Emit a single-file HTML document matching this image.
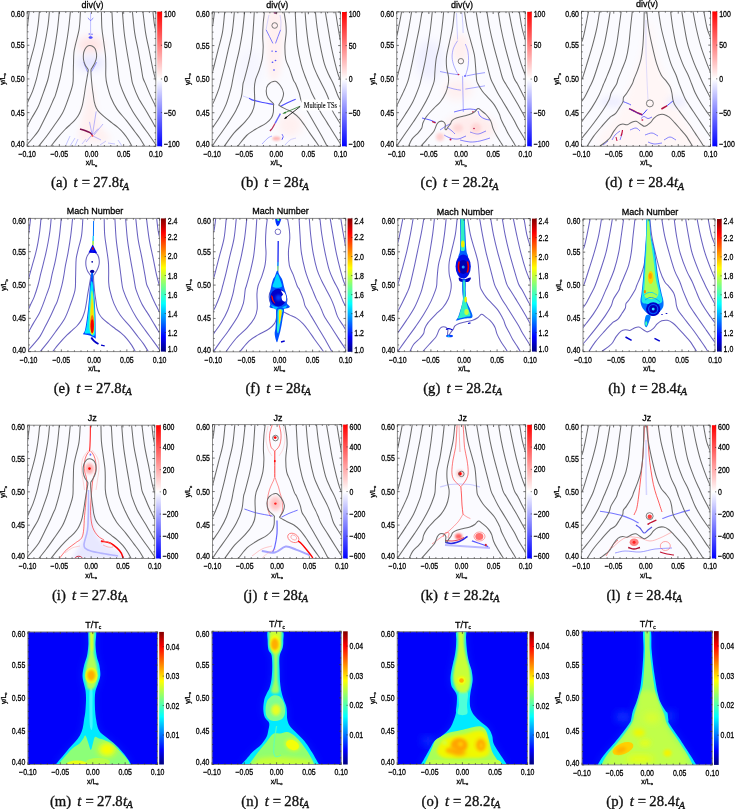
<!DOCTYPE html>
<html><head><meta charset="utf-8"><style>
html,body{margin:0;padding:0;background:#fff;}
svg.main{display:block;font-family:'Liberation Sans', sans-serif;will-change:transform;}
text{stroke:#000;stroke-width:0.28px;paint-order:stroke;}
text.cap{stroke-width:0.32px;}
</style></head><body>
<svg class="main" width="735" height="809" viewBox="0 0 735 809">
<rect width="735" height="809" fill="#fff"/>
<defs>
<linearGradient id="rwb" x1="0" y1="0" x2="0" y2="1">
<stop offset="0" stop-color="#ff0000"/><stop offset="0.5" stop-color="#ffffff"/><stop offset="1" stop-color="#0000ff"/>
</linearGradient>
<linearGradient id="jet" x1="0" y1="1" x2="0" y2="0">
<stop offset="0" stop-color="#000080"/><stop offset="0.11" stop-color="#0000ff"/><stop offset="0.36" stop-color="#00ffff"/>
<stop offset="0.5" stop-color="#7fff7f"/><stop offset="0.63" stop-color="#ffff00"/><stop offset="0.89" stop-color="#ff0000"/><stop offset="1" stop-color="#800000"/>
</linearGradient>
<filter id="b0_5" x="-50%" y="-50%" width="200%" height="200%"><feGaussianBlur stdDeviation="0.5"/></filter><filter id="b0_7" x="-50%" y="-50%" width="200%" height="200%"><feGaussianBlur stdDeviation="0.7"/></filter><filter id="b1" x="-50%" y="-50%" width="200%" height="200%"><feGaussianBlur stdDeviation="1"/></filter><filter id="b1_5" x="-50%" y="-50%" width="200%" height="200%"><feGaussianBlur stdDeviation="1.5"/></filter><filter id="b2" x="-50%" y="-50%" width="200%" height="200%"><feGaussianBlur stdDeviation="2"/></filter><filter id="b3" x="-50%" y="-50%" width="200%" height="200%"><feGaussianBlur stdDeviation="3"/></filter><filter id="b4" x="-50%" y="-50%" width="200%" height="200%"><feGaussianBlur stdDeviation="4"/></filter><filter id="b5" x="-50%" y="-50%" width="200%" height="200%"><feGaussianBlur stdDeviation="5"/></filter><filter id="b6" x="-50%" y="-50%" width="200%" height="200%"><feGaussianBlur stdDeviation="6"/></filter><clipPath id="cm"><path d="M88.9 630C87.65 632.5 88.72 640.67 88.4 645C88.08 649.33 87.7 652.67 87 656C86.3 659.33 84.95 661.75 84.2 665C83.45 668.25 82.53 672.33 82.5 675.5C82.47 678.67 83.48 681.42 84 684C84.52 686.58 85.27 688.33 85.6 691C85.93 693.67 86.05 696.5 86 700C85.95 703.5 85.63 708.67 85.3 712C84.97 715.33 84.43 717.3 84 720C83.57 722.7 83.38 725.6 82.7 728.2C82.02 730.8 81.15 733.33 79.9 735.6C78.65 737.87 77.02 739.63 75.2 741.8C73.38 743.97 71.05 746.22 69 748.6C66.95 750.98 65.05 753.5 62.9 756.1C60.75 758.7 57.5 762.38 56.1 764.2C54.7 766.02 55.03 766.07 54.5 767L132 767C131.6 765.97 131.45 765.15 130.8 763.9C130.15 762.65 129.12 761.03 128.1 759.5C127.08 757.97 125.95 756.3 124.7 754.7C123.45 753.1 122.07 751.48 120.6 749.9C119.13 748.32 117.6 746.78 115.9 745.2C114.2 743.62 112.22 741.88 110.4 740.4C108.58 738.92 106.7 737.67 105 736.3C103.3 734.93 101.43 733.75 100.2 732.2C98.97 730.65 98.27 729.03 97.6 727C96.93 724.97 96.6 722.5 96.2 720C95.8 717.5 95.43 715.33 95.2 712C94.97 708.67 94.75 703.5 94.8 700C94.85 696.5 94.98 693.67 95.5 691C96.02 688.33 97.1 686.58 97.9 684C98.7 681.42 100.07 678.67 100.3 675.5C100.53 672.33 99.87 668.08 99.3 665C98.73 661.92 97.53 660.33 96.9 657C96.27 653.67 95.67 649.5 95.5 645C95.33 640.5 97 632.5 95.9 630C94.8 627.5 90.15 627.5 88.9 630Z"/></clipPath><clipPath id="cn"><path d="M268.6 630C266.18 631.83 267.72 637.67 267.7 641C267.68 644.33 267.92 647.83 268.5 650C269.08 652.17 270.6 652.33 271.2 654C271.8 655.67 271.93 657.33 272.1 660C272.27 662.67 272.32 666.67 272.2 670C272.08 673.33 271.85 677 271.4 680C270.95 683 270.32 685.67 269.5 688C268.68 690.33 267.38 692 266.5 694C265.62 696 264.73 697.4 264.2 700C263.67 702.6 263.2 706.73 263.3 709.6C263.4 712.47 263.95 715.2 264.8 717.2C265.65 719.2 267.65 720.33 268.4 721.6C269.15 722.87 269.33 723.23 269.3 724.8C269.27 726.37 268.67 728.97 268.2 731C267.73 733.03 267.65 734.77 266.5 737C265.35 739.23 263.63 741.9 261.3 744.4C258.97 746.9 254.97 749.57 252.5 752C250.03 754.43 248.33 756.92 246.5 759C244.67 761.08 242.58 763.17 241.5 764.5C240.42 765.83 240.5 766.17 240 767L320 766C319.13 764.6 318.65 763.95 317.4 761.8C316.15 759.65 314.23 756 312.5 753.1C310.77 750.2 308.82 746.93 307 744.4C305.18 741.87 303.6 740.07 301.6 737.9C299.6 735.73 297.02 733.47 295 731.4C292.98 729.33 290.8 727.57 289.5 725.5C288.2 723.43 287.63 721.25 287.2 719C286.77 716.75 287.07 714.12 286.9 712C286.73 709.88 286.77 708.47 286.2 706.3C285.63 704.13 284.37 701.72 283.5 699C282.63 696.28 281.6 693.17 281 690C280.4 686.83 280.13 683.33 279.9 680C279.67 676.67 279.7 673.33 279.6 670C279.5 666.67 279.22 662.67 279.3 660C279.38 657.33 279.55 656 280.1 654C280.65 652 282.07 650.17 282.6 648C283.13 645.83 283.37 644 283.3 641C283.23 638 284.65 631.83 282.2 630C279.75 628.17 271.02 628.17 268.6 630Z"/></clipPath><clipPath id="co"><path d="M456.7 630C455.15 631.67 456.45 636.83 456.3 640C456.15 643.17 456.1 646.17 455.8 649C455.5 651.83 454.95 654.67 454.5 657C454.05 659.33 453.65 660.5 453.1 663C452.55 665.5 451.63 669.33 451.2 672C450.77 674.67 450.45 676.67 450.5 679C450.55 681.33 450.92 684.17 451.5 686C452.08 687.83 453.13 688.5 454 690C454.87 691.5 456.23 692.83 456.7 695C457.17 697.17 456.92 700.5 456.8 703C456.68 705.5 456.22 708 456 710C455.78 712 456.4 712.13 455.5 715C454.6 717.87 452.85 723.73 450.6 727.2C448.35 730.67 444.65 733.55 442 735.8C439.35 738.05 436.53 738.87 434.7 740.7C432.87 742.53 432.43 744.35 431 746.8C429.57 749.25 427.73 752.53 426.1 755.4C424.47 758.27 422.22 762.07 421.2 764C420.18 765.93 420.4 766 420 767L506.5 767C506.23 765.6 507.05 765.35 505.7 762.8C504.35 760.25 500.43 754.97 498.4 751.7C496.37 748.43 494.53 745.85 493.5 743.2C492.47 740.55 493.02 738.25 492.2 735.8C491.38 733.35 490.43 730.75 488.6 728.5C486.77 726.25 483.65 724.55 481.2 722.3C478.75 720.05 475.68 717.38 473.9 715C472.12 712.62 471.18 710.5 470.5 708C469.82 705.5 469.78 702.67 469.8 700C469.82 697.33 470.27 694.33 470.6 692C470.93 689.67 471.45 688.17 471.8 686C472.15 683.83 472.75 681.67 472.7 679C472.65 676.33 472.08 672.67 471.5 670C470.92 667.33 469.87 665.5 469.2 663C468.53 660.5 467.95 657.83 467.5 655C467.05 652.17 466.75 648.83 466.5 646C466.25 643.17 466.15 640.67 466 638C465.85 635.33 467.15 631.33 465.6 630C464.05 628.67 458.25 628.33 456.7 630Z"/></clipPath><clipPath id="cp"><path d="M643.5 630C642.32 633.17 643.65 642.9 643.5 649C643.35 655.1 643.05 660.68 642.6 666.6C642.15 672.52 641.4 680.03 640.8 684.5C640.2 688.97 639.73 690.43 639 693.4C638.27 696.37 637.43 699.33 636.4 702.3C635.37 705.27 633.7 708.25 632.8 711.2C631.9 714.15 631.6 717.92 631 720C630.4 722.08 631.28 720.7 629.2 723.7C627.12 726.7 622.8 732.65 618.5 738C614.2 743.35 606.98 751.13 603.4 755.8C599.82 760.47 598.23 764.13 597 766C595.77 767.87 596.33 766.67 596 767L698 767C697.67 766.67 698.22 767.87 697 766C695.78 764.13 693.68 760.47 690.7 755.8C687.72 751.13 682.67 743.35 679.1 738C675.53 732.65 671.08 726.7 669.3 723.7C667.52 720.7 668.7 721.78 668.4 720C668.1 718.22 667.93 714.47 667.5 713C667.07 711.53 666.98 712.98 665.8 711.2C664.62 709.42 661.75 705.27 660.4 702.3C659.05 699.33 658.43 696.37 657.7 693.4C656.97 690.43 656.73 688.97 656 684.5C655.27 680.03 654.05 672.52 653.3 666.6C652.55 660.68 651.95 655.1 651.5 649C651.05 642.9 651.93 633.17 650.6 630C649.27 626.83 644.68 626.83 643.5 630Z"/></clipPath>
</defs>
<g id="pa"><svg x="27.2" y="11.6" width="128.6" height="134.7" viewBox="27.2 11.6 128.6 134.7" preserveAspectRatio="none" overflow="hidden"><rect x="26.2" y="10.6" width="130.6" height="136.7" fill="#fbfbff"/><ellipse cx="90.5" cy="45" rx="13" ry="9" fill="#ffe4e4" filter="url(#b4)"/><ellipse cx="90.5" cy="63" rx="14" ry="7" fill="#e6e6ff" filter="url(#b4)"/><path d="M86 100C87 94.17 87 87.5 88 85C89 82.5 90.83 82.5 92 85C93.17 87.5 93.67 93.33 95 100C96.33 106.67 97.5 118.33 100 125C102.5 131.67 113.33 137.5 110 140C106.67 142.5 84.67 143.33 80 140C75.33 136.67 81 126.67 82 120C83 113.33 85 105.83 86 100Z" fill="#fff0f0" filter="url(#b3)"/><path d="M90.6 12.5C90.6 16.67 90.6 20.58 90.6 25C90.6 29.42 90.6 34.33 90.6 39" stroke="#9090ff" stroke-width="0.8" fill="none" opacity="0.7"/><path d="M88 17.8C88.87 18.7 89.73 20.5 90.6 20.5C91.47 20.5 92.33 18.7 93.2 17.8" stroke="#6060ff" stroke-width="0.9" fill="none" opacity="0.8"/><ellipse cx="90.6" cy="37.5" rx="2" ry="1.2" fill="#5050ff" filter="url(#b0_5)"/><ellipse cx="89.3" cy="34" rx="0.8" ry="0.8" fill="#7070ff" filter="url(#b0_3)"/><ellipse cx="92" cy="34.2" rx="0.8" ry="0.8" fill="#7070ff" filter="url(#b0_3)"/><path d="M83.8 62.2C84.47 63.97 85.17 65.87 85.8 67.5C86.43 69.13 87 70.5 87.6 72" stroke="#6060ff" stroke-width="0.8" fill="none" opacity="0.8"/><path d="M96.6 62.2C95.67 63.97 94.65 65.93 93.8 67.5C92.95 69.07 92.27 70.23 91.5 71.6" stroke="#6060ff" stroke-width="0.8" fill="none" opacity="0.8"/><path d="M80 129C81.6 129.5 83.22 129.93 84.8 130.5C86.38 131.07 88.23 131.68 89.5 132.4C90.77 133.12 91.43 134 92.4 134.8" stroke="#801050" stroke-width="1.5" fill="none"/><ellipse cx="92.4" cy="135.7" rx="1" ry="1" fill="#ff4040" filter="url(#b0_4)"/><path d="M92.4 135L96.2 111.4" stroke="#7070ff" stroke-width="0.7" fill="none" opacity="0.7"/><path d="M92 134L89.5 121.9" stroke="#7070ff" stroke-width="0.7" fill="none" opacity="0.7"/><path d="M93.5 134L98 128.6" stroke="#7070ff" stroke-width="0.7" fill="none" opacity="0.7"/><path d="M93 136L101 140" stroke="#7070ff" stroke-width="0.7" fill="none" opacity="0.7"/><path d="M91 136L86 142" stroke="#7070ff" stroke-width="0.7" fill="none" opacity="0.7"/><path d="M94 135L103 124" stroke="#7070ff" stroke-width="0.7" fill="none" opacity="0.7"/><path d="M66 145L70 136" stroke="#8080ff" stroke-width="0.7" fill="none" opacity="0.6"/><path d="M70 146L75 138" stroke="#8080ff" stroke-width="0.7" fill="none" opacity="0.6"/><path d="M75 146L78 139" stroke="#8080ff" stroke-width="0.7" fill="none" opacity="0.6"/><path d="M82 144L86 139" stroke="#8080ff" stroke-width="0.7" fill="none" opacity="0.6"/><path d="M100 145L106 141" stroke="#8080ff" stroke-width="0.7" fill="none" opacity="0.6"/><path d="M108 143L115 144" stroke="#8080ff" stroke-width="0.7" fill="none" opacity="0.6"/><path d="M118 140L122 146" stroke="#8080ff" stroke-width="0.7" fill="none" opacity="0.6"/><path d="M29.2 11.6C28.9 14.07 28.63 16.35 28.3 19C27.97 21.65 27.58 25.17 27.2 27.5C26.82 29.83 26.4 31.17 26 33M39.4 11.6C39 15.73 38.7 19.93 38.2 24C37.7 28.07 37.08 32.17 36.4 36C35.72 39.83 34.97 43.4 34.1 47C33.23 50.6 32.02 54.6 31.2 57.6C30.38 60.6 29.87 62.52 29.2 65C28.53 67.48 27.73 70.67 27.2 72.5C26.67 74.33 26.4 74.83 26 76M49.4 11.6C49 15.73 48.72 19.93 48.2 24C47.68 28.07 46.98 32.17 46.3 36C45.62 39.83 44.88 43.4 44.1 47C43.32 50.6 42.45 54.1 41.6 57.6C40.75 61.1 39.87 64.4 39 68C38.13 71.6 37.45 75.38 36.4 79.2C35.35 83.02 33.85 87.77 32.7 90.9C31.55 94.03 30.42 95.93 29.5 98C28.58 100.07 27.78 101.97 27.2 103.3C26.62 104.63 26.4 105.1 26 106M59.3 11.6C58.6 18.27 58.13 24.65 57.2 31.6C56.27 38.55 54.85 47.23 53.7 53.3C52.55 59.37 51.27 63.63 50.3 68C49.33 72.37 49 75.52 47.9 79.5C46.8 83.48 44.88 88.48 43.7 91.9C42.52 95.32 41.83 97.3 40.8 100C39.77 102.7 38.97 105.18 37.5 108.1C36.03 111.02 33.72 114.48 32 117.5C30.28 120.52 28.2 124.45 27.2 126.2C26.2 127.95 26.4 127.4 26 128M70.4 11.6C69.8 17.3 69.35 22.9 68.6 28.7C67.85 34.5 66.78 41.23 65.9 46.4C65.02 51.57 64 55.77 63.3 59.7C62.6 63.63 62.28 66.7 61.7 70C61.12 73.3 60.82 75.38 59.8 79.5C58.78 83.62 56.68 91.28 55.6 94.7C54.52 98.12 54.42 97.45 53.3 100C52.18 102.55 50.53 106.5 48.9 110C47.27 113.5 45.25 117.52 43.5 121C41.75 124.48 40.32 127.9 38.4 130.9C36.48 133.9 33.87 136.73 32 139C30.13 141.27 28.2 143.33 27.2 144.5C26.2 145.67 26.4 145.5 26 146M80.5 11.6C80.07 17.3 80 23.35 79.2 28.7C78.4 34.05 76.58 39.72 75.7 43.7C74.82 47.68 74.27 49.2 73.9 52.6C73.53 56 73.6 60.87 73.5 64.1C73.4 67.33 73.43 68.63 73.3 72C73.17 75.37 73.62 79.63 72.7 84.3C71.78 88.97 69.52 95.17 67.8 100C66.08 104.83 64.78 108.88 62.4 113.3C60.02 117.72 56.23 122.55 53.5 126.5C50.77 130.45 48.5 133.7 46 137C43.5 140.3 39.92 144.47 38.5 146.3C37.08 148.13 37.83 147.43 37.5 148M50.8 146.3C52.9 143.63 54.73 141.1 57.1 138.3C59.47 135.5 62.85 131.75 65 129.5C67.15 127.25 68.4 126.32 70 124.8C71.6 123.28 73.27 121.87 74.6 120.4C75.93 118.93 77.05 117.48 78 116C78.95 114.52 79.57 113.3 80.3 111.5C81.03 109.7 81.77 107.78 82.4 105.2C83.03 102.62 83.62 98.87 84.1 96C84.58 93.13 84.82 91 85.3 88C85.78 85 86.52 80.92 87 78C87.48 75.08 88.12 72.08 88.2 70.5C88.28 68.92 88 69.42 87.5 68.5C87 67.58 85.85 66.42 85.2 65C84.55 63.58 83.88 61.83 83.6 60C83.32 58.17 83.3 55.75 83.5 54C83.7 52.25 84.18 50.78 84.8 49.5C85.42 48.22 86.37 46.97 87.2 46.3C88.03 45.63 88.92 45.52 89.8 45.5C90.68 45.48 91.63 45.7 92.5 46.2C93.37 46.7 94.35 47.37 95 48.5C95.65 49.63 96.17 51.42 96.4 53C96.63 54.58 96.67 56.33 96.4 58C96.13 59.67 95.48 61.42 94.8 63C94.12 64.58 92.93 66.33 92.3 67.5C91.67 68.67 91.17 68.25 91 70C90.83 71.75 91.08 75 91.3 78C91.52 81 91.97 85.17 92.3 88C92.63 90.83 92.97 92.7 93.3 95C93.63 97.3 93.8 99.65 94.3 101.8C94.8 103.95 95.4 106.08 96.3 107.9C97.2 109.72 98.1 111 99.7 112.7C101.3 114.4 103.85 116.4 105.9 118.1C107.95 119.8 109.97 121.3 112 122.9C114.03 124.5 116.18 126 118.1 127.7C120.02 129.4 121.77 131.05 123.5 133.1C125.23 135.15 127.08 137.8 128.5 140C129.92 142.2 131.25 144.97 132 146.3C132.75 147.63 132.67 147.43 133 148M101.4 11.6C101.57 17.13 101.52 23.15 101.9 28.2C102.28 33.25 103.1 37.33 103.7 41.9C104.3 46.47 105.15 51.58 105.5 55.6C105.85 59.62 105.75 62.6 105.8 66C105.85 69.4 105.62 72.98 105.8 76C105.98 79.02 106.03 80.47 106.9 84.1C107.77 87.73 109.27 93.55 111 97.8C112.73 102.05 114.72 105.8 117.3 109.6C119.88 113.4 123.6 116.95 126.5 120.6C129.4 124.25 132.45 128.52 134.7 131.5C136.95 134.48 138.33 136.03 140 138.5C141.67 140.97 143.7 144.72 144.7 146.3C145.7 147.88 145.57 147.43 146 148M111.9 11.6C112.33 18.67 112.6 26.23 113.2 32.8C113.8 39.37 114.73 44.92 115.5 51C116.27 57.08 117.28 65.13 117.8 69.3C118.32 73.47 118.22 73.53 118.6 76C118.98 78.47 118.93 80.47 120.1 84.1C121.27 87.73 123.48 93.23 125.6 97.8C127.72 102.37 130.07 106.95 132.8 111.5C135.53 116.05 139.25 121.15 142 125.1C144.75 129.05 147 131.97 149.3 135.2C151.6 138.43 154.52 142.7 155.8 144.5C157.08 146.3 156.6 145.5 157 146M122.4 11.6C123 18.67 123.45 26.23 124.2 32.8C124.95 39.37 125.92 44.92 126.9 51C127.88 57.08 129.33 64.8 130.1 69.3C130.87 73.8 131.05 75.53 131.5 78C131.95 80.47 131.67 80.8 132.8 84.1C133.93 87.4 136.02 93.23 138.3 97.8C140.58 102.37 143.92 107.1 146.5 111.5C149.08 115.9 152.25 121.53 153.8 124.2C155.35 126.87 155.27 126.7 155.8 127.5C156.33 128.3 156.6 128.5 157 129M132.4 11.6C133.17 18.67 133.72 26.23 134.7 32.8C135.68 39.37 137.17 44.92 138.3 51C139.43 57.08 140.72 64.8 141.5 69.3C142.28 73.8 142.32 75.53 143 78C143.68 80.47 144.4 81.25 145.6 84.1C146.8 86.95 148.5 91.37 150.2 95.1C151.9 98.83 154.67 104.18 155.8 106.5C156.93 108.82 156.6 108.17 157 109M142.9 11.6C143.8 18.67 144.53 26.23 145.6 32.8C146.67 39.37 148.08 44.92 149.3 51C150.52 57.08 151.92 64.8 152.9 69.3C153.88 73.8 154.72 76.22 155.2 78C155.68 79.78 155.5 79.33 155.8 80C156.1 80.67 156.6 81.33 157 82M152.9 11.6C153.37 15.63 153.82 20.47 154.3 23.7C154.78 26.93 155.35 29.28 155.8 31C156.25 32.72 156.6 33 157 34" fill="none" stroke="#6c6c6c" stroke-width="1.05"/></svg>
<rect x="27.2" y="11.6" width="128.6" height="134.7" fill="none" stroke="#8a8a8a" stroke-width="1"/>
<path d="M27.2 146.3v-2.2M27.2 11.6v2.2M27.2 11.6h2.2M155.8 11.6h-2.2M33.63 146.3v-1.3M33.63 11.6v1.3M27.2 18.34h1.3M155.8 18.34h-1.3M40.06 146.3v-1.3M40.06 11.6v1.3M27.2 25.07h1.3M155.8 25.07h-1.3M46.49 146.3v-1.3M46.49 11.6v1.3M27.2 31.8h1.3M155.8 31.8h-1.3M52.92 146.3v-1.3M52.92 11.6v1.3M27.2 38.54h1.3M155.8 38.54h-1.3M59.35 146.3v-2.2M59.35 11.6v2.2M27.2 45.28h2.2M155.8 45.28h-2.2M65.78 146.3v-1.3M65.78 11.6v1.3M27.2 52.01h1.3M155.8 52.01h-1.3M72.21 146.3v-1.3M72.21 11.6v1.3M27.2 58.75h1.3M155.8 58.75h-1.3M78.64 146.3v-1.3M78.64 11.6v1.3M27.2 65.48h1.3M155.8 65.48h-1.3M85.07 146.3v-1.3M85.07 11.6v1.3M27.2 72.22h1.3M155.8 72.22h-1.3M91.5 146.3v-2.2M91.5 11.6v2.2M27.2 78.95h2.2M155.8 78.95h-2.2M97.93 146.3v-1.3M97.93 11.6v1.3M27.2 85.69h1.3M155.8 85.69h-1.3M104.36 146.3v-1.3M104.36 11.6v1.3M27.2 92.42h1.3M155.8 92.42h-1.3M110.79 146.3v-1.3M110.79 11.6v1.3M27.2 99.16h1.3M155.8 99.16h-1.3M117.22 146.3v-1.3M117.22 11.6v1.3M27.2 105.89h1.3M155.8 105.89h-1.3M123.65 146.3v-2.2M123.65 11.6v2.2M27.2 112.62h2.2M155.8 112.62h-2.2M130.08 146.3v-1.3M130.08 11.6v1.3M27.2 119.36h1.3M155.8 119.36h-1.3M136.51 146.3v-1.3M136.51 11.6v1.3M27.2 126.09h1.3M155.8 126.09h-1.3M142.94 146.3v-1.3M142.94 11.6v1.3M27.2 132.83h1.3M155.8 132.83h-1.3M149.37 146.3v-1.3M149.37 11.6v1.3M27.2 139.56h1.3M155.8 139.56h-1.3M155.8 146.3v-2.2M155.8 11.6v2.2M27.2 146.3h2.2M155.8 146.3h-2.2" stroke="#333" stroke-width="0.7" fill="none"/>
<g fill="#000"><text x="11.06" y="16.82" font-size="8.4" textLength="13.54" lengthAdjust="spacingAndGlyphs">0.60</text><text x="11.06" y="48.3" font-size="8.4" textLength="13.54" lengthAdjust="spacingAndGlyphs">0.55</text><text x="11.06" y="81.97" font-size="8.4" textLength="13.54" lengthAdjust="spacingAndGlyphs">0.50</text><text x="11.06" y="115.65" font-size="8.4" textLength="13.54" lengthAdjust="spacingAndGlyphs">0.45</text><text x="11.06" y="147.22" font-size="8.4" textLength="13.54" lengthAdjust="spacingAndGlyphs">0.40</text><text x="18.4" y="157.22" font-size="8.4" textLength="17.61" lengthAdjust="spacingAndGlyphs">−0.10</text><text x="50.55" y="157.22" font-size="8.4" textLength="17.61" lengthAdjust="spacingAndGlyphs">−0.05</text><text x="84.73" y="157.22" font-size="8.4" textLength="13.54" lengthAdjust="spacingAndGlyphs">0.00</text><text x="116.88" y="157.22" font-size="8.4" textLength="13.54" lengthAdjust="spacingAndGlyphs">0.05</text><text x="149.03" y="157.22" font-size="8.4" textLength="13.54" lengthAdjust="spacingAndGlyphs">0.10</text><text x="164" y="16.82" font-size="8.4" textLength="11.61" lengthAdjust="spacingAndGlyphs">100</text><text x="164" y="48.3" font-size="8.4" textLength="7.74" lengthAdjust="spacingAndGlyphs">50</text><text x="164" y="81.97" font-size="8.4" textLength="3.87" lengthAdjust="spacingAndGlyphs">0</text><text x="164" y="115.65" font-size="8.4" textLength="11.8" lengthAdjust="spacingAndGlyphs">−50</text><text x="164" y="147.02" font-size="8.4" textLength="15.67" lengthAdjust="spacingAndGlyphs">−100</text></g>
<text x="91.5" y="165.3" font-size="7" text-anchor="middle" fill="#000">x/L<tspan font-size="4" dy="1.2">o</tspan></text>
<text transform="translate(5,78.95) rotate(-90)" font-size="7" text-anchor="middle" fill="#000">y/L<tspan font-size="4" dy="1.2">o</tspan></text>
<text x="92.5" y="7.6" font-size="9" text-anchor="middle" fill="#000">div(v)</text>
<rect x="157.2" y="11.6" width="4.9" height="134.7" fill="url(#rwb)"/>
<path d="M162.1 11.6h-1.2M162.1 45.28h-1.2M162.1 78.95h-1.2M162.1 112.62h-1.2M162.1 146.3h-1.2" stroke="#222" stroke-width="0.6"/>
<g class="cap" font-family="'Liberation Serif', serif" font-size="14.7" fill="#111"><text class="cap" x="51.09" y="187.3">(a)</text><text class="cap" x="73.61" y="187.3" font-style="italic">t</text><text class="cap" x="81.69" y="187.3">=</text><text class="cap" x="93.28" y="187.3">27.8</text><text class="cap" x="119.21" y="187.3" font-style="italic">t</text><text class="cap" x="122.81" y="189.9" font-style="italic" font-size="10.3">A</text></g>
</g>
<g id="pb"><svg x="212.2" y="12" width="128.2" height="134.3" viewBox="212.2 12 128.2 134.3" preserveAspectRatio="none" overflow="hidden"><rect x="211.2" y="11" width="130.2" height="136.3" fill="#fbfbff"/><path d="M268 13C270.5 8.5 278.5 8.5 281 13C283.5 17.5 283.17 30.5 283 40C282.83 49.5 281.17 63.33 280 70C278.83 76.67 277.33 78.33 276 80C274.67 81.67 273.33 81.67 272 80C270.67 78.33 269 76.67 268 70C267 63.33 266 49.5 266 40C266 30.5 265.5 17.5 268 13Z" fill="#fff0f0" filter="url(#b3)"/><ellipse cx="250" cy="70" rx="12" ry="20" fill="#f6f6ff" filter="url(#b5)"/><path d="M266.1 29.8C267.23 32.07 268.37 34.33 269.5 36.6C270.63 38.87 271.77 41.13 272.9 43.4" stroke="#6060ff" stroke-width="0.9" fill="none" opacity="0.9"/><path d="M280.6 29.8C279.73 32.07 278.85 34.33 278 36.6C277.15 38.87 276.33 41.13 275.5 43.4" stroke="#6060ff" stroke-width="0.9" fill="none" opacity="0.9"/><path d="M269 15C268.5 17.33 267.98 19.53 267.5 22C267.02 24.47 266.57 27.2 266.1 29.8" stroke="#a0a0ff" stroke-width="0.7" fill="none" opacity="0.6"/><path d="M280 15C280.33 17.33 280.9 19.53 281 22C281.1 24.47 280.73 27.2 280.6 29.8" stroke="#a0a0ff" stroke-width="0.7" fill="none" opacity="0.6"/><ellipse cx="272.1" cy="51.1" rx="0.9" ry="0.7" fill="#5050ff" filter="url(#b0_3)"/><ellipse cx="275.9" cy="51.5" rx="0.9" ry="0.7" fill="#5050ff" filter="url(#b0_3)"/><ellipse cx="272.5" cy="62.2" rx="0.9" ry="0.7" fill="#5050ff" filter="url(#b0_3)"/><ellipse cx="275.5" cy="60.5" rx="0.9" ry="0.7" fill="#5050ff" filter="url(#b0_3)"/><ellipse cx="274" cy="70" rx="0.9" ry="0.7" fill="#5050ff" filter="url(#b0_3)"/><ellipse cx="275.5" cy="12.8" rx="2" ry="1" fill="#802060" filter="url(#b0_3)"/><path d="M249 98.2C250.57 98.93 251.37 99.68 253.7 100.4C256.03 101.12 259.73 101.83 263 102.5C266.27 103.17 269.87 103.77 273.3 104.4" stroke="#3030ff" stroke-width="1.2" fill="none" opacity="0.85"/><path d="M243 96C245 96.73 247 97.47 249 98.2" stroke="#b0b0ff" stroke-width="0.9" fill="none" opacity="0.6"/><path d="M280.4 106.4C282.6 105.27 284.45 104.2 287 103C289.55 101.8 292.8 100.47 295.7 99.2" stroke="#3030ff" stroke-width="1.2" fill="none" opacity="0.85"/><path d="M280.4 113.6C279.6 115.07 278.9 116.35 278 118C277.1 119.65 276 121.67 275 123.5" stroke="#2020ff" stroke-width="1.4" fill="none" opacity="0.9"/><path d="M275 123.5C274.17 125 273.33 126.75 272.5 128C271.67 129.25 270.83 130 270 131" stroke="#b02050" stroke-width="1.3" fill="none"/><ellipse cx="276.5" cy="138.4" rx="4" ry="2" fill="#ffb0b0" filter="url(#b1)"/><path d="M282 134 Q284.5 136.5 282 139.7" stroke="#3030ff" stroke-width="1" fill="none"/><path d="M262 144C264 142 266.33 139.33 268 138C269.67 136.67 270.67 136.67 272 136" stroke="#7070ff" stroke-width="0.8" fill="none" opacity="0.7"/><path d="M285 145C286.67 143.33 288.17 141.17 290 140C291.83 138.83 294 138.67 296 138" stroke="#9090ff" stroke-width="0.8" fill="none" opacity="0.6"/><ellipse cx="290" cy="125" rx="12" ry="12" fill="#fff0f0" filter="url(#b4)"/><path d="M214.5 12C214 15.77 213.43 20.88 213 23.3C212.57 25.72 212.32 25.55 211.9 26.5C211.48 27.45 210.97 28.17 210.5 29M224.7 12C223.97 18.7 223.6 25.8 222.5 32.1C221.4 38.4 219.57 43.9 218.1 49.8C216.63 55.7 214.73 63.52 213.7 67.5C212.67 71.48 212.43 72.12 211.9 73.7C211.37 75.28 210.97 75.9 210.5 77M234.4 12C233.67 18.7 233.23 25.8 232.2 32.1C231.17 38.4 229.52 43.9 228.2 49.8C226.88 55.7 225.47 62.5 224.3 67.5C223.13 72.5 222.08 76.32 221.2 79.8C220.32 83.28 220.1 85.05 219 88.4C217.9 91.75 215.78 97.08 214.6 99.9C213.42 102.72 212.58 103.95 211.9 105.3C211.22 106.65 210.97 107.1 210.5 108M244.6 12C243.87 18.7 243.28 25.8 242.4 32.1C241.52 38.4 240.4 44.35 239.3 49.8C238.2 55.25 236.9 59.8 235.8 64.8C234.7 69.8 233.5 75.87 232.7 79.8C231.9 83.73 232.1 84.3 231 88.4C229.9 92.5 227.95 99.67 226.1 104.4C224.25 109.13 222.12 112.95 219.9 116.8C217.68 120.65 214.13 125.47 212.8 127.5C211.47 129.53 212.28 128.42 211.9 129C211.52 129.58 210.97 130.33 210.5 131M254.3 12C253.87 18.7 253.52 25.8 253 32.1C252.48 38.4 252.02 44.35 251.2 49.8C250.38 55.25 249.27 59.8 248.1 64.8C246.93 69.8 245.05 76.62 244.2 79.8C243.35 82.98 243.48 81 243 83.9C242.52 86.8 242.48 92.75 241.3 97.2C240.12 101.65 238.28 106 235.9 110.6C233.52 115.2 229.97 120.35 227 124.8C224.03 129.25 220.47 133.88 218.1 137.3C215.73 140.72 213.9 143.6 212.8 145.3C211.7 147 211.93 146.77 211.5 147.5M264.5 12C264.07 15.77 263.5 19.22 263.2 23.3C262.9 27.38 262.7 32.53 262.7 36.5C262.7 40.47 263.27 43.42 263.2 47.1C263.13 50.78 262.97 54.77 262.3 58.6C261.63 62.43 260.33 66.57 259.2 70.1C258.07 73.63 256.3 76.82 255.5 79.8C254.7 82.78 254.55 84.05 254.4 88C254.25 91.95 255.02 99.43 254.6 103.5C254.18 107.57 253.53 109.28 251.9 112.4C250.27 115.52 247.77 118.78 244.8 122.2C241.83 125.62 237.52 128.88 234.1 132.9C230.68 136.92 226.07 143.78 224.3 146.3C222.53 148.82 223.77 147.43 223.5 148M237.7 146.3C240.67 142.7 243.63 138.33 246.6 135.5C249.57 132.67 252.23 131.37 255.5 129.3C258.77 127.23 263.53 125.03 266.2 123.1C268.87 121.17 270.32 119.48 271.5 117.7C272.68 115.92 272.97 114.38 273.3 112.4C273.63 110.42 273.5 107.28 273.5 105.8C273.5 104.32 274.22 104.78 273.3 103.5C272.38 102.22 269.18 100.18 268 98.1C266.82 96.02 266.2 93.22 266.2 91C266.2 88.78 266.52 86.43 268 84.8C269.48 83.17 273.03 81.03 275.1 81.2C277.17 81.37 279 83.83 280.4 85.8C281.8 87.77 283.2 90.77 283.5 93C283.8 95.23 282.92 97.33 282.2 99.2C281.48 101.07 279.65 103.13 279.2 104.2C278.75 105.27 278.4 104.78 279.5 105.6C280.6 106.42 283.55 107.92 285.8 109.1C288.05 110.28 290.77 111.2 293 112.7C295.23 114.2 297.27 116 299.2 118.1C301.13 120.2 302.8 122.75 304.6 125.3C306.4 127.85 308.05 130.57 310 133.4C311.95 136.23 314.8 140.15 316.3 142.3C317.8 144.45 318.38 145.35 319 146.3C319.62 147.25 319.67 147.43 320 148M284 12C284.6 15.83 285.43 20.1 285.8 23.5C286.17 26.9 286.35 28.67 286.2 32.4C286.05 36.13 284.97 41.4 284.9 45.9C284.83 50.4 285.05 55.65 285.8 59.4C286.55 63.15 288.13 64.97 289.4 68.4C290.67 71.83 292.35 77.4 293.4 80C294.45 82.6 294.73 81.83 295.7 84C296.67 86.17 298.32 90.32 299.2 93C300.08 95.68 300.2 98.1 301 100.1C301.8 102.1 302.95 103.2 304 105C305.05 106.8 305.55 107.82 307.3 110.9C309.05 113.98 312.1 119.3 314.5 123.5C316.9 127.7 319.6 132.3 321.7 136.1C323.8 139.9 326.05 144.32 327.1 146.3C328.15 148.28 327.7 147.43 328 148M295.2 12C295.5 17.33 295.73 22.35 296.1 28C296.47 33.65 296.58 39.92 297.4 45.9C298.22 51.88 299.8 59.05 301 63.9C302.2 68.75 303.4 71.65 304.6 75C305.8 78.35 307 81 308.2 84C309.4 87 310.75 90.62 311.8 93C312.85 95.38 313.63 96.47 314.5 98.3C315.37 100.13 316.1 101.9 317 104C317.9 106.1 318.22 107.8 319.9 110.9C321.58 114 324.7 118.7 327.1 122.6C329.5 126.5 332.08 130.77 334.3 134.3C336.52 137.83 339.2 141.85 340.4 143.8C341.6 145.75 341.13 145.27 341.5 146M305.1 12C305.53 17.33 305.8 22.35 306.4 28C307 33.65 307.65 39.92 308.7 45.9C309.75 51.88 311.28 59.05 312.7 63.9C314.12 68.75 315.7 71.65 317.2 75C318.7 78.35 320.2 81 321.7 84C323.2 87 324.98 90.33 326.2 93C327.42 95.67 327.95 97.02 329 100C330.05 102.98 331.02 107.58 332.5 110.9C333.98 114.22 336.58 117.72 337.9 119.9C339.22 122.08 339.8 122.98 340.4 124C341 125.02 341.13 125.33 341.5 126M315.4 12C316 17.33 316.38 22.35 317.2 28C318.02 33.65 319.1 39.92 320.3 45.9C321.5 51.88 322.97 59.05 324.4 63.9C325.83 68.75 327.4 71.65 328.9 75C330.4 78.35 331.9 80.55 333.4 84C334.9 87.45 336.73 92.95 337.9 95.7C339.07 98.45 339.8 99.28 340.4 100.5C341 101.72 341.13 102.17 341.5 103M325.3 12C326.2 17.33 327.03 22.35 328 28C328.97 33.65 329.9 39.92 331.1 45.9C332.3 51.88 334 59.05 335.2 63.9C336.4 68.75 337.43 72.4 338.3 75C339.17 77.6 339.87 78.33 340.4 79.5C340.93 80.67 341.13 81.17 341.5 82M335.6 12C336.2 15.83 336.72 19.35 337.4 23.5C338.08 27.65 339.2 34.15 339.7 36.9C340.2 39.65 340.1 38.98 340.4 40C340.7 41.02 341.13 42 341.5 43" fill="none" stroke="#6c6c6c" stroke-width="1.05"/><circle cx="274.7" cy="25.5" r="2.8" fill="none" stroke="#6c6c6c" stroke-width="0.9"/><rect x="301.5" y="99.5" width="38.5" height="11" fill="#fff"/><text x="303.8" y="108.2" font-family="Liberation Serif, serif" font-size="7.6" fill="#000" style="stroke-width:0.1px" textLength="33.2" lengthAdjust="spacingAndGlyphs">Multiple TSs</text><path d="M300.1 106.2 L283.5 113.3" stroke="#2a7a2a" stroke-width="0.8"/><path d="M282.2 113.8 L285.6 111.4 L286.1 113.2 Z" fill="#2a7a2a"/><path d="M300.1 106.6 L285 118.4" stroke="#000" stroke-width="0.8"/><path d="M283.8 119.3 L286.2 116.2 L287.2 117.9 Z" fill="#000"/></svg>
<rect x="212.2" y="12" width="128.2" height="134.3" fill="none" stroke="#8a8a8a" stroke-width="1"/>
<path d="M212.2 146.3v-2.2M212.2 12v2.2M212.2 12h2.2M340.4 12h-2.2M218.61 146.3v-1.3M218.61 12v1.3M212.2 18.71h1.3M340.4 18.71h-1.3M225.02 146.3v-1.3M225.02 12v1.3M212.2 25.43h1.3M340.4 25.43h-1.3M231.43 146.3v-1.3M231.43 12v1.3M212.2 32.15h1.3M340.4 32.15h-1.3M237.84 146.3v-1.3M237.84 12v1.3M212.2 38.86h1.3M340.4 38.86h-1.3M244.25 146.3v-2.2M244.25 12v2.2M212.2 45.58h2.2M340.4 45.58h-2.2M250.66 146.3v-1.3M250.66 12v1.3M212.2 52.29h1.3M340.4 52.29h-1.3M257.07 146.3v-1.3M257.07 12v1.3M212.2 59.01h1.3M340.4 59.01h-1.3M263.48 146.3v-1.3M263.48 12v1.3M212.2 65.72h1.3M340.4 65.72h-1.3M269.89 146.3v-1.3M269.89 12v1.3M212.2 72.44h1.3M340.4 72.44h-1.3M276.3 146.3v-2.2M276.3 12v2.2M212.2 79.15h2.2M340.4 79.15h-2.2M282.71 146.3v-1.3M282.71 12v1.3M212.2 85.87h1.3M340.4 85.87h-1.3M289.12 146.3v-1.3M289.12 12v1.3M212.2 92.58h1.3M340.4 92.58h-1.3M295.53 146.3v-1.3M295.53 12v1.3M212.2 99.3h1.3M340.4 99.3h-1.3M301.94 146.3v-1.3M301.94 12v1.3M212.2 106.01h1.3M340.4 106.01h-1.3M308.35 146.3v-2.2M308.35 12v2.2M212.2 112.73h2.2M340.4 112.73h-2.2M314.76 146.3v-1.3M314.76 12v1.3M212.2 119.44h1.3M340.4 119.44h-1.3M321.17 146.3v-1.3M321.17 12v1.3M212.2 126.16h1.3M340.4 126.16h-1.3M327.58 146.3v-1.3M327.58 12v1.3M212.2 132.87h1.3M340.4 132.87h-1.3M333.99 146.3v-1.3M333.99 12v1.3M212.2 139.59h1.3M340.4 139.59h-1.3M340.4 146.3v-2.2M340.4 12v2.2M212.2 146.3h2.2M340.4 146.3h-2.2" stroke="#333" stroke-width="0.7" fill="none"/>
<g fill="#000"><text x="196.06" y="17.22" font-size="8.4" textLength="13.54" lengthAdjust="spacingAndGlyphs">0.60</text><text x="196.06" y="48.6" font-size="8.4" textLength="13.54" lengthAdjust="spacingAndGlyphs">0.55</text><text x="196.06" y="82.17" font-size="8.4" textLength="13.54" lengthAdjust="spacingAndGlyphs">0.50</text><text x="196.06" y="115.75" font-size="8.4" textLength="13.54" lengthAdjust="spacingAndGlyphs">0.45</text><text x="196.06" y="147.22" font-size="8.4" textLength="13.54" lengthAdjust="spacingAndGlyphs">0.40</text><text x="203.4" y="157.22" font-size="8.4" textLength="17.61" lengthAdjust="spacingAndGlyphs">−0.10</text><text x="235.45" y="157.22" font-size="8.4" textLength="17.61" lengthAdjust="spacingAndGlyphs">−0.05</text><text x="269.53" y="157.22" font-size="8.4" textLength="13.54" lengthAdjust="spacingAndGlyphs">0.00</text><text x="301.58" y="157.22" font-size="8.4" textLength="13.54" lengthAdjust="spacingAndGlyphs">0.05</text><text x="333.63" y="157.22" font-size="8.4" textLength="13.54" lengthAdjust="spacingAndGlyphs">0.10</text><text x="348.7" y="17.22" font-size="8.4" textLength="11.61" lengthAdjust="spacingAndGlyphs">100</text><text x="348.7" y="48.6" font-size="8.4" textLength="7.74" lengthAdjust="spacingAndGlyphs">50</text><text x="348.7" y="82.17" font-size="8.4" textLength="3.87" lengthAdjust="spacingAndGlyphs">0</text><text x="348.7" y="115.75" font-size="8.4" textLength="11.8" lengthAdjust="spacingAndGlyphs">−50</text><text x="348.7" y="147.02" font-size="8.4" textLength="15.67" lengthAdjust="spacingAndGlyphs">−100</text></g>
<text x="276.3" y="165.3" font-size="7" text-anchor="middle" fill="#000">x/L<tspan font-size="4" dy="1.2">o</tspan></text>
<text transform="translate(190,79.15) rotate(-90)" font-size="7" text-anchor="middle" fill="#000">y/L<tspan font-size="4" dy="1.2">o</tspan></text>
<text x="277.3" y="8" font-size="9" text-anchor="middle" fill="#000">div(v)</text>
<rect x="342" y="12" width="4.8" height="134.3" fill="url(#rwb)"/>
<path d="M346.8 12h-1.2M346.8 45.58h-1.2M346.8 79.15h-1.2M346.8 112.73h-1.2M346.8 146.3h-1.2" stroke="#222" stroke-width="0.6"/>
<g class="cap" font-family="'Liberation Serif', serif" font-size="14.7" fill="#111"><text class="cap" x="240.99" y="187.3">(b)</text><text class="cap" x="264.33" y="187.3" font-style="italic">t</text><text class="cap" x="272.42" y="187.3">=</text><text class="cap" x="284.01" y="187.3">28</text><text class="cap" x="298.91" y="187.3" font-style="italic">t</text><text class="cap" x="302.51" y="189.9" font-style="italic" font-size="10.3">A</text></g>
</g>
<g id="pc"><svg x="396.7" y="11.8" width="128.6" height="134.5" viewBox="396.7 11.8 128.6 134.5" preserveAspectRatio="none" overflow="hidden"><rect x="395.7" y="10.8" width="130.6" height="136.5" fill="#fbfbff"/><ellipse cx="460" cy="48" rx="9" ry="14" fill="#fff0f0" filter="url(#b3)"/><ellipse cx="458" cy="90" rx="14" ry="10" fill="#fff0f0" filter="url(#b4)"/><ellipse cx="470" cy="128" rx="25" ry="14" fill="#ffecec" filter="url(#b4)"/><ellipse cx="430" cy="60" rx="14" ry="20" fill="#f0f0ff" filter="url(#b5)"/><path d="M456.5 13C456.67 17.33 456.82 21.57 457 26C457.18 30.43 457.4 35.07 457.6 39.6" stroke="#a0a0ff" stroke-width="0.7" fill="none" opacity="0.7"/><path d="M462 13C462.27 16.67 462.62 20.67 462.8 24C462.98 27.33 463 30 463.1 33" stroke="#a0a0ff" stroke-width="0.7" fill="none" opacity="0.7"/><path d="M457.6 40.7C456.23 43.13 454.42 45.25 453.5 48C452.58 50.75 452.02 54.2 452.1 57.2C452.18 60.2 453.08 63.25 454 66C454.92 68.75 456.4 71.13 457.6 73.7" stroke="#7070ff" stroke-width="0.8" fill="none" opacity="0.7"/><path d="M465.3 44C466.13 46.33 467.25 48.25 467.8 51C468.35 53.75 468.65 57.5 468.6 60.5C468.55 63.5 468.05 66.43 467.5 69C466.95 71.57 466.03 73.6 465.3 75.9" stroke="#7070ff" stroke-width="0.8" fill="none" opacity="0.7"/><path d="M440 71.5C443.33 72.17 446.88 72.95 450 73.5C453.12 74.05 455.8 74.37 458.7 74.8" stroke="#6060ff" stroke-width="1.0" fill="none" opacity="0.6"/><path d="M466.4 75.9C469.6 75.27 472.9 74.55 476 74C479.1 73.45 482 73.07 485 72.6" stroke="#6060ff" stroke-width="1.0" fill="none" opacity="0.6"/><path d="M446.6 86.9C449.07 87.6 451.62 88.45 454 89C456.38 89.55 458.6 89.8 460.9 90.2" stroke="#7070ff" stroke-width="1.0" fill="none" opacity="0.6"/><path d="M465.3 89.1C468.53 88.57 471.72 88.05 475 87.5C478.28 86.95 481.67 86.37 485 85.8" stroke="#7070ff" stroke-width="1.0" fill="none" opacity="0.6"/><path d="M462.6 75.9C462.67 79.93 462.72 83.98 462.8 88C462.88 92.02 463.02 96 463.1 100C463.18 104 463.23 108 463.3 112" stroke="#8080ff" stroke-width="0.9" fill="none" opacity="0.7"/><ellipse cx="458.5" cy="74.5" rx="1" ry="0.7" fill="#c02050" filter="url(#b0_3)"/><ellipse cx="465" cy="76" rx="1" ry="0.7" fill="#3030ff" filter="url(#b0_3)"/><path d="M422 118C424.67 118.67 427.67 119.25 430 120C432.33 120.75 434 121.67 436 122.5" stroke="#3030ff" stroke-width="1.0" fill="none" opacity="0.8"/><path d="M432 121.5C433.17 122 434.33 122.5 435.5 123" stroke="#c01030" stroke-width="1.3" fill="none"/><path d="M454 112C456.67 111.33 459.33 110.5 462 110C464.67 109.5 467.5 109 470 109C472.5 109 474.67 109.67 477 110" stroke="#5050ff" stroke-width="1.0" fill="none" opacity="0.8"/><ellipse cx="473" cy="112" rx="1" ry="0.8" fill="#c01030" filter="url(#b0_3)"/><path d="M478 111C478.67 112.67 478.83 114.67 480 116C481.17 117.33 483.33 118.33 485 119C486.67 119.67 488.33 119.67 490 120" stroke="#4040ff" stroke-width="0.9" fill="none" opacity="0.8"/><path d="M444 135C446 136 447.67 137.33 450 138C452.33 138.67 455.33 139.33 458 139C460.67 138.67 463.33 137 466 136" stroke="#4040ff" stroke-width="0.9" fill="none" opacity="0.7"/><path d="M470 132C472.67 132.67 475.33 134.17 478 134C480.67 133.83 483.33 132 486 131" stroke="#4040ff" stroke-width="0.9" fill="none" opacity="0.7"/><path d="M448 128C449.33 129 450.83 130 452 131C453.17 132 454 133 455 134" stroke="#4040ff" stroke-width="0.9" fill="none" opacity="0.7"/><path d="M460 140C463.33 140.67 466.67 141.83 470 142C473.33 142.17 476.67 141.67 480 141C483.33 140.33 486.67 139 490 138" stroke="#4040ff" stroke-width="0.9" fill="none" opacity="0.7"/><path d="M440 130C442 128.67 444.33 127 446 126C447.67 125 448.67 124.67 450 124" stroke="#4040ff" stroke-width="0.9" fill="none" opacity="0.7"/><ellipse cx="458" cy="128" rx="5" ry="4" fill="#ffd8d8" filter="url(#b1_5)"/><ellipse cx="476" cy="128" rx="5" ry="5" fill="#ffd8d8" filter="url(#b1_5)"/><ellipse cx="440" cy="137" rx="4" ry="4" fill="#ffd0d0" filter="url(#b1_5)"/><ellipse cx="450.5" cy="139.5" rx="1" ry="0.9" fill="#c01040" filter="url(#b0_3)"/><ellipse cx="474" cy="128.5" rx="0.8" ry="0.8" fill="#c01040" filter="url(#b0_3)"/><path d="M401.6 11.8C400.9 15.53 400.22 19.27 399.5 23C398.78 26.73 397.88 31.7 397.3 34.2C396.72 36.7 396.43 36.73 396 38M411.6 11.8C410.73 16.97 410.02 21.83 409 27.3C407.98 32.77 406.8 38.83 405.5 44.6C404.2 50.37 402.57 56.57 401.2 61.9C399.83 67.23 398.17 73.58 397.3 76.6C396.43 79.62 396.43 78.87 396 80M422 11.8C421.13 16.97 420.42 21.83 419.4 27.3C418.38 32.77 417.07 38.83 415.9 44.6C414.73 50.37 413.63 56.13 412.4 61.9C411.17 67.67 409.6 75.08 408.5 79.2C407.4 83.32 407 83.73 405.8 86.6C404.6 89.47 402.63 93.58 401.3 96.4C399.97 99.22 398.68 101.9 397.8 103.5C396.92 105.1 396.6 105.17 396 106M432.3 11.8C431.73 16.97 431.32 21.83 430.6 27.3C429.88 32.77 428.93 38.83 428 44.6C427.07 50.37 426.15 56.13 425 61.9C423.85 67.67 422.08 75.08 421.1 79.2C420.12 83.32 420.47 82.85 419.1 86.6C417.73 90.35 415.27 96.97 412.9 101.7C410.53 106.43 407.42 111 404.9 115C402.38 119 399.28 123.53 397.8 125.7C396.32 127.87 396.6 127.23 396 128M443.7 11.8C443.13 17.1 442.73 22.1 442 27.7C441.27 33.3 440.27 40.25 439.3 45.4C438.33 50.55 436.93 54.18 436.2 58.6C435.47 63.02 435.18 68.5 434.9 71.9C434.62 75.3 434.75 77 434.5 79C434.25 81 434.33 81.15 433.4 83.9C432.47 86.65 430.83 91.35 428.9 95.5C426.97 99.65 424.32 104.5 421.8 108.8C419.28 113.1 416.47 117.3 413.8 121.3C411.13 125.3 408.47 128.95 405.8 132.8C403.13 136.65 399.43 142.03 397.8 144.4C396.17 146.77 396.6 146.13 396 147M454.4 11.8C453.8 17.1 453.42 22.67 452.6 27.7C451.78 32.73 450.5 37.28 449.5 42C448.5 46.72 447.08 51.75 446.6 56C446.12 60.25 446.28 64 446.6 67.5C446.92 71 448.23 74.25 448.5 77C448.77 79.75 448.65 81.37 448.2 84C447.75 86.63 447.08 89.85 445.8 92.8C444.52 95.75 442.57 99.03 440.5 101.7C438.43 104.37 435.77 106.28 433.4 108.8C431.03 111.32 428.05 114.43 426.3 116.8C424.55 119.17 423.65 121.13 422.9 123C422.15 124.87 422.58 126.37 421.8 128C421.02 129.63 419.83 130.95 418.2 132.8C416.57 134.65 413.62 136.85 412 139.1C410.38 141.35 409.25 144.82 408.5 146.3C407.75 147.78 407.83 147.43 407.5 148M420.9 146.3C422.97 143.9 425.02 141.48 427.1 139.1C429.18 136.72 432.05 133.78 433.4 132C434.75 130.22 434.6 129.73 435.2 128.4C435.8 127.07 436.27 125.15 437 124C437.73 122.85 438.55 121.9 439.6 121.5C440.65 121.1 442.35 121.12 443.3 121.6C444.25 122.08 445.02 123.17 445.3 124.4C445.58 125.63 444.8 128.15 445 129C445.2 129.85 445.97 129.87 446.5 129.5C447.03 129.13 447.52 127.78 448.2 126.8C448.88 125.82 449.93 124.68 450.6 123.6C451.27 122.52 451.25 121.25 452.2 120.3C453.15 119.35 454.52 118.58 456.3 117.9C458.08 117.22 460.72 116.75 462.9 116.2C465.08 115.65 467.5 115.28 469.4 114.6C471.3 113.92 472.87 113.1 474.3 112.1C475.73 111.1 476.78 108.8 478 108.6C479.22 108.4 480.27 109.92 481.6 110.9C482.93 111.88 484.67 113.15 486 114.5C487.33 115.85 488.7 117.65 489.6 119C490.5 120.35 490.8 120.95 491.4 122.6C492 124.25 492.3 126.65 493.2 128.9C494.1 131.15 495.45 133.72 496.8 136.1C498.15 138.48 500.25 141.5 501.3 143.2C502.35 144.9 502.65 145.5 503.1 146.3C503.55 147.1 503.7 147.43 504 148M464.5 11.8C465.4 17.2 466.15 23.07 467.2 28C468.25 32.93 469.6 36.92 470.8 41.4C472 45.88 473.58 50.4 474.4 54.9C475.22 59.4 475.33 64.22 475.7 68.4C476.07 72.58 476.22 77.4 476.6 80C476.98 82.6 477.03 82.13 478 84C478.97 85.87 480.62 88.82 482.4 91.2C484.18 93.58 486.75 96.07 488.7 98.3C490.65 100.53 492.6 102.5 494.1 104.6C495.6 106.7 496.8 109.25 497.7 110.9C498.6 112.55 498.9 113 499.5 114.5C500.1 116 500.4 117.8 501.3 119.9C502.2 122 503.7 124.7 504.9 127.1C506.1 129.5 507.15 131.9 508.5 134.3C509.85 136.7 511.8 139.5 513 141.5C514.2 143.5 515.12 145.22 515.7 146.3C516.28 147.38 516.23 147.43 516.5 148M476.2 11.8C477.1 17.2 477.87 22.32 478.9 28C479.93 33.68 481.07 39.92 482.4 45.9C483.73 51.88 485.55 58.55 486.9 63.9C488.25 69.25 489.45 74.65 490.5 78C491.55 81.35 492 81.5 493.2 84C494.4 86.5 496.05 90.02 497.7 93C499.35 95.98 501.3 98.92 503.1 101.9C504.9 104.88 506.7 107.9 508.5 110.9C510.3 113.9 512.4 117.2 513.9 119.9C515.4 122.6 516 124.4 517.5 127.1C519 129.8 521.6 133.95 522.9 136.1C524.2 138.25 524.7 139.02 525.3 140C525.9 140.98 526.1 141.33 526.5 142M486.9 11.8C487.8 17.2 488.47 22.32 489.6 28C490.73 33.68 492.2 39.92 493.7 45.9C495.2 51.88 497.13 58.55 498.6 63.9C500.07 69.25 501.3 74.65 502.5 78C503.7 81.35 504.35 81.5 505.8 84C507.25 86.5 509.25 89.72 511.2 93C513.15 96.28 515.55 100.27 517.5 103.7C519.45 107.13 521.6 111.22 522.9 113.6C524.2 115.98 524.7 116.93 525.3 118C525.9 119.07 526.1 119.33 526.5 120M498.2 11.8C499.1 17.2 499.78 22.32 500.9 28C502.02 33.68 503.42 39.92 504.9 45.9C506.38 51.88 508.28 58.55 509.8 63.9C511.32 69.25 512.72 74.65 514 78C515.28 81.35 516.02 81.2 517.5 84C518.98 86.8 521.6 92.3 522.9 94.8C524.2 97.3 524.7 97.97 525.3 99C525.9 100.03 526.1 100.33 526.5 101M508.9 11.8C509.97 17.2 510.9 22.32 512.1 28C513.3 33.68 514.6 39.92 516.1 45.9C517.6 51.88 519.57 59.05 521.1 63.9C522.63 68.75 524.4 72.65 525.3 75C526.2 77.35 526.1 77 526.5 78M519.3 11.8C520.2 17.2 521 23.37 522 28C523 32.63 524.55 37.27 525.3 39.6C526.05 41.93 526.1 41.2 526.5 42" fill="none" stroke="#6c6c6c" stroke-width="1.05"/><circle cx="460.9" cy="61.2" r="2.7" fill="none" stroke="#6c6c6c" stroke-width="0.9"/></svg>
<rect x="396.7" y="11.8" width="128.6" height="134.5" fill="none" stroke="#8a8a8a" stroke-width="1"/>
<path d="M396.7 146.3v-2.2M396.7 11.8v2.2M396.7 11.8h2.2M525.3 11.8h-2.2M403.13 146.3v-1.3M403.13 11.8v1.3M396.7 18.52h1.3M525.3 18.52h-1.3M409.56 146.3v-1.3M409.56 11.8v1.3M396.7 25.25h1.3M525.3 25.25h-1.3M415.99 146.3v-1.3M415.99 11.8v1.3M396.7 31.98h1.3M525.3 31.98h-1.3M422.42 146.3v-1.3M422.42 11.8v1.3M396.7 38.7h1.3M525.3 38.7h-1.3M428.85 146.3v-2.2M428.85 11.8v2.2M396.7 45.42h2.2M525.3 45.42h-2.2M435.28 146.3v-1.3M435.28 11.8v1.3M396.7 52.15h1.3M525.3 52.15h-1.3M441.71 146.3v-1.3M441.71 11.8v1.3M396.7 58.88h1.3M525.3 58.88h-1.3M448.14 146.3v-1.3M448.14 11.8v1.3M396.7 65.6h1.3M525.3 65.6h-1.3M454.57 146.3v-1.3M454.57 11.8v1.3M396.7 72.33h1.3M525.3 72.33h-1.3M461 146.3v-2.2M461 11.8v2.2M396.7 79.05h2.2M525.3 79.05h-2.2M467.43 146.3v-1.3M467.43 11.8v1.3M396.7 85.77h1.3M525.3 85.77h-1.3M473.86 146.3v-1.3M473.86 11.8v1.3M396.7 92.5h1.3M525.3 92.5h-1.3M480.29 146.3v-1.3M480.29 11.8v1.3M396.7 99.22h1.3M525.3 99.22h-1.3M486.72 146.3v-1.3M486.72 11.8v1.3M396.7 105.95h1.3M525.3 105.95h-1.3M493.15 146.3v-2.2M493.15 11.8v2.2M396.7 112.67h2.2M525.3 112.67h-2.2M499.58 146.3v-1.3M499.58 11.8v1.3M396.7 119.4h1.3M525.3 119.4h-1.3M506.01 146.3v-1.3M506.01 11.8v1.3M396.7 126.12h1.3M525.3 126.12h-1.3M512.44 146.3v-1.3M512.44 11.8v1.3M396.7 132.85h1.3M525.3 132.85h-1.3M518.87 146.3v-1.3M518.87 11.8v1.3M396.7 139.58h1.3M525.3 139.58h-1.3M525.3 146.3v-2.2M525.3 11.8v2.2M396.7 146.3h2.2M525.3 146.3h-2.2" stroke="#333" stroke-width="0.7" fill="none"/>
<g fill="#000"><text x="380.56" y="17.02" font-size="8.4" textLength="13.54" lengthAdjust="spacingAndGlyphs">0.60</text><text x="380.56" y="48.45" font-size="8.4" textLength="13.54" lengthAdjust="spacingAndGlyphs">0.55</text><text x="380.56" y="82.07" font-size="8.4" textLength="13.54" lengthAdjust="spacingAndGlyphs">0.50</text><text x="380.56" y="115.7" font-size="8.4" textLength="13.54" lengthAdjust="spacingAndGlyphs">0.45</text><text x="380.56" y="147.22" font-size="8.4" textLength="13.54" lengthAdjust="spacingAndGlyphs">0.40</text><text x="387.9" y="157.22" font-size="8.4" textLength="17.61" lengthAdjust="spacingAndGlyphs">−0.10</text><text x="420.05" y="157.22" font-size="8.4" textLength="17.61" lengthAdjust="spacingAndGlyphs">−0.05</text><text x="454.23" y="157.22" font-size="8.4" textLength="13.54" lengthAdjust="spacingAndGlyphs">0.00</text><text x="486.38" y="157.22" font-size="8.4" textLength="13.54" lengthAdjust="spacingAndGlyphs">0.05</text><text x="518.53" y="157.22" font-size="8.4" textLength="13.54" lengthAdjust="spacingAndGlyphs">0.10</text><text x="533.7" y="17.02" font-size="8.4" textLength="11.61" lengthAdjust="spacingAndGlyphs">100</text><text x="533.7" y="48.45" font-size="8.4" textLength="7.74" lengthAdjust="spacingAndGlyphs">50</text><text x="533.7" y="82.07" font-size="8.4" textLength="3.87" lengthAdjust="spacingAndGlyphs">0</text><text x="533.7" y="115.7" font-size="8.4" textLength="11.8" lengthAdjust="spacingAndGlyphs">−50</text><text x="533.7" y="147.02" font-size="8.4" textLength="15.67" lengthAdjust="spacingAndGlyphs">−100</text></g>
<text x="461" y="165.3" font-size="7" text-anchor="middle" fill="#000">x/L<tspan font-size="4" dy="1.2">o</tspan></text>
<text transform="translate(374.5,79.05) rotate(-90)" font-size="7" text-anchor="middle" fill="#000">y/L<tspan font-size="4" dy="1.2">o</tspan></text>
<text x="462" y="7.8" font-size="9" text-anchor="middle" fill="#000">div(v)</text>
<rect x="527.2" y="11.8" width="4.6" height="134.5" fill="url(#rwb)"/>
<path d="M531.8 11.8h-1.2M531.8 45.43h-1.2M531.8 79.05h-1.2M531.8 112.68h-1.2M531.8 146.3h-1.2" stroke="#222" stroke-width="0.6"/>
<g class="cap" font-family="'Liberation Serif', serif" font-size="14.7" fill="#111"><text class="cap" x="420.59" y="187.3">(c)</text><text class="cap" x="443.11" y="187.3" font-style="italic">t</text><text class="cap" x="451.19" y="187.3">=</text><text class="cap" x="462.78" y="187.3">28.2</text><text class="cap" x="488.71" y="187.3" font-style="italic">t</text><text class="cap" x="492.31" y="189.9" font-style="italic" font-size="10.3">A</text></g>
</g>
<g id="pd"><svg x="581.5" y="11.4" width="129" height="134.9" viewBox="581.5 11.4 129 134.9" preserveAspectRatio="none" overflow="hidden"><rect x="580.5" y="10.4" width="131" height="136.9" fill="#fbfbff"/><path d="M640 60C645 45 647 20 650 20C653 20 653.83 46.67 658 60C662.17 73.33 669.67 88.33 675 100C680.33 111.67 685.83 122.33 690 130C694.17 137.67 715 143.33 700 146C685 148.67 613.33 152 600 146C586.67 140 613.33 124.33 620 110C626.67 95.67 635 75 640 60Z" fill="#fff6f6" filter="url(#b4)"/><ellipse cx="612" cy="102" rx="12" ry="5" fill="#eeeeff" filter="url(#b3)"/><ellipse cx="676" cy="102" rx="10" ry="5" fill="#eeeeff" filter="url(#b3)"/><path d="M646 20C646 30 645.83 40 646 50C646.17 60 646.67 71.67 647 80C647.33 88.33 647.67 93.33 648 100" stroke="#b0b0ff" stroke-width="0.8" fill="none" opacity="0.5"/><path d="M623 101.5C624.67 102.17 626.67 102.92 628 103.5C629.33 104.08 630 104.5 631 105" stroke="#4040ff" stroke-width="1.0" fill="none" opacity="0.8"/><path d="M629 108.6C630.67 109.4 632.5 110.27 634 111C635.5 111.73 636.6 112.37 638 113C639.4 113.63 640.93 114.2 642.4 114.8" stroke="#b01040" stroke-width="1.5" fill="none"/><path d="M629 108.6C631 109.67 632.77 110.65 635 111.8C637.23 112.95 639.93 114.27 642.4 115.5" stroke="#3030ff" stroke-width="0.7" fill="none" opacity="0.8"/><path d="M642.4 114.8C643.27 113.87 644.22 112.88 645 112C645.78 111.12 646.4 110.33 647.1 109.5" stroke="#3030ff" stroke-width="1.0" fill="none" opacity="0.9"/><path d="M661.4 109C662.27 108.5 663.05 108.05 664 107.5C664.95 106.95 666.07 106.3 667.1 105.7" stroke="#b01040" stroke-width="1.5" fill="none"/><path d="M667.1 105.7C668.4 104.63 670.02 103.28 671 102.5C671.98 101.72 672.33 101.5 673 101" stroke="#3030ff" stroke-width="1.0" fill="none" opacity="0.8"/><path d="M641 118.5C642 117.83 642.83 116.5 644 116.5C645.17 116.5 646.67 118.42 648 118.5C649.33 118.58 650.67 117.5 652 117" stroke="#3030ff" stroke-width="0.9" fill="none" opacity="0.7"/><ellipse cx="642.4" cy="120" rx="1" ry="0.8" fill="#c01040" filter="url(#b0_3)"/><path d="M612 140C613 138.33 613.67 136.5 615 135C616.33 133.5 618.33 132.33 620 131" stroke="#4040ff" stroke-width="0.9" fill="none" opacity="0.7"/><path d="M620 140C620.67 138 621.33 136 622 134" stroke="#4040ff" stroke-width="0.9" fill="none" opacity="0.7"/><path d="M630 130C632 129.33 634.33 127.83 636 128C637.67 128.17 638.67 130 640 131" stroke="#4040ff" stroke-width="0.9" fill="none" opacity="0.7"/><path d="M645 135C647.33 134.33 649.83 132.83 652 133C654.17 133.17 656 135 658 136" stroke="#4040ff" stroke-width="0.9" fill="none" opacity="0.7"/><path d="M664 140C666 139 668 137 670 137C672 137 674 139 676 140" stroke="#4040ff" stroke-width="0.9" fill="none" opacity="0.7"/><path d="M648 142C650 142.67 651.67 143.83 654 144C656.33 144.17 659.33 143.33 662 143" stroke="#4040ff" stroke-width="0.9" fill="none" opacity="0.7"/><path d="M603 145C604.67 143.67 606.33 142.33 608 141" stroke="#4040ff" stroke-width="0.9" fill="none" opacity="0.7"/><path d="M622.5 130C622.33 131 622.25 132 622 133C621.75 134 621.33 135 621 136" stroke="#c01040" stroke-width="1.2" fill="none"/><path d="M616 137C616.33 138.33 616.67 139.67 617 141" stroke="#c01040" stroke-width="1.0" fill="none"/><path d="M588.5 11.4C587.47 16.83 586.35 23.07 585.4 27.7C584.45 32.33 583.45 36.82 582.8 39.2C582.15 41.58 581.97 41.03 581.5 42C581.03 42.97 580.5 44 580 45M599.6 11.4C598.7 16.83 598.08 22.03 596.9 27.7C595.72 33.37 594.12 39.52 592.5 45.4C590.88 51.28 588.82 57.7 587.2 63C585.58 68.3 583.75 74.53 582.8 77.2C581.85 79.87 581.97 78.37 581.5 79C581.03 79.63 580.5 80.33 580 81M610.2 11.4C609.3 16.83 608.53 22.03 607.5 27.7C606.47 33.37 605.47 39.52 604 45.4C602.53 51.28 600.47 57.4 598.7 63C596.93 68.6 594.87 75.07 593.4 79C591.93 82.93 591.37 83.57 589.9 86.6C588.43 89.63 586 94.72 584.6 97.2C583.2 99.68 582.27 100.45 581.5 101.5C580.73 102.55 580.5 102.83 580 103.5M621.2 11.4C620.47 16.83 619.8 22.03 619 27.7C618.2 33.37 617.57 39.52 616.4 45.4C615.23 51.28 613.77 57.4 612 63C610.23 68.6 607.25 75.37 605.8 79C604.35 82.63 604.47 82.05 603.3 84.8C602.13 87.55 600.73 91.65 598.8 95.5C596.87 99.35 594.07 104.2 591.7 107.9C589.33 111.6 586.3 115.35 584.6 117.7C582.9 120.05 582.27 120.95 581.5 122C580.73 123.05 580.5 123.33 580 124M632.3 11.4C631.7 16.83 631.1 22.03 630.5 27.7C629.9 33.37 629.43 40.25 628.7 45.4C627.97 50.55 627.27 54.48 626.1 58.6C624.93 62.72 623.03 66.7 621.7 70.1C620.37 73.5 618.95 76.7 618.1 79C617.25 81.3 617.73 81.6 616.6 83.9C615.47 86.2 612.57 90.12 611.3 92.8C610.03 95.48 610.33 97.18 609 100C607.67 102.82 605.73 106 603.3 109.7C600.87 113.4 597.37 118.2 594.4 122.2C591.43 126.2 587.65 130.98 585.5 133.7C583.35 136.42 582.42 137.37 581.5 138.5C580.58 139.63 580.5 139.83 580 140.5M644.2 11.4C644.07 16.83 644.02 22.03 643.8 27.7C643.58 33.37 643.35 40.25 642.9 45.4C642.45 50.55 641.98 54.48 641.1 58.6C640.22 62.72 638.78 66.7 637.6 70.1C636.42 73.5 634.9 76.68 634 79C633.1 81.32 633.42 81.62 632.2 84C630.98 86.38 628.15 91.05 626.7 93.3C625.25 95.55 624.13 96.07 623.5 97.5C622.87 98.93 623.57 100.22 622.9 101.9C622.23 103.58 620.7 105.7 619.5 107.6C618.3 109.5 617.22 111.77 615.7 113.3C614.18 114.83 612.17 115.63 610.4 116.8M610.4 116.8C607.73 119.77 605.22 122.43 602.4 125.7C599.58 128.97 596.03 132.97 593.5 136.4C590.97 139.83 588.37 144.37 587.2 146.3C586.03 148.23 586.73 147.43 586.5 148M599.7 146.3C602.07 144.5 605.02 142.4 606.8 140.9C608.58 139.4 609.22 138.93 610.4 137.3C611.58 135.67 612.57 133.03 613.9 131.1C615.23 129.17 616.92 126.88 618.4 125.7C619.88 124.52 621.32 124.15 622.8 124C624.28 123.85 625.82 125.1 627.3 124.8C628.78 124.5 630.22 122.78 631.7 122.2C633.18 121.62 634.57 120.87 636.2 121.3C637.83 121.73 640.03 123.98 641.5 124.8C642.97 125.62 643.52 126.57 645 126.2C646.48 125.83 648.9 123.95 650.4 122.6C651.9 121.25 652.65 119.37 654 118.1C655.35 116.83 656.85 115.6 658.5 115C660.15 114.4 662.12 114.13 663.9 114.5C665.68 114.87 667.42 115.85 669.2 117.2C670.98 118.55 672.65 120.5 674.6 122.6C676.55 124.7 678.95 127.55 680.9 129.8C682.85 132.05 684.35 133.35 686.3 136.1C688.25 138.85 691.4 144.32 692.6 146.3C693.8 148.28 693.2 147.43 693.5 148M646.8 11.4C647.4 16.93 647.7 22.25 648.6 28C649.5 33.75 650.85 39.92 652.2 45.9C653.55 51.88 655.2 59.05 656.7 63.9C658.2 68.75 659.7 72.25 661.2 75C662.7 77.75 664.22 78.45 665.7 80.4C667.18 82.35 669.07 84.6 670.1 86.7C671.13 88.8 671.45 90.9 671.9 93C672.35 95.1 672.35 97.37 672.8 99.3C673.25 101.23 673.55 102.67 674.6 104.6C675.65 106.53 677.45 108.65 679.1 110.9C680.75 113.15 682.7 115.7 684.5 118.1C686.3 120.5 688.1 122.75 689.9 125.3C691.7 127.85 693.5 130.7 695.3 133.4C697.1 136.1 699.32 139.35 700.7 141.5C702.08 143.65 702.97 145.22 703.6 146.3C704.23 147.38 704.2 147.43 704.5 148M658.5 11.4C659.4 16.93 660 22.25 661.2 28C662.4 33.75 664.07 39.92 665.7 45.9C667.33 51.88 669.28 59.05 671 63.9C672.72 68.75 674.65 71.65 676 75C677.35 78.35 677.98 81 679.1 84C680.22 87 681.65 90.47 682.7 93C683.75 95.53 684.2 96.97 685.4 99.2C686.6 101.43 688.25 103.85 689.9 106.4C691.55 108.95 693.5 111.8 695.3 114.5C697.1 117.2 698.9 119.9 700.7 122.6C702.5 125.3 704.47 128.3 706.1 130.7C707.73 133.1 709.6 135.62 710.5 137C711.4 138.38 711.17 138.33 711.5 139M670.6 11.4C671.33 16.93 671.83 22.25 672.8 28C673.77 33.75 674.75 39.92 676.4 45.9C678.05 51.88 680.75 59.05 682.7 63.9C684.65 68.75 686.6 71.65 688.1 75C689.6 78.35 690.5 81 691.7 84C692.9 87 693.8 89.87 695.3 93C696.8 96.13 698.9 99.82 700.7 102.8C702.5 105.78 704.47 108.53 706.1 110.9C707.73 113.27 709.6 115.65 710.5 117C711.4 118.35 711.17 118.33 711.5 119M681.8 11.4C682.7 16.93 683.45 22.25 684.5 28C685.55 33.75 686.45 39.92 688.1 45.9C689.75 51.88 692.53 59.05 694.4 63.9C696.27 68.75 697.95 71.95 699.3 75C700.65 78.05 701.22 79.5 702.5 82.2C703.78 84.9 705.67 88.57 707 91.2C708.33 93.83 709.75 96.53 710.5 98C711.25 99.47 711.17 99.33 711.5 100M693 11.4C694.07 16.93 694.92 22.25 696.2 28C697.48 33.75 698.9 39.92 700.7 45.9C702.5 51.88 705.37 59.55 707 63.9C708.63 68.25 709.75 70.32 710.5 72C711.25 73.68 711.17 73.33 711.5 74M703.8 11.4C704.87 16.93 705.88 23.65 707 28C708.12 32.35 709.75 35.5 710.5 37.5C711.25 39.5 711.17 39.17 711.5 40" fill="none" stroke="#6c6c6c" stroke-width="1.05"/><circle cx="649.9" cy="103.4" r="3.5" fill="none" stroke="#6c6c6c" stroke-width="0.9"/></svg>
<rect x="581.5" y="11.4" width="129" height="134.9" fill="none" stroke="#8a8a8a" stroke-width="1"/>
<path d="M581.5 146.3v-2.2M581.5 11.4v2.2M581.5 11.4h2.2M710.5 11.4h-2.2M587.95 146.3v-1.3M587.95 11.4v1.3M581.5 18.14h1.3M710.5 18.14h-1.3M594.4 146.3v-1.3M594.4 11.4v1.3M581.5 24.89h1.3M710.5 24.89h-1.3M600.85 146.3v-1.3M600.85 11.4v1.3M581.5 31.64h1.3M710.5 31.64h-1.3M607.3 146.3v-1.3M607.3 11.4v1.3M581.5 38.38h1.3M710.5 38.38h-1.3M613.75 146.3v-2.2M613.75 11.4v2.2M581.5 45.12h2.2M710.5 45.12h-2.2M620.2 146.3v-1.3M620.2 11.4v1.3M581.5 51.87h1.3M710.5 51.87h-1.3M626.65 146.3v-1.3M626.65 11.4v1.3M581.5 58.62h1.3M710.5 58.62h-1.3M633.1 146.3v-1.3M633.1 11.4v1.3M581.5 65.36h1.3M710.5 65.36h-1.3M639.55 146.3v-1.3M639.55 11.4v1.3M581.5 72.11h1.3M710.5 72.11h-1.3M646 146.3v-2.2M646 11.4v2.2M581.5 78.85h2.2M710.5 78.85h-2.2M652.45 146.3v-1.3M652.45 11.4v1.3M581.5 85.6h1.3M710.5 85.6h-1.3M658.9 146.3v-1.3M658.9 11.4v1.3M581.5 92.34h1.3M710.5 92.34h-1.3M665.35 146.3v-1.3M665.35 11.4v1.3M581.5 99.09h1.3M710.5 99.09h-1.3M671.8 146.3v-1.3M671.8 11.4v1.3M581.5 105.83h1.3M710.5 105.83h-1.3M678.25 146.3v-2.2M678.25 11.4v2.2M581.5 112.58h2.2M710.5 112.58h-2.2M684.7 146.3v-1.3M684.7 11.4v1.3M581.5 119.32h1.3M710.5 119.32h-1.3M691.15 146.3v-1.3M691.15 11.4v1.3M581.5 126.07h1.3M710.5 126.07h-1.3M697.6 146.3v-1.3M697.6 11.4v1.3M581.5 132.81h1.3M710.5 132.81h-1.3M704.05 146.3v-1.3M704.05 11.4v1.3M581.5 139.56h1.3M710.5 139.56h-1.3M710.5 146.3v-2.2M710.5 11.4v2.2M581.5 146.3h2.2M710.5 146.3h-2.2" stroke="#333" stroke-width="0.7" fill="none"/>
<g fill="#000"><text x="565.36" y="16.62" font-size="8.4" textLength="13.54" lengthAdjust="spacingAndGlyphs">0.60</text><text x="565.36" y="48.15" font-size="8.4" textLength="13.54" lengthAdjust="spacingAndGlyphs">0.55</text><text x="565.36" y="81.87" font-size="8.4" textLength="13.54" lengthAdjust="spacingAndGlyphs">0.50</text><text x="565.36" y="115.6" font-size="8.4" textLength="13.54" lengthAdjust="spacingAndGlyphs">0.45</text><text x="565.36" y="147.22" font-size="8.4" textLength="13.54" lengthAdjust="spacingAndGlyphs">0.40</text><text x="572.7" y="157.22" font-size="8.4" textLength="17.61" lengthAdjust="spacingAndGlyphs">−0.10</text><text x="604.95" y="157.22" font-size="8.4" textLength="17.61" lengthAdjust="spacingAndGlyphs">−0.05</text><text x="639.23" y="157.22" font-size="8.4" textLength="13.54" lengthAdjust="spacingAndGlyphs">0.00</text><text x="671.48" y="157.22" font-size="8.4" textLength="13.54" lengthAdjust="spacingAndGlyphs">0.05</text><text x="703.73" y="157.22" font-size="8.4" textLength="13.54" lengthAdjust="spacingAndGlyphs">0.10</text><text x="719.2" y="16.62" font-size="8.4" textLength="11.61" lengthAdjust="spacingAndGlyphs">100</text><text x="719.2" y="48.15" font-size="8.4" textLength="7.74" lengthAdjust="spacingAndGlyphs">50</text><text x="719.2" y="81.87" font-size="8.4" textLength="3.87" lengthAdjust="spacingAndGlyphs">0</text><text x="719.2" y="115.6" font-size="8.4" textLength="11.8" lengthAdjust="spacingAndGlyphs">−50</text><text x="719.2" y="147.02" font-size="8.4" textLength="15.67" lengthAdjust="spacingAndGlyphs">−100</text></g>
<text x="646" y="165.3" font-size="7" text-anchor="middle" fill="#000">x/L<tspan font-size="4" dy="1.2">o</tspan></text>
<text transform="translate(559.3,78.85) rotate(-90)" font-size="7" text-anchor="middle" fill="#000">y/L<tspan font-size="4" dy="1.2">o</tspan></text>
<text x="647" y="7.4" font-size="9" text-anchor="middle" fill="#000">div(v)</text>
<rect x="712.3" y="11.4" width="5" height="134.9" fill="url(#rwb)"/>
<path d="M717.3 11.4h-1.2M717.3 45.12h-1.2M717.3 78.85h-1.2M717.3 112.58h-1.2M717.3 146.3h-1.2" stroke="#222" stroke-width="0.6"/>
<g class="cap" font-family="'Liberation Serif', serif" font-size="14.7" fill="#111"><text class="cap" x="605.18" y="187.3">(d)</text><text class="cap" x="628.52" y="187.3" font-style="italic">t</text><text class="cap" x="636.6" y="187.3">=</text><text class="cap" x="648.2" y="187.3">28.4</text><text class="cap" x="674.12" y="187.3" font-style="italic">t</text><text class="cap" x="677.72" y="189.9" font-style="italic" font-size="10.3">A</text></g>
</g>
<g id="pe"><svg x="28.6" y="218.4" width="131" height="133.2" viewBox="28.6 218.4 131 133.2" preserveAspectRatio="none" overflow="hidden"><path d="M30.64 218.4C30.33 220.84 30.06 223.1 29.72 225.72C29.38 228.34 28.99 231.82 28.6 234.12C28.21 236.43 27.79 237.75 27.38 239.56M41.03 218.4C40.62 222.49 40.31 226.64 39.81 230.66C39.3 234.68 38.67 238.74 37.97 242.53C37.28 246.32 36.51 249.85 35.63 253.41C34.75 256.97 33.51 260.92 32.67 263.89C31.84 266.85 31.32 268.75 30.64 271.21C29.96 273.66 29.14 276.81 28.6 278.62C28.06 280.43 27.79 280.93 27.38 282.08M51.21 218.4C50.81 222.49 50.52 226.64 49.99 230.66C49.47 234.68 48.75 238.74 48.06 242.53C47.36 246.32 46.61 249.85 45.82 253.41C45.02 256.97 44.13 260.43 43.27 263.89C42.4 267.35 41.5 270.61 40.62 274.17C39.74 277.73 39.04 281.47 37.97 285.25C36.9 289.02 35.37 293.72 34.2 296.82C33.03 299.92 31.88 301.79 30.94 303.84C30.01 305.88 29.19 307.76 28.6 309.08C28.01 310.4 27.79 310.86 27.38 311.75M61.3 218.4C60.59 224.99 60.11 231.3 59.16 238.18C58.21 245.05 56.77 253.64 55.59 259.64C54.42 265.63 53.12 269.85 52.13 274.17C51.15 278.49 50.81 281.6 49.69 285.54C48.57 289.48 46.61 294.43 45.41 297.81C44.2 301.18 43.51 303.15 42.45 305.82C41.4 308.49 40.59 310.94 39.09 313.83C37.6 316.71 35.24 320.14 33.49 323.12C31.74 326.1 29.62 329.99 28.6 331.72C27.58 333.45 27.79 332.91 27.38 333.5M72.61 218.4C72 224.04 71.54 229.57 70.77 235.31C70.01 241.04 68.92 247.7 68.02 252.81C67.12 257.92 66.09 262.07 65.37 265.96C64.66 269.85 64.34 272.89 63.74 276.15C63.15 279.41 62.84 281.47 61.81 285.54C60.77 289.61 58.63 297.2 57.53 300.57C56.43 303.95 56.32 303.29 55.19 305.82C54.05 308.34 52.37 312.24 50.7 315.7C49.04 319.17 46.99 323.14 45.2 326.58C43.42 330.03 41.96 333.4 40.01 336.37C38.06 339.34 35.39 342.14 33.49 344.38C31.59 346.62 29.62 348.67 28.6 349.82C27.58 350.97 27.79 350.81 27.38 351.3M82.89 218.4C82.45 224.04 82.39 230.02 81.57 235.31C80.76 240.6 78.9 246.2 78.01 250.14C77.11 254.08 76.55 255.58 76.17 258.94C75.8 262.31 75.87 267.12 75.76 270.32C75.66 273.51 75.7 274.8 75.56 278.13C75.42 281.46 75.88 285.68 74.95 290.29C74.02 294.91 71.71 301.04 69.96 305.82C68.21 310.6 66.88 314.6 64.46 318.97C62.03 323.33 58.18 328.11 55.39 332.02C52.61 335.93 50.3 339.14 47.75 342.4C45.2 345.67 41.55 349.79 40.11 351.6C38.67 353.41 39.43 352.72 39.09 353.28M52.64 351.6C54.78 348.96 56.65 346.46 59.06 343.69C61.47 340.92 64.92 337.21 67.11 334.99C69.3 332.76 70.57 331.84 72.2 330.34C73.83 328.84 75.53 327.44 76.88 325.99C78.24 324.54 79.38 323.1 80.35 321.64C81.32 320.17 81.94 318.97 82.69 317.19C83.44 315.41 84.19 313.51 84.83 310.96C85.48 308.4 86.07 304.69 86.56 301.86C87.05 299.03 87.29 296.92 87.78 293.95C88.28 290.98 89.02 286.94 89.52 284.06C90.01 281.18 90.65 278.21 90.74 276.64C90.82 275.08 90.53 275.57 90.03 274.67C89.52 273.76 88.34 272.61 87.68 271.21C87.02 269.8 86.34 268.07 86.05 266.26C85.76 264.45 85.75 262.06 85.95 260.33C86.15 258.6 86.65 257.15 87.27 255.88C87.9 254.61 88.87 253.37 89.72 252.71C90.57 252.05 91.47 251.94 92.37 251.92C93.27 251.91 94.24 252.12 95.12 252.61C96 253.11 97 253.77 97.67 254.89C98.33 256.01 98.85 257.77 99.09 259.34C99.33 260.9 99.36 262.64 99.09 264.28C98.82 265.93 98.16 267.66 97.46 269.23C96.77 270.79 95.56 272.52 94.91 273.68C94.27 274.83 93.76 274.42 93.59 276.15C93.42 277.88 93.68 281.09 93.9 284.06C94.12 287.03 94.58 291.15 94.91 293.95C95.25 296.75 95.59 298.6 95.93 300.87C96.27 303.15 96.44 305.47 96.95 307.6C97.46 309.72 98.07 311.83 98.99 313.63C99.91 315.42 100.82 316.69 102.45 318.37C104.08 320.06 106.68 322.03 108.77 323.71C110.86 325.4 112.91 326.88 114.98 328.46C117.05 330.04 119.24 331.53 121.2 333.21C123.15 334.89 124.93 336.52 126.7 338.55C128.46 340.57 130.35 343.19 131.79 345.37C133.23 347.55 134.59 350.28 135.36 351.6C136.12 352.92 136.03 352.72 136.37 353.28M104.18 218.4C104.35 223.87 104.3 229.82 104.69 234.82C105.08 239.81 105.92 243.85 106.53 248.36C107.14 252.88 108 257.94 108.36 261.91C108.72 265.88 108.62 268.83 108.67 272.19C108.72 275.56 108.48 279.1 108.67 282.08C108.85 285.07 108.9 286.5 109.79 290.09C110.67 293.69 112.2 299.44 113.96 303.64C115.73 307.84 117.75 311.55 120.38 315.31C123.01 319.07 126.8 322.58 129.75 326.19C132.71 329.8 135.81 334.01 138.11 336.96C140.4 339.91 141.81 341.45 143.51 343.89C145.2 346.33 147.27 350.03 148.29 351.6C149.31 353.17 149.18 352.72 149.62 353.28M114.88 218.4C115.32 225.39 115.59 232.87 116.2 239.36C116.82 245.86 117.77 251.35 118.55 257.36C119.33 263.38 120.36 271.34 120.89 275.46C121.42 279.58 121.32 279.64 121.71 282.08C122.1 284.52 122.05 286.5 123.23 290.09C124.42 293.69 126.68 299.12 128.84 303.64C130.99 308.16 133.39 312.69 136.17 317.19C138.96 321.69 142.74 326.73 145.54 330.64C148.34 334.54 150.64 337.43 152.98 340.62C155.32 343.82 158.29 348.04 159.6 349.82C160.91 351.6 160.41 350.81 160.82 351.3M125.58 218.4C126.19 225.39 126.65 232.87 127.41 239.36C128.17 245.86 129.16 251.35 130.16 257.36C131.16 263.38 132.64 271.01 133.42 275.46C134.2 279.91 134.39 281.62 134.85 284.06C135.3 286.5 135.02 286.83 136.17 290.09C137.33 293.36 139.45 299.12 141.77 303.64C144.1 308.16 147.49 312.84 150.13 317.19C152.76 321.54 155.98 327.11 157.56 329.75C159.14 332.38 159.06 332.22 159.6 333.01C160.14 333.8 160.41 334 160.82 334.49M135.76 218.4C136.54 225.39 137.1 232.87 138.11 239.36C139.11 245.86 140.62 251.35 141.77 257.36C142.93 263.38 144.24 271.01 145.03 275.46C145.83 279.91 145.87 281.62 146.56 284.06C147.26 286.5 147.99 287.27 149.21 290.09C150.43 292.91 152.16 297.28 153.9 300.97C155.63 304.66 158.45 309.95 159.6 312.24C160.75 314.53 160.41 313.89 160.82 314.72M146.46 218.4C147.38 225.39 148.12 232.87 149.21 239.36C150.3 245.86 151.74 251.35 152.98 257.36C154.22 263.38 155.64 271.01 156.65 275.46C157.65 279.91 158.5 282.3 158.99 284.06C159.48 285.82 159.29 285.38 159.6 286.04C159.91 286.7 160.41 287.36 160.82 288.02M156.65 218.4C157.12 222.39 157.58 227.17 158.07 230.37C158.56 233.56 159.14 235.89 159.6 237.58C160.06 239.28 160.41 239.56 160.82 240.55" fill="none" stroke="#6a62c0" stroke-width="1.05"/><path d="M93.6 221 L93.4 236 L93.1 244" stroke="#0070ff" stroke-width="1" fill="none"/><path d="M93.3 236 L93.0 245" stroke="#30e0ff" stroke-width="1.3" fill="none"/><path d="M93.1 241 L92.9 246" stroke="#d0ff30" stroke-width="1.4" fill="none"/><path d="M92.7 244.5L88.5 252.4L97.2 253.2L92.7 244.5Z" fill="#0000e6"/><path d="M92.7 245.5C92.23 245.47 90.98 250.05 91.2 251C91.42 251.95 93.75 252.12 94 251.2C94.25 250.28 93.17 245.53 92.7 245.5Z" fill="#0018ff" filter="url(#b0_5)"/><ellipse cx="92.8" cy="248.6" rx="0.7" ry="1.6" fill="#e00000" filter="url(#b0_3)"/><ellipse cx="92.2" cy="261.8" rx="0.9" ry="0.9" fill="#0000a0"/><ellipse cx="92.2" cy="271.4" rx="2.2" ry="1.6" fill="#0000a0" filter="url(#b0_3)"/><path d="M92.1 273 L91.9 282" stroke="#0060ff" stroke-width="2" fill="none"/><path d="M90.6 280C89.97 282.97 89.65 291.87 89.1 297.8C88.55 303.73 87.97 310.27 87.3 315.6C86.63 320.93 85.83 326.68 85.1 329.8C84.37 332.92 83.63 332.8 82.9 334.3C84.83 334.6 87.18 334.83 88.7 335.2C90.22 335.57 90.82 335.92 92 336.5C93.18 337.08 94.53 337.97 95.8 338.7C95.73 335.73 95.67 333.65 95.6 329.8C95.53 325.95 95.58 320.93 95.4 315.6C95.22 310.27 94.92 303.73 94.5 297.8C94.08 291.87 93.55 282.97 92.9 280C92.25 277.03 91.23 277.03 90.6 280Z" fill="#0040ff" filter="url(#b0_4)"/><path d="M90.9 283C90.42 285.5 90.17 292.67 89.7 298C89.23 303.33 88.68 310 88.1 315C87.52 320 86.75 325 86.2 328C85.65 331 84.25 332.08 84.8 333C85.35 333.92 87.83 333.17 89.5 333.5C91.17 333.83 93.9 337.92 94.8 335C95.7 332.08 95.02 322.17 94.9 316C94.78 309.83 94.48 303.5 94.1 298C93.72 292.5 93.13 285.5 92.6 283C92.07 280.5 91.38 280.5 90.9 283Z" fill="#00e8ff" filter="url(#b0_7)"/><path d="M91.4 292C91.03 294.17 90.7 300.67 90.4 305C90.1 309.33 89.73 313.83 89.6 318C89.47 322.17 89.2 327.17 89.6 330C90 332.83 91.23 334.83 92 335C92.77 335.17 93.82 333.83 94.2 331C94.58 328.17 94.35 322.33 94.3 318C94.25 313.67 94.18 309.33 93.9 305C93.62 300.67 93.02 294.17 92.6 292C92.18 289.83 91.77 289.83 91.4 292Z" fill="#a0ff60" filter="url(#b0_8)"/><path d="M91.8 300C91.47 302 90.85 308 90.6 312C90.35 316 90.27 320.67 90.3 324C90.33 327.33 90.47 330.25 90.8 332C91.13 333.75 91.8 334.67 92.3 334.5C92.8 334.33 93.55 333.08 93.8 331C94.05 328.92 93.88 325.5 93.8 322C93.72 318.5 93.5 313.67 93.3 310C93.1 306.33 92.85 301.67 92.6 300C92.35 298.33 92.13 298 91.8 300Z" fill="#ffe000" filter="url(#b0_8)"/><ellipse cx="92.2" cy="324" rx="1.9" ry="9" fill="#ff7000" filter="url(#b0_8)"/><ellipse cx="92.2" cy="326.3" rx="1.6" ry="7" fill="#f00000" filter="url(#b0_6)"/><path d="M91.3 337.5 Q93 341 98.5 344" stroke="#0000c8" stroke-width="1.8" fill="none"/><path d="M101 345.2 L104.7 345.8" stroke="#0000c8" stroke-width="1.2" fill="none"/></svg>
<rect x="28.6" y="218.4" width="131" height="133.2" fill="none" stroke="#8a8a8a" stroke-width="1"/>
<path d="M28.6 351.6v-2.2M28.6 218.4v2.2M28.6 218.4h2.2M159.6 218.4h-2.2M35.15 351.6v-1.3M35.15 218.4v1.3M28.6 225.06h1.3M159.6 225.06h-1.3M41.7 351.6v-1.3M41.7 218.4v1.3M28.6 231.72h1.3M159.6 231.72h-1.3M48.25 351.6v-1.3M48.25 218.4v1.3M28.6 238.38h1.3M159.6 238.38h-1.3M54.8 351.6v-1.3M54.8 218.4v1.3M28.6 245.04h1.3M159.6 245.04h-1.3M61.35 351.6v-2.2M61.35 218.4v2.2M28.6 251.7h2.2M159.6 251.7h-2.2M67.9 351.6v-1.3M67.9 218.4v1.3M28.6 258.36h1.3M159.6 258.36h-1.3M74.45 351.6v-1.3M74.45 218.4v1.3M28.6 265.02h1.3M159.6 265.02h-1.3M81 351.6v-1.3M81 218.4v1.3M28.6 271.68h1.3M159.6 271.68h-1.3M87.55 351.6v-1.3M87.55 218.4v1.3M28.6 278.34h1.3M159.6 278.34h-1.3M94.1 351.6v-2.2M94.1 218.4v2.2M28.6 285h2.2M159.6 285h-2.2M100.65 351.6v-1.3M100.65 218.4v1.3M28.6 291.66h1.3M159.6 291.66h-1.3M107.2 351.6v-1.3M107.2 218.4v1.3M28.6 298.32h1.3M159.6 298.32h-1.3M113.75 351.6v-1.3M113.75 218.4v1.3M28.6 304.98h1.3M159.6 304.98h-1.3M120.3 351.6v-1.3M120.3 218.4v1.3M28.6 311.64h1.3M159.6 311.64h-1.3M126.85 351.6v-2.2M126.85 218.4v2.2M28.6 318.3h2.2M159.6 318.3h-2.2M133.4 351.6v-1.3M133.4 218.4v1.3M28.6 324.96h1.3M159.6 324.96h-1.3M139.95 351.6v-1.3M139.95 218.4v1.3M28.6 331.62h1.3M159.6 331.62h-1.3M146.5 351.6v-1.3M146.5 218.4v1.3M28.6 338.28h1.3M159.6 338.28h-1.3M153.05 351.6v-1.3M153.05 218.4v1.3M28.6 344.94h1.3M159.6 344.94h-1.3M159.6 351.6v-2.2M159.6 218.4v2.2M28.6 351.6h2.2M159.6 351.6h-2.2" stroke="#333" stroke-width="0.7" fill="none"/>
<g fill="#000"><text x="12.46" y="223.62" font-size="8.4" textLength="13.54" lengthAdjust="spacingAndGlyphs">0.60</text><text x="12.46" y="254.72" font-size="8.4" textLength="13.54" lengthAdjust="spacingAndGlyphs">0.55</text><text x="12.46" y="288.02" font-size="8.4" textLength="13.54" lengthAdjust="spacingAndGlyphs">0.50</text><text x="12.46" y="321.32" font-size="8.4" textLength="13.54" lengthAdjust="spacingAndGlyphs">0.45</text><text x="12.46" y="352.52" font-size="8.4" textLength="13.54" lengthAdjust="spacingAndGlyphs">0.40</text><text x="19.8" y="362.52" font-size="8.4" textLength="17.61" lengthAdjust="spacingAndGlyphs">−0.10</text><text x="52.55" y="362.52" font-size="8.4" textLength="17.61" lengthAdjust="spacingAndGlyphs">−0.05</text><text x="87.33" y="362.52" font-size="8.4" textLength="13.54" lengthAdjust="spacingAndGlyphs">0.00</text><text x="120.08" y="362.52" font-size="8.4" textLength="13.54" lengthAdjust="spacingAndGlyphs">0.05</text><text x="152.83" y="362.52" font-size="8.4" textLength="13.54" lengthAdjust="spacingAndGlyphs">0.10</text><text x="167.8" y="223.62" font-size="8.4" textLength="9.67" lengthAdjust="spacingAndGlyphs">2.4</text><text x="167.8" y="240.45" font-size="8.4" textLength="9.67" lengthAdjust="spacingAndGlyphs">2.2</text><text x="167.8" y="259.48" font-size="8.4" textLength="9.67" lengthAdjust="spacingAndGlyphs">2.0</text><text x="167.8" y="278.51" font-size="8.4" textLength="9.67" lengthAdjust="spacingAndGlyphs">1.8</text><text x="167.8" y="297.54" font-size="8.4" textLength="9.67" lengthAdjust="spacingAndGlyphs">1.6</text><text x="167.8" y="316.57" font-size="8.4" textLength="9.67" lengthAdjust="spacingAndGlyphs">1.4</text><text x="167.8" y="335.6" font-size="8.4" textLength="9.67" lengthAdjust="spacingAndGlyphs">1.2</text><text x="167.8" y="352.32" font-size="8.4" textLength="9.67" lengthAdjust="spacingAndGlyphs">1.0</text></g>
<text x="94.1" y="370.6" font-size="7" text-anchor="middle" fill="#000">x/L<tspan font-size="4" dy="1.2">o</tspan></text>
<text transform="translate(6.4,285) rotate(-90)" font-size="7" text-anchor="middle" fill="#000">y/L<tspan font-size="4" dy="1.2">o</tspan></text>
<text x="95.1" y="214.4" font-size="9" text-anchor="middle" fill="#000">Mach Number</text>
<rect x="161" y="218.4" width="4.9" height="133.2" fill="url(#jet)"/>
<path d="M165.9 218.4h-1.2M165.9 237.43h-1.2M165.9 256.46h-1.2M165.9 275.49h-1.2M165.9 294.51h-1.2M165.9 313.54h-1.2M165.9 332.57h-1.2M165.9 351.6h-1.2" stroke="#222" stroke-width="0.6"/>
<g class="cap" font-family="'Liberation Serif', serif" font-size="14.7" fill="#111"><text class="cap" x="53.69" y="392.6">(e)</text><text class="cap" x="76.21" y="392.6" font-style="italic">t</text><text class="cap" x="84.29" y="392.6">=</text><text class="cap" x="95.88" y="392.6">27.8</text><text class="cap" x="121.81" y="392.6" font-style="italic">t</text><text class="cap" x="125.41" y="395.2" font-style="italic" font-size="10.3">A</text></g>
</g>
<g id="pf"><svg x="213.4" y="218.4" width="132.3" height="133.4" viewBox="213.4 218.4 132.3 133.4" preserveAspectRatio="none" overflow="hidden"><path d="M215.77 218.4C215.26 222.14 214.67 227.22 214.23 229.62C213.78 232.02 213.52 231.86 213.09 232.8C212.66 233.75 212.13 234.46 211.65 235.29M226.3 218.4C225.54 225.06 225.16 232.11 224.03 238.37C222.89 244.62 221 250.09 219.49 255.95C217.98 261.81 216.01 269.57 214.95 273.53C213.88 277.48 213.64 278.11 213.09 279.69C212.54 281.26 212.13 281.87 211.65 282.96M236.31 218.4C235.55 225.06 235.11 232.11 234.04 238.37C232.97 244.62 231.27 250.09 229.91 255.95C228.55 261.81 227.09 268.56 225.89 273.53C224.68 278.49 223.6 282.29 222.69 285.75C221.78 289.21 221.55 290.96 220.42 294.29C219.28 297.62 217.1 302.91 215.88 305.71C214.66 308.51 213.8 309.73 213.09 311.07C212.39 312.42 212.13 312.86 211.65 313.76M246.84 218.4C246.08 225.06 245.48 232.11 244.57 238.37C243.65 244.62 242.5 250.53 241.37 255.95C240.23 261.36 238.89 265.88 237.75 270.85C236.62 275.81 235.38 281.84 234.56 285.75C233.73 289.65 233.94 290.22 232.8 294.29C231.67 298.36 229.65 305.48 227.74 310.18C225.84 314.88 223.63 318.67 221.35 322.5C219.06 326.32 215.4 331.11 214.02 333.13C212.64 335.15 213.49 334.04 213.09 334.62C212.69 335.2 212.13 335.94 211.65 336.6M256.85 218.4C256.4 225.06 256.04 232.11 255.5 238.37C254.97 244.62 254.49 250.53 253.65 255.95C252.8 261.36 251.65 265.88 250.45 270.85C249.24 275.81 247.3 282.58 246.42 285.75C245.55 288.91 245.68 286.94 245.19 289.82C244.69 292.7 244.65 298.61 243.43 303.03C242.21 307.45 240.32 311.77 237.86 316.34C235.4 320.91 231.73 326.02 228.67 330.44C225.61 334.86 221.93 339.47 219.49 342.86C217.05 346.25 215.15 349.12 214.02 350.81C212.88 352.5 213.12 352.26 212.68 352.99M267.37 218.4C266.93 222.14 266.34 225.57 266.03 229.62C265.72 233.68 265.52 238.8 265.52 242.74C265.52 246.68 266.1 249.61 266.03 253.26C265.96 256.92 265.79 260.88 265.1 264.69C264.41 268.5 263.07 272.6 261.9 276.11C260.73 279.62 258.91 282.78 258.08 285.75C257.26 288.71 257.1 289.97 256.95 293.89C256.79 297.81 257.59 305.25 257.16 309.29C256.73 313.33 256.06 315.03 254.37 318.13C252.68 321.22 250.1 324.47 247.04 327.86C243.98 331.26 239.53 334.5 236 338.49C232.47 342.48 227.71 349.3 225.89 351.8C224.06 354.3 225.34 352.93 225.06 353.49M239.72 351.8C242.78 348.22 245.84 343.89 248.9 341.07C251.96 338.26 254.71 336.97 258.08 334.91C261.46 332.86 266.38 330.68 269.13 328.76C271.88 326.84 273.38 325.16 274.6 323.39C275.82 321.62 276.11 320.1 276.45 318.13C276.8 316.16 276.66 313.04 276.66 311.57C276.66 310.1 277.4 310.56 276.45 309.29C275.51 308.01 272.21 305.99 270.98 303.92C269.76 301.85 269.13 299.07 269.13 296.87C269.13 294.67 269.45 292.33 270.98 290.71C272.52 289.09 276.18 286.97 278.31 287.14C280.44 287.3 282.34 289.75 283.78 291.71C285.23 293.66 286.67 296.64 286.98 298.86C287.29 301.08 286.38 303.16 285.64 305.02C284.9 306.87 283.01 308.92 282.54 309.98C282.08 311.04 281.72 310.56 282.85 311.37C283.99 312.18 287.03 313.67 289.35 314.85C291.68 316.02 294.48 316.94 296.78 318.43C299.09 319.92 301.19 321.7 303.18 323.79C305.18 325.87 306.9 328.41 308.76 330.94C310.61 333.47 312.32 336.17 314.33 338.99C316.34 341.8 319.28 345.69 320.83 347.83C322.38 349.96 322.98 350.86 323.62 351.8C324.25 352.74 324.3 352.93 324.65 353.49M287.5 218.4C288.12 222.21 288.98 226.45 289.35 229.82C289.73 233.2 289.92 234.95 289.77 238.66C289.61 242.37 288.49 247.6 288.43 252.07C288.36 256.54 288.58 261.76 289.35 265.48C290.13 269.21 291.76 271.01 293.07 274.42C294.38 277.83 296.11 283.36 297.2 285.94C298.28 288.53 298.57 287.77 299.57 289.92C300.57 292.07 302.27 296.19 303.18 298.86C304.09 301.52 304.21 303.92 305.04 305.91C305.87 307.9 307.05 308.99 308.14 310.78C309.22 312.56 309.74 313.57 311.54 316.64C313.35 319.7 316.49 324.98 318.97 329.15C321.45 333.32 324.23 337.89 326.4 341.67C328.57 345.44 330.89 349.83 331.97 351.8C333.06 353.77 332.59 352.93 332.9 353.49M299.05 218.4C299.36 223.7 299.6 228.68 299.98 234.29C300.36 239.9 300.48 246.13 301.32 252.07C302.17 258.02 303.8 265.13 305.04 269.95C306.28 274.77 307.52 277.65 308.76 280.98C309.99 284.31 311.23 286.94 312.47 289.92C313.71 292.9 315.1 296.49 316.19 298.86C317.27 301.22 318.08 302.3 318.97 304.12C319.87 305.94 320.62 307.7 321.55 309.78C322.48 311.87 322.81 313.56 324.54 316.64C326.28 319.72 329.5 324.38 331.97 328.26C334.45 332.13 337.12 336.37 339.4 339.88C341.69 343.39 344.46 347.38 345.7 349.32C346.94 351.25 346.46 350.77 346.84 351.5M309.27 218.4C309.72 223.7 309.99 228.68 310.61 234.29C311.23 239.9 311.9 246.13 312.99 252.07C314.07 258.02 315.65 265.13 317.11 269.95C318.58 274.77 320.21 277.65 321.76 280.98C323.31 284.31 324.85 286.94 326.4 289.92C327.95 292.9 329.79 296.21 331.05 298.86C332.3 301.51 332.85 302.85 333.94 305.81C335.02 308.77 336.02 313.34 337.55 316.64C339.08 319.93 341.76 323.41 343.12 325.58C344.48 327.75 345.08 328.64 345.7 329.65C346.32 330.66 346.46 330.97 346.84 331.64M319.9 218.4C320.52 223.7 320.92 228.68 321.76 234.29C322.6 239.9 323.72 246.13 324.96 252.07C326.2 258.02 327.71 265.13 329.19 269.95C330.67 274.77 332.28 277.65 333.83 280.98C335.38 284.31 336.93 286.49 338.48 289.92C340.02 293.34 341.92 298.81 343.12 301.54C344.32 304.27 345.08 305.1 345.7 306.31C346.32 307.52 346.46 307.96 346.84 308.79M330.12 218.4C331.05 223.7 331.91 228.68 332.9 234.29C333.9 239.9 334.86 246.13 336.1 252.07C337.34 258.02 339.1 265.13 340.33 269.95C341.57 274.77 342.64 278.4 343.53 280.98C344.43 283.56 345.15 284.29 345.7 285.45C346.25 286.61 346.46 287.1 346.84 287.93M340.75 218.4C341.37 222.21 341.9 225.7 342.6 229.82C343.31 233.95 344.46 240.4 344.98 243.13C345.49 245.86 345.39 245.2 345.7 246.21C346.01 247.22 346.46 248.2 346.84 249.19" fill="none" stroke="#6a62c0" stroke-width="1.05"/><circle cx="277.9" cy="231.81" r="2.8" fill="none" stroke="#6a62c0" stroke-width="0.9"/><path d="M275 218.5L281.5 218.5C280.83 220.33 280.15 222.7 279.5 224C278.85 225.3 278.18 226.38 277.6 226.3C277.02 226.22 276.43 224.8 276 223.5C275.57 222.2 275.33 220.17 275 218.5Z" fill="#0030ff" filter="url(#b0_4)"/><ellipse cx="278.4" cy="219.5" rx="1.3" ry="1.5" fill="#40ffb0" filter="url(#b0_5)"/><path d="M278.2 241 L278 262 L277.6 272" stroke="#0010f0" stroke-width="1.2" fill="none"/><path d="M278 262 L277.6 273" stroke="#20d0ff" stroke-width="1" fill="none"/><path d="M278 266 L277.6 273" stroke="#d8ff40" stroke-width="0.9" fill="none"/><path d="M277.3 270.5C276.55 270.67 275.73 274.45 275 276C274.27 277.55 273.58 277.85 272.9 279.8C272.22 281.75 271.47 284.83 270.9 287.7C270.33 290.57 269.6 294.28 269.5 297C269.4 299.72 270.23 302.25 270.3 304C270.37 305.75 268.82 306.7 269.9 307.5C270.98 308.3 274.48 308.58 276.8 308.8C279.12 309.02 281.63 309.1 283.8 308.8C285.97 308.5 289.32 307.97 289.8 307C290.28 306.03 287.17 304.67 286.7 303C286.23 301.33 287.4 299.55 287 297C286.6 294.45 285.08 290.57 284.3 287.7C283.52 284.83 283.1 281.92 282.3 279.8C281.5 277.68 280.33 276.55 279.5 275C278.67 273.45 278.05 270.33 277.3 270.5Z" fill="#0050ff" filter="url(#b0_4)"/><path d="M277.3 274C276.28 274 275.12 278.83 274.4 281C273.68 283.17 271.82 286 273 287C274.18 288 280.25 288 281.5 287C282.75 286 281.2 283.17 280.5 281C279.8 278.83 278.32 274 277.3 274Z" fill="#00d8ff" filter="url(#b0_6)"/><path d="M271 305C271 304.55 274.42 306.38 276 306.8C277.58 307.22 278.67 307.72 280.5 307.5C282.33 307.28 286.42 305.25 287 305.5C287.58 305.75 285.83 308.33 284 309C282.17 309.67 278.17 310.17 276 309.5C273.83 308.83 271 305.45 271 305Z" fill="#00c0ff" filter="url(#b0_5)"/><ellipse cx="278.3" cy="297.6" rx="8.2" ry="8.8" fill="#0000c8" filter="url(#b0_4)"/><ellipse cx="278.6" cy="297.8" rx="3" ry="3" fill="#0040ff" filter="url(#b1)"/><path d="M281 290.5C281.25 290.17 283.63 291.42 284.5 292.5C285.37 293.58 286.03 295.5 286.2 297C286.37 298.5 286.12 300.92 285.5 301.5C284.88 302.08 283.17 301.33 282.5 300.5C281.83 299.67 281.42 297.5 281.5 296.5C281.58 295.5 283.08 295.5 283 294.5C282.92 293.5 280.75 290.83 281 290.5Z" fill="#ffffff" filter="url(#b0_3)"/><path d="M271.3 295.5C271.25 296.17 271.63 299.12 272.3 300.5C272.97 301.88 275.08 303.8 275.3 303.8C275.52 303.8 274.05 301.72 273.6 300.5C273.15 299.28 272.98 297.33 272.6 296.5C272.22 295.67 271.35 294.83 271.3 295.5Z" fill="#ff1000" filter="url(#b0_3)"/><path d="M276.8 308.5C275.53 310.08 276.42 314.75 276.2 318C275.98 321.25 275.75 325.3 275.5 328C275.25 330.7 274.48 331.83 274.7 334.2C274.92 336.57 276.17 341.57 276.8 342.2C277.43 342.83 277.87 340.03 278.5 338C279.13 335.97 279.95 333 280.6 330C281.25 327 281.87 323.58 282.4 320C282.93 316.42 284.73 310.42 283.8 308.5C282.87 306.58 278.07 306.92 276.8 308.5Z" fill="#0050ff" filter="url(#b0_4)"/><path d="M278 310C277.15 311.67 277.67 316.67 277.5 320C277.33 323.33 276.87 327.83 277 330C277.13 332.17 277.77 334 278.3 333C278.83 332 279.62 327.17 280.2 324C280.78 320.83 281.4 316.33 281.8 314C282.2 311.67 283.23 310.67 282.6 310C281.97 309.33 278.85 308.33 278 310Z" fill="#30f0d0" filter="url(#b0_6)"/><path d="M279.2 310.5C278.77 311.67 278.98 315.7 279 318C279.02 320.3 279 324.3 279.3 324.3C279.6 324.3 280.42 320.22 280.8 318C281.18 315.78 281.87 312.25 281.6 311C281.33 309.75 279.63 309.33 279.2 310.5Z" fill="#ffe800" filter="url(#b0_6)"/><path d="M281 342 L284.7 341" stroke="#0000d0" stroke-width="1.3" fill="none"/></svg>
<rect x="213.4" y="218.4" width="132.3" height="133.4" fill="none" stroke="#8a8a8a" stroke-width="1"/>
<path d="M213.4 351.8v-2.2M213.4 218.4v2.2M213.4 218.4h2.2M345.7 218.4h-2.2M220.02 351.8v-1.3M220.02 218.4v1.3M213.4 225.07h1.3M345.7 225.07h-1.3M226.63 351.8v-1.3M226.63 218.4v1.3M213.4 231.74h1.3M345.7 231.74h-1.3M233.25 351.8v-1.3M233.25 218.4v1.3M213.4 238.41h1.3M345.7 238.41h-1.3M239.86 351.8v-1.3M239.86 218.4v1.3M213.4 245.08h1.3M345.7 245.08h-1.3M246.47 351.8v-2.2M246.47 218.4v2.2M213.4 251.75h2.2M345.7 251.75h-2.2M253.09 351.8v-1.3M253.09 218.4v1.3M213.4 258.42h1.3M345.7 258.42h-1.3M259.7 351.8v-1.3M259.7 218.4v1.3M213.4 265.09h1.3M345.7 265.09h-1.3M266.32 351.8v-1.3M266.32 218.4v1.3M213.4 271.76h1.3M345.7 271.76h-1.3M272.94 351.8v-1.3M272.94 218.4v1.3M213.4 278.43h1.3M345.7 278.43h-1.3M279.55 351.8v-2.2M279.55 218.4v2.2M213.4 285.1h2.2M345.7 285.1h-2.2M286.16 351.8v-1.3M286.16 218.4v1.3M213.4 291.77h1.3M345.7 291.77h-1.3M292.78 351.8v-1.3M292.78 218.4v1.3M213.4 298.44h1.3M345.7 298.44h-1.3M299.39 351.8v-1.3M299.39 218.4v1.3M213.4 305.11h1.3M345.7 305.11h-1.3M306.01 351.8v-1.3M306.01 218.4v1.3M213.4 311.78h1.3M345.7 311.78h-1.3M312.62 351.8v-2.2M312.62 218.4v2.2M213.4 318.45h2.2M345.7 318.45h-2.2M319.24 351.8v-1.3M319.24 218.4v1.3M213.4 325.12h1.3M345.7 325.12h-1.3M325.86 351.8v-1.3M325.86 218.4v1.3M213.4 331.79h1.3M345.7 331.79h-1.3M332.47 351.8v-1.3M332.47 218.4v1.3M213.4 338.46h1.3M345.7 338.46h-1.3M339.08 351.8v-1.3M339.08 218.4v1.3M213.4 345.13h1.3M345.7 345.13h-1.3M345.7 351.8v-2.2M345.7 218.4v2.2M213.4 351.8h2.2M345.7 351.8h-2.2" stroke="#333" stroke-width="0.7" fill="none"/>
<g fill="#000"><text x="197.26" y="223.62" font-size="8.4" textLength="13.54" lengthAdjust="spacingAndGlyphs">0.60</text><text x="197.26" y="254.77" font-size="8.4" textLength="13.54" lengthAdjust="spacingAndGlyphs">0.55</text><text x="197.26" y="288.12" font-size="8.4" textLength="13.54" lengthAdjust="spacingAndGlyphs">0.50</text><text x="197.26" y="321.47" font-size="8.4" textLength="13.54" lengthAdjust="spacingAndGlyphs">0.45</text><text x="197.26" y="352.72" font-size="8.4" textLength="13.54" lengthAdjust="spacingAndGlyphs">0.40</text><text x="204.6" y="362.72" font-size="8.4" textLength="17.61" lengthAdjust="spacingAndGlyphs">−0.10</text><text x="237.67" y="362.72" font-size="8.4" textLength="17.61" lengthAdjust="spacingAndGlyphs">−0.05</text><text x="272.78" y="362.72" font-size="8.4" textLength="13.54" lengthAdjust="spacingAndGlyphs">0.00</text><text x="305.85" y="362.72" font-size="8.4" textLength="13.54" lengthAdjust="spacingAndGlyphs">0.05</text><text x="338.93" y="362.72" font-size="8.4" textLength="13.54" lengthAdjust="spacingAndGlyphs">0.10</text><text x="354.3" y="223.62" font-size="8.4" textLength="9.67" lengthAdjust="spacingAndGlyphs">2.4</text><text x="354.3" y="240.48" font-size="8.4" textLength="9.67" lengthAdjust="spacingAndGlyphs">2.2</text><text x="354.3" y="259.54" font-size="8.4" textLength="9.67" lengthAdjust="spacingAndGlyphs">2.0</text><text x="354.3" y="278.6" font-size="8.4" textLength="9.67" lengthAdjust="spacingAndGlyphs">1.8</text><text x="354.3" y="297.65" font-size="8.4" textLength="9.67" lengthAdjust="spacingAndGlyphs">1.6</text><text x="354.3" y="316.71" font-size="8.4" textLength="9.67" lengthAdjust="spacingAndGlyphs">1.4</text><text x="354.3" y="335.77" font-size="8.4" textLength="9.67" lengthAdjust="spacingAndGlyphs">1.2</text><text x="354.3" y="352.52" font-size="8.4" textLength="9.67" lengthAdjust="spacingAndGlyphs">1.0</text></g>
<text x="279.55" y="370.8" font-size="7" text-anchor="middle" fill="#000">x/L<tspan font-size="4" dy="1.2">o</tspan></text>
<text transform="translate(191.2,285.1) rotate(-90)" font-size="7" text-anchor="middle" fill="#000">y/L<tspan font-size="4" dy="1.2">o</tspan></text>
<text x="280.55" y="214.4" font-size="9" text-anchor="middle" fill="#000">Mach Number</text>
<rect x="347.6" y="218.4" width="4.8" height="133.4" fill="url(#jet)"/>
<path d="M352.4 218.4h-1.2M352.4 237.46h-1.2M352.4 256.51h-1.2M352.4 275.57h-1.2M352.4 294.63h-1.2M352.4 313.69h-1.2M352.4 332.74h-1.2M352.4 351.8h-1.2" stroke="#222" stroke-width="0.6"/>
<g class="cap" font-family="'Liberation Serif', serif" font-size="14.7" fill="#111"><text class="cap" x="245.47" y="392.8">(f)</text><text class="cap" x="266.36" y="392.8" font-style="italic">t</text><text class="cap" x="274.44" y="392.8">=</text><text class="cap" x="286.03" y="392.8">28</text><text class="cap" x="300.93" y="392.8" font-style="italic">t</text><text class="cap" x="304.53" y="395.4" font-style="italic" font-size="10.3">A</text></g>
</g>
<g id="pg"><svg x="397.8" y="218.6" width="132.4" height="133" viewBox="397.8 218.6 132.4 133" preserveAspectRatio="none" overflow="hidden"><path d="M402.84 218.6C402.12 222.29 401.42 225.98 400.68 229.68C399.94 233.37 399.02 238.28 398.42 240.75C397.82 243.22 397.53 243.26 397.08 244.51M413.14 218.6C412.25 223.71 411.51 228.52 410.46 233.93C409.42 239.33 408.2 245.33 406.86 251.03C405.52 256.74 403.84 262.87 402.43 268.14C401.03 273.42 399.31 279.69 398.42 282.68C397.53 285.66 397.53 284.92 397.08 286.04M423.85 218.6C422.96 223.71 422.22 228.52 421.17 233.93C420.12 239.33 418.77 245.33 417.57 251.03C416.37 256.74 415.23 262.44 413.96 268.14C412.69 273.84 411.08 281.18 409.95 285.25C408.82 289.32 408.4 289.73 407.17 292.57C405.93 295.4 403.91 299.47 402.54 302.26C401.16 305.04 399.84 307.7 398.93 309.28C398.02 310.86 397.7 310.93 397.08 311.75M434.45 218.6C433.87 223.71 433.44 228.52 432.7 233.93C431.96 239.33 430.99 245.33 430.02 251.03C429.06 256.74 428.12 262.44 426.94 268.14C425.75 273.84 423.93 281.18 422.92 285.25C421.91 289.32 422.27 288.86 420.86 292.57C419.45 296.27 416.92 302.82 414.48 307.5C412.04 312.18 408.83 316.69 406.24 320.65C403.65 324.6 400.46 329.09 398.93 331.23C397.41 333.37 397.7 332.75 397.08 333.5M446.19 218.6C445.61 223.84 445.19 228.79 444.44 234.32C443.68 239.86 442.65 246.73 441.66 251.83C440.66 256.92 439.22 260.51 438.47 264.88C437.71 269.25 437.42 274.67 437.13 278.03C436.84 281.39 436.97 283.07 436.72 285.05C436.46 287.03 436.55 287.18 435.58 289.9C434.62 292.62 432.94 297.26 430.95 301.37C428.96 305.47 426.23 310.27 423.64 314.52C421.05 318.77 418.15 322.92 415.41 326.88C412.66 330.83 409.91 334.44 407.17 338.25C404.42 342.06 400.61 347.38 398.93 349.72C397.25 352.06 397.7 351.44 397.08 352.29M457.2 218.6C456.59 223.84 456.19 229.35 455.35 234.32C454.51 239.3 453.19 243.8 452.16 248.46C451.13 253.13 449.67 258.1 449.17 262.31C448.68 266.51 448.85 270.22 449.17 273.68C449.5 277.14 450.86 280.35 451.13 283.07C451.41 285.79 451.29 287.39 450.82 289.99C450.36 292.6 449.67 295.78 448.35 298.7C447.03 301.61 445.02 304.86 442.89 307.5C440.77 310.13 438.02 312.03 435.58 314.52C433.15 317.01 430.08 320.09 428.27 322.43C426.47 324.77 425.55 326.71 424.77 328.56C424 330.41 424.45 331.89 423.64 333.5C422.84 335.12 421.62 336.42 419.94 338.25C418.25 340.08 415.22 342.26 413.55 344.48C411.89 346.71 410.72 350.13 409.95 351.6C409.18 353.07 409.26 352.72 408.92 353.28M422.72 351.6C424.84 349.23 426.95 346.84 429.1 344.48C431.24 342.12 434.19 339.22 435.58 337.46C436.97 335.7 436.82 335.22 437.44 333.9C438.06 332.58 438.54 330.69 439.29 329.55C440.05 328.41 440.89 327.47 441.97 327.08C443.05 326.68 444.8 326.7 445.78 327.18C446.76 327.65 447.54 328.72 447.84 329.94C448.13 331.16 447.32 333.65 447.53 334.49C447.73 335.33 448.52 335.35 449.07 334.99C449.62 334.62 450.12 333.29 450.82 332.32C451.53 331.35 452.61 330.22 453.29 329.15C453.98 328.08 453.96 326.83 454.94 325.89C455.92 324.95 457.33 324.19 459.16 323.52C461 322.84 463.71 322.38 465.96 321.84C468.2 321.29 470.69 320.93 472.65 320.25C474.6 319.58 476.22 318.77 477.69 317.78C479.17 316.79 480.25 314.52 481.5 314.32C482.75 314.12 483.84 315.62 485.21 316.59C486.58 317.57 488.37 318.82 489.74 320.15C491.11 321.49 492.52 323.27 493.45 324.6C494.37 325.94 494.68 326.53 495.3 328.16C495.92 329.8 496.22 332.17 497.15 334.39C498.08 336.62 499.47 339.16 500.86 341.51C502.25 343.87 504.41 346.85 505.49 348.53C506.57 350.22 506.88 350.81 507.34 351.6C507.81 352.39 507.96 352.72 508.27 353.28M467.6 218.6C468.53 223.94 469.3 229.74 470.38 234.62C471.46 239.5 472.85 243.44 474.09 247.87C475.33 252.3 476.96 256.77 477.8 261.22C478.64 265.67 478.76 270.43 479.13 274.57C479.51 278.71 479.67 283.47 480.06 286.04C480.46 288.61 480.51 288.15 481.5 289.99C482.5 291.84 484.2 294.76 486.03 297.11C487.87 299.47 490.51 301.93 492.52 304.14C494.53 306.34 496.53 308.29 498.08 310.37C499.62 312.44 500.86 314.96 501.78 316.59C502.71 318.23 503.02 318.67 503.64 320.15C504.26 321.64 504.56 323.42 505.49 325.49C506.42 327.57 507.96 330.24 509.2 332.61C510.43 334.99 511.51 337.36 512.9 339.73C514.29 342.11 516.3 344.88 517.54 346.85C518.77 348.83 519.72 350.53 520.32 351.6C520.92 352.67 520.87 352.72 521.14 353.28M479.65 218.6C480.58 223.94 481.37 229 482.43 234.62C483.49 240.24 484.66 246.4 486.03 252.32C487.41 258.24 489.28 264.83 490.67 270.12C492.06 275.41 493.29 280.75 494.37 284.06C495.45 287.37 495.92 287.52 497.15 289.99C498.39 292.47 500.09 295.94 501.78 298.89C503.48 301.84 505.49 304.75 507.34 307.7C509.2 310.65 511.05 313.63 512.9 316.59C514.76 319.56 516.92 322.82 518.46 325.49C520.01 328.16 520.63 329.94 522.17 332.61C523.71 335.28 526.39 339.39 527.73 341.51C529.07 343.64 529.58 344.4 530.2 345.37C530.82 346.34 531.02 346.69 531.44 347.35M490.67 218.6C491.59 223.94 492.28 229 493.45 234.62C494.61 240.24 496.12 246.4 497.67 252.32C499.21 258.24 501.2 264.83 502.71 270.12C504.22 275.41 505.49 280.75 506.73 284.06C507.96 287.37 508.63 287.52 510.12 289.99C511.62 292.47 513.68 295.65 515.68 298.89C517.69 302.14 520.16 306.08 522.17 309.48C524.18 312.87 526.39 316.91 527.73 319.26C529.07 321.62 529.58 322.56 530.2 323.62C530.82 324.67 531.02 324.93 531.44 325.59M502.3 218.6C503.23 223.94 503.93 229 505.08 234.62C506.23 240.24 507.67 246.4 509.2 252.32C510.72 258.24 512.68 264.83 514.24 270.12C515.8 275.41 517.24 280.75 518.57 284.06C519.89 287.37 520.64 287.23 522.17 289.99C523.7 292.76 526.39 298.2 527.73 300.67C529.07 303.15 529.58 303.81 530.2 304.83C530.82 305.85 531.02 306.15 531.44 306.81M513.32 218.6C514.41 223.94 515.37 229 516.61 234.62C517.85 240.24 519.18 246.4 520.73 252.32C522.27 258.24 524.3 265.32 525.88 270.12C527.45 274.91 529.27 278.77 530.2 281.1C531.13 283.42 531.02 283.07 531.44 284.06M524.02 218.6C524.95 223.94 525.77 230.04 526.8 234.62C527.83 239.2 529.43 243.78 530.2 246.09C530.97 248.4 531.02 247.67 531.44 248.46" fill="none" stroke="#6a62c0" stroke-width="1.05"/><circle cx="463.9" cy="267.45" r="2.7" fill="none" stroke="#6a62c0" stroke-width="0.9"/><path d="M459.9 217.5L464.8 217.5C465.03 223.33 465.22 229.4 465.5 235C465.78 240.6 466.08 247.43 466.5 251.1C466.92 254.77 468.53 255.52 468 257C467.47 258.48 464.88 260 463.3 260C461.72 260 459.07 258.48 458.5 257C457.93 255.52 459.6 254.77 459.9 251.1C460.2 247.43 460.3 240.6 460.3 235C460.3 229.4 460.03 223.33 459.9 217.5Z" fill="#0060ff" filter="url(#b0_4)"/><path d="M460.8 218C461.3 215.17 463.37 215.17 464 218C464.63 220.83 464.45 229.83 464.6 235C464.75 240.17 465.23 246.33 464.9 249C464.57 251.67 463.32 251 462.6 251C461.88 251 460.87 251.67 460.6 249C460.33 246.33 460.97 240.17 461 235C461.03 229.83 460.3 220.83 460.8 218Z" fill="#30f0c0" filter="url(#b0_6)"/><ellipse cx="462.8" cy="244" rx="1.8" ry="3.5" fill="#f0f000" filter="url(#b0_7)"/><ellipse cx="463.2" cy="266.5" rx="7.6" ry="12" fill="#0010e8" filter="url(#b0_4)"/><ellipse cx="463.2" cy="266.9" rx="5.5" ry="7" fill="#0000b0" filter="url(#b0_4)"/><path d="M459.3 261.5 Q457.3 267 459.8 272.5" stroke="#f00000" stroke-width="1.6" fill="none"/><path d="M467.4 261.5 Q469.5 267 467.2 272.5" stroke="#f00000" stroke-width="1.6" fill="none"/><ellipse cx="463.2" cy="266.9" rx="1.5" ry="1.5" fill="#20a0ff" filter="url(#b0_5)"/><path d="M459 277.6C459.67 277.35 461.57 279.5 463.5 279.5C465.43 279.5 469.68 277.27 470.6 277.6C471.52 277.93 470.18 280.77 469 281.5C467.82 282.23 465.08 282.08 463.5 282C461.92 281.92 460.25 281.73 459.5 281C458.75 280.27 458.33 277.85 459 277.6Z" fill="#0000c0" filter="url(#b0_4)"/><path d="M462.5 280C461.97 282 462.25 288.53 462.3 292C462.35 295.47 463.42 296.85 462.8 300.8C462.18 304.75 459.78 312.38 458.6 315.7C457.42 319.02 456.67 319.03 455.7 320.7C458.8 319.97 462.23 319.08 465 318.5C467.77 317.92 471.38 318.62 472.3 317.2C473.22 315.78 471.47 312.73 470.5 310C469.53 307.27 467.28 303.8 466.5 300.8C465.72 297.8 465.97 295.47 465.8 292C465.63 288.53 466.05 282 465.5 280C464.95 278 463.03 278 462.5 280Z" fill="#0060ff" filter="url(#b0_4)"/><path d="M463.2 282C462.92 284.67 463.82 292.58 463.2 298C462.58 303.42 460.37 311.08 459.5 314.5C458.63 317.92 456.92 318.12 458 318.5C459.08 318.88 463.92 317.3 466 316.8C468.08 316.3 470.17 316.97 470.5 315.5C470.83 314.03 468.82 310.92 468 308C467.18 305.08 466.12 302.33 465.6 298C465.08 293.67 465.3 284.67 464.9 282C464.5 279.33 463.48 279.33 463.2 282Z" fill="#30f0c8" filter="url(#b0_6)"/><ellipse cx="465.7" cy="299.5" rx="1.3" ry="3" fill="#f0f000" filter="url(#b0_6)"/><ellipse cx="466.5" cy="312" rx="2.2" ry="3" fill="#c0ff40" filter="url(#b0_8)"/><path d="M446 329.5 Q449 327.5 452.5 330" stroke="#0000d0" stroke-width="1.2" fill="none"/><ellipse cx="449.5" cy="336" rx="3.5" ry="1.3" fill="#0040ff" filter="url(#b0_4)"/><ellipse cx="448.5" cy="336.2" rx="1.2" ry="0.8" fill="#00d0ff" filter="url(#b0_3)"/><path d="M468 323.5 L470.5 322.8" stroke="#0000d0" stroke-width="1.2" fill="none"/></svg>
<rect x="397.8" y="218.6" width="132.4" height="133" fill="none" stroke="#8a8a8a" stroke-width="1"/>
<path d="M397.8 351.6v-2.2M397.8 218.6v2.2M397.8 218.6h2.2M530.2 218.6h-2.2M404.42 351.6v-1.3M404.42 218.6v1.3M397.8 225.25h1.3M530.2 225.25h-1.3M411.04 351.6v-1.3M411.04 218.6v1.3M397.8 231.9h1.3M530.2 231.9h-1.3M417.66 351.6v-1.3M417.66 218.6v1.3M397.8 238.55h1.3M530.2 238.55h-1.3M424.28 351.6v-1.3M424.28 218.6v1.3M397.8 245.2h1.3M530.2 245.2h-1.3M430.9 351.6v-2.2M430.9 218.6v2.2M397.8 251.85h2.2M530.2 251.85h-2.2M437.52 351.6v-1.3M437.52 218.6v1.3M397.8 258.5h1.3M530.2 258.5h-1.3M444.14 351.6v-1.3M444.14 218.6v1.3M397.8 265.15h1.3M530.2 265.15h-1.3M450.76 351.6v-1.3M450.76 218.6v1.3M397.8 271.8h1.3M530.2 271.8h-1.3M457.38 351.6v-1.3M457.38 218.6v1.3M397.8 278.45h1.3M530.2 278.45h-1.3M464 351.6v-2.2M464 218.6v2.2M397.8 285.1h2.2M530.2 285.1h-2.2M470.62 351.6v-1.3M470.62 218.6v1.3M397.8 291.75h1.3M530.2 291.75h-1.3M477.24 351.6v-1.3M477.24 218.6v1.3M397.8 298.4h1.3M530.2 298.4h-1.3M483.86 351.6v-1.3M483.86 218.6v1.3M397.8 305.05h1.3M530.2 305.05h-1.3M490.48 351.6v-1.3M490.48 218.6v1.3M397.8 311.7h1.3M530.2 311.7h-1.3M497.1 351.6v-2.2M497.1 218.6v2.2M397.8 318.35h2.2M530.2 318.35h-2.2M503.72 351.6v-1.3M503.72 218.6v1.3M397.8 325h1.3M530.2 325h-1.3M510.34 351.6v-1.3M510.34 218.6v1.3M397.8 331.65h1.3M530.2 331.65h-1.3M516.96 351.6v-1.3M516.96 218.6v1.3M397.8 338.3h1.3M530.2 338.3h-1.3M523.58 351.6v-1.3M523.58 218.6v1.3M397.8 344.95h1.3M530.2 344.95h-1.3M530.2 351.6v-2.2M530.2 218.6v2.2M397.8 351.6h2.2M530.2 351.6h-2.2" stroke="#333" stroke-width="0.7" fill="none"/>
<g fill="#000"><text x="381.66" y="223.82" font-size="8.4" textLength="13.54" lengthAdjust="spacingAndGlyphs">0.60</text><text x="381.66" y="254.87" font-size="8.4" textLength="13.54" lengthAdjust="spacingAndGlyphs">0.55</text><text x="381.66" y="288.12" font-size="8.4" textLength="13.54" lengthAdjust="spacingAndGlyphs">0.50</text><text x="381.66" y="321.37" font-size="8.4" textLength="13.54" lengthAdjust="spacingAndGlyphs">0.45</text><text x="381.66" y="352.52" font-size="8.4" textLength="13.54" lengthAdjust="spacingAndGlyphs">0.40</text><text x="389" y="362.52" font-size="8.4" textLength="17.61" lengthAdjust="spacingAndGlyphs">−0.10</text><text x="422.1" y="362.52" font-size="8.4" textLength="17.61" lengthAdjust="spacingAndGlyphs">−0.05</text><text x="457.23" y="362.52" font-size="8.4" textLength="13.54" lengthAdjust="spacingAndGlyphs">0.00</text><text x="490.33" y="362.52" font-size="8.4" textLength="13.54" lengthAdjust="spacingAndGlyphs">0.05</text><text x="523.43" y="362.52" font-size="8.4" textLength="13.54" lengthAdjust="spacingAndGlyphs">0.10</text><text x="538.6" y="223.82" font-size="8.4" textLength="9.67" lengthAdjust="spacingAndGlyphs">2.4</text><text x="538.6" y="240.62" font-size="8.4" textLength="9.67" lengthAdjust="spacingAndGlyphs">2.2</text><text x="538.6" y="259.62" font-size="8.4" textLength="9.67" lengthAdjust="spacingAndGlyphs">2.0</text><text x="538.6" y="278.62" font-size="8.4" textLength="9.67" lengthAdjust="spacingAndGlyphs">1.8</text><text x="538.6" y="297.62" font-size="8.4" textLength="9.67" lengthAdjust="spacingAndGlyphs">1.6</text><text x="538.6" y="316.62" font-size="8.4" textLength="9.67" lengthAdjust="spacingAndGlyphs">1.4</text><text x="538.6" y="335.62" font-size="8.4" textLength="9.67" lengthAdjust="spacingAndGlyphs">1.2</text><text x="538.6" y="352.32" font-size="8.4" textLength="9.67" lengthAdjust="spacingAndGlyphs">1.0</text></g>
<text x="464" y="370.6" font-size="7" text-anchor="middle" fill="#000">x/L<tspan font-size="4" dy="1.2">o</tspan></text>
<text transform="translate(375.6,285.1) rotate(-90)" font-size="7" text-anchor="middle" fill="#000">y/L<tspan font-size="4" dy="1.2">o</tspan></text>
<text x="465" y="214.6" font-size="9" text-anchor="middle" fill="#000">Mach Number</text>
<rect x="532" y="218.6" width="4.7" height="133" fill="url(#jet)"/>
<path d="M536.7 218.6h-1.2M536.7 237.6h-1.2M536.7 256.6h-1.2M536.7 275.6h-1.2M536.7 294.6h-1.2M536.7 313.6h-1.2M536.7 332.6h-1.2M536.7 351.6h-1.2" stroke="#222" stroke-width="0.6"/>
<g class="cap" font-family="'Liberation Serif', serif" font-size="14.7" fill="#111"><text class="cap" x="423.18" y="392.6">(g)</text><text class="cap" x="446.52" y="392.6" font-style="italic">t</text><text class="cap" x="454.6" y="392.6">=</text><text class="cap" x="466.2" y="392.6">28.2</text><text class="cap" x="492.12" y="392.6" font-style="italic">t</text><text class="cap" x="495.72" y="395.2" font-style="italic" font-size="10.3">A</text></g>
</g>
<g id="ph"><svg x="583" y="219" width="132" height="132.6" viewBox="583 219 132 132.6" preserveAspectRatio="none" overflow="hidden"><path d="M590.16 219C589.11 224.34 587.96 230.47 586.99 235.02C586.02 239.58 585 243.98 584.33 246.33C583.67 248.67 583.48 248.13 583 249.08C582.52 250.03 581.98 251.04 581.47 252.03M601.52 219C600.6 224.34 599.97 229.45 598.76 235.02C597.55 240.59 595.91 246.64 594.26 252.42C592.6 258.2 590.49 264.51 588.83 269.72C587.18 274.93 585.3 281.06 584.33 283.68C583.36 286.3 583.48 284.82 583 285.45C582.52 286.07 581.98 286.76 581.47 287.41M612.37 219C611.45 224.34 610.66 229.45 609.6 235.02C608.55 240.59 607.52 246.64 606.02 252.42C604.52 258.2 602.41 264.22 600.6 269.72C598.79 275.22 596.68 281.58 595.18 285.45C593.68 289.31 593.1 289.94 591.6 292.92C590.09 295.9 587.6 300.9 586.17 303.34C584.74 305.78 583.78 306.53 583 307.56C582.22 308.6 581.98 308.87 581.47 309.53M623.62 219C622.87 224.34 622.19 229.45 621.37 235.02C620.55 240.59 619.91 246.64 618.71 252.42C617.52 258.2 616.02 264.22 614.21 269.72C612.4 275.22 609.35 281.88 607.87 285.45C606.38 289.02 606.5 288.45 605.31 291.15C604.11 293.85 602.68 297.88 600.7 301.67C598.72 305.45 595.86 310.22 593.44 313.85C591.02 317.49 587.91 321.18 586.17 323.49C584.43 325.8 583.78 326.68 583 327.71C582.22 328.75 581.98 329.02 581.47 329.68M634.98 219C634.37 224.34 633.75 229.45 633.14 235.02C632.53 240.59 632.05 247.36 631.3 252.42C630.55 257.48 629.83 261.35 628.64 265.4C627.44 269.44 625.5 273.36 624.13 276.7C622.77 280.04 621.32 283.19 620.45 285.45C619.58 287.71 620.08 288 618.92 290.26C617.76 292.52 614.79 296.37 613.49 299.01C612.2 301.65 612.5 303.32 611.14 306.09C609.78 308.86 607.8 311.99 605.31 315.62C602.82 319.26 599.24 323.98 596.2 327.91C593.16 331.84 589.29 336.54 587.09 339.21C584.89 341.89 583.94 342.82 583 343.93C582.06 345.05 581.98 345.24 581.47 345.9M647.16 219C647.02 224.34 646.97 229.45 646.75 235.02C646.53 240.59 646.29 247.36 645.83 252.42C645.37 257.48 644.89 261.35 643.99 265.4C643.08 269.44 641.62 273.36 640.4 276.7C639.19 280.04 637.64 283.17 636.72 285.45C635.8 287.72 636.12 288.02 634.88 290.36C633.63 292.7 630.73 297.29 629.25 299.5C627.77 301.72 626.62 302.22 625.98 303.63C625.33 305.04 626.04 306.3 625.36 307.96C624.68 309.61 623.11 311.69 621.88 313.56C620.66 315.43 619.55 317.66 618 319.16C616.44 320.67 614.38 321.46 612.57 322.6M612.57 322.6C609.84 325.52 607.27 328.14 604.39 331.35C601.5 334.56 597.87 338.49 595.28 341.87C592.69 345.24 590.03 349.7 588.83 351.6C587.64 353.5 588.36 352.71 588.12 353.27M601.62 351.6C604.04 349.83 607.06 347.77 608.89 346.29C610.71 344.82 611.36 344.36 612.57 342.75C613.78 341.15 614.79 338.56 616.15 336.66C617.52 334.76 619.24 332.51 620.76 331.35C622.28 330.19 623.74 329.83 625.26 329.68C626.78 329.53 628.35 330.76 629.87 330.47C631.38 330.17 632.85 328.48 634.37 327.91C635.89 327.34 637.3 326.6 638.97 327.03C640.64 327.45 642.89 329.66 644.4 330.47C645.9 331.27 646.46 332.2 647.98 331.84C649.49 331.48 651.97 329.63 653.5 328.3C655.04 326.98 655.8 325.13 657.19 323.88C658.57 322.64 660.1 321.42 661.79 320.83C663.48 320.24 665.49 319.98 667.32 320.34C669.14 320.7 670.91 321.67 672.74 323C674.56 324.32 676.27 326.24 678.27 328.3C680.26 330.37 682.72 333.17 684.71 335.38C686.71 337.59 688.24 338.87 690.24 341.57C692.23 344.28 695.46 349.65 696.68 351.6C697.91 353.55 697.3 352.71 697.6 353.27M649.82 219C650.43 224.44 650.74 229.67 651.66 235.32C652.58 240.97 653.96 247.03 655.34 252.91C656.73 258.79 658.41 265.84 659.95 270.6C661.48 275.37 663.02 278.81 664.55 281.52C666.09 284.22 667.64 284.91 669.16 286.82C670.68 288.74 672.6 290.95 673.66 293.02C674.72 295.08 675.04 297.14 675.5 299.21C675.96 301.27 675.96 303.5 676.42 305.4C676.88 307.3 677.19 308.71 678.27 310.61C679.34 312.51 681.18 314.59 682.87 316.8C684.56 319.02 686.55 321.52 688.4 323.88C690.24 326.24 692.08 328.45 693.92 330.96C695.76 333.46 697.6 336.27 699.45 338.92C701.29 341.57 703.56 344.77 704.97 346.88C706.39 349 707.29 350.54 707.94 351.6C708.59 352.66 708.55 352.71 708.86 353.27M661.79 219C662.71 224.44 663.33 229.67 664.55 235.32C665.78 240.97 667.49 247.03 669.16 252.91C670.83 258.79 672.82 265.84 674.58 270.6C676.34 275.37 678.32 278.22 679.7 281.52C681.08 284.81 681.73 287.41 682.87 290.36C684.01 293.31 685.48 296.72 686.55 299.21C687.63 301.7 688.09 303.11 689.32 305.3C690.54 307.5 692.23 309.87 693.92 312.38C695.61 314.89 697.6 317.69 699.45 320.34C701.29 323 703.13 325.65 704.97 328.3C706.81 330.96 708.83 333.91 710.5 336.27C712.17 338.63 714.08 341.1 715 342.46C715.92 343.82 715.68 343.77 716.02 344.42M674.17 219C674.92 224.44 675.43 229.67 676.42 235.32C677.41 240.97 678.42 247.03 680.11 252.91C681.8 258.79 684.56 265.84 686.55 270.6C688.55 275.37 690.54 278.22 692.08 281.52C693.61 284.81 694.53 287.41 695.76 290.36C696.99 293.31 697.91 296.13 699.45 299.21C700.98 302.29 703.13 305.91 704.97 308.84C706.81 311.77 708.83 314.48 710.5 316.8C712.17 319.13 714.08 321.47 715 322.8C715.92 324.13 715.68 324.11 716.02 324.77M685.63 219C686.55 224.44 687.32 229.67 688.4 235.32C689.47 240.97 690.39 247.03 692.08 252.91C693.77 258.79 696.62 265.84 698.53 270.6C700.44 275.37 702.16 278.52 703.54 281.52C704.92 284.51 705.5 285.94 706.81 288.59C708.13 291.25 710.05 294.85 711.42 297.44C712.78 300.03 714.23 302.68 715 304.12C715.77 305.57 715.68 305.43 716.02 306.09M697.09 219C698.18 224.44 699.05 229.67 700.37 235.32C701.68 240.97 703.13 247.03 704.97 252.91C706.81 258.79 709.75 266.33 711.42 270.6C713.09 274.88 714.23 276.91 715 278.57C715.77 280.22 715.68 279.88 716.02 280.53M708.14 219C709.24 224.44 710.28 231.04 711.42 235.32C712.56 239.59 714.23 242.69 715 244.66C715.77 246.62 715.68 246.29 716.02 247.11" fill="none" stroke="#6a62c0" stroke-width="1.05"/><circle cx="652.99" cy="309.43" r="3.5" fill="none" stroke="#6a62c0" stroke-width="0.9"/><path d="M646.3 217.5L650 217.5C650.33 223.33 650.2 229.4 651 235C651.8 240.6 653.62 244.27 654.8 251.1C655.98 257.93 657 269.1 658.1 276C659.2 282.9 660.5 288.17 661.4 292.5C662.3 296.83 663.4 299.25 663.5 302C663.6 304.75 663.75 306.67 662 309C660.25 311.33 656 315.83 653 316C650 316.17 646.08 312.33 644 310C641.92 307.67 640.9 304.92 640.5 302C640.1 299.08 641.15 296.83 641.6 292.5C642.05 288.17 642.65 282.9 643.2 276C643.75 269.1 644.43 257.93 644.9 251.1C645.37 244.27 645.77 240.6 646 235C646.23 229.4 646.2 223.33 646.3 217.5Z" fill="#0070ff" filter="url(#b0_4)"/><path d="M646.8 218C647.33 215.17 648.88 215.17 649.5 218C650.12 220.83 649.75 229.5 650.5 235C651.25 240.5 652.88 244.17 654 251C655.12 257.83 656.13 269.17 657.2 276C658.27 282.83 659.55 287.83 660.4 292C661.25 296.17 662.7 299 662.3 301C661.9 303 660.38 303.5 658 304C655.62 304.5 650.67 304.33 648 304C645.33 303.67 642.93 304 642 302C641.07 300 642.07 296.33 642.4 292C642.73 287.67 643.47 282.83 644 276C644.53 269.17 645.22 257.83 645.6 251C645.98 244.17 646.1 240.5 646.3 235C646.5 229.5 646.27 220.83 646.8 218Z" fill="#20e8e8" filter="url(#b0_6)"/><path d="M647.3 222C647.7 218.17 648.42 219 649 222C649.58 225 650.05 233.67 650.8 240C651.55 246.33 652.63 253.33 653.5 260C654.37 266.67 655.17 274.67 656 280C656.83 285.33 658.5 289 658.5 292C658.5 295 657.42 296.83 656 298C654.58 299.17 651.92 299.33 650 299C648.08 298.67 645.4 298.33 644.5 296C643.6 293.67 644.42 290.17 644.6 285C644.78 279.83 645.27 271.67 645.6 265C645.93 258.33 646.32 252.17 646.6 245C646.88 237.83 646.9 225.83 647.3 222Z" fill="#a8ff58" filter="url(#b1_0)"/><ellipse cx="650.7" cy="277.5" rx="2.8" ry="6.5" fill="#ffd400" filter="url(#b1_0)"/><ellipse cx="650.3" cy="276" rx="1.6" ry="3" fill="#ffa000" filter="url(#b0_8)"/><ellipse cx="644.9" cy="291.7" rx="1.1" ry="1.6" fill="#ff8000" filter="url(#b0_5)"/><path d="M643 296C644.33 295 645.5 293.58 647 293C648.5 292.42 650.33 292.17 652 292.5C653.67 292.83 655.33 294.17 657 295" stroke="#00d0ff" stroke-width="0.9" fill="none" opacity="0.9"/><path d="M645 300C646.67 299.17 648.17 297.67 650 297.5C651.83 297.33 654.33 298.25 656 299C657.67 299.75 658.67 301 660 302" stroke="#0090ff" stroke-width="0.9" fill="none" opacity="0.9"/><ellipse cx="653.2" cy="309.1" rx="7.2" ry="6.8" fill="#0000c8" filter="url(#b0_4)"/><circle cx="653.2" cy="309.1" r="4.6" fill="none" stroke="#0060ff" stroke-width="1.1"/><circle cx="653.2" cy="309.1" r="2.6" fill="none" stroke="#0000a0" stroke-width="0.9"/><ellipse cx="653.2" cy="309.1" rx="1.4" ry="1.4" fill="#30e0ff" filter="url(#b0_5)"/><path d="M646 315.5C647 314.17 650 314.92 650.5 316C651 317.08 649.67 320.12 649 322C648.33 323.88 647.25 326.97 646.5 327.3C645.75 327.63 644.58 325.97 644.5 324C644.42 322.03 645 316.83 646 315.5Z" fill="#0080ff" filter="url(#b0_4)"/><ellipse cx="646.2" cy="323.5" rx="1" ry="2.2" fill="#40ffb0" filter="url(#b0_5)"/><ellipse cx="660.5" cy="312.5" rx="1.2" ry="0.8" fill="#ffffff" filter="url(#b0_2)"/><ellipse cx="662" cy="314.5" rx="0.8" ry="0.6" fill="#0000c0" filter="url(#b0_2)"/><ellipse cx="666.5" cy="313.5" rx="1" ry="0.6" fill="#0000c0" filter="url(#b0_2)"/><path d="M625.5 337 L631.6 340.3" stroke="#0000d0" stroke-width="1.5" fill="none"/><path d="M654.5 338.3 L659.8 341.2" stroke="#0000d0" stroke-width="1.5" fill="none"/></svg>
<rect x="583" y="219" width="132" height="132.6" fill="none" stroke="#8a8a8a" stroke-width="1"/>
<path d="M583 351.6v-2.2M583 219v2.2M583 219h2.2M715 219h-2.2M589.6 351.6v-1.3M589.6 219v1.3M583 225.63h1.3M715 225.63h-1.3M596.2 351.6v-1.3M596.2 219v1.3M583 232.26h1.3M715 232.26h-1.3M602.8 351.6v-1.3M602.8 219v1.3M583 238.89h1.3M715 238.89h-1.3M609.4 351.6v-1.3M609.4 219v1.3M583 245.52h1.3M715 245.52h-1.3M616 351.6v-2.2M616 219v2.2M583 252.15h2.2M715 252.15h-2.2M622.6 351.6v-1.3M622.6 219v1.3M583 258.78h1.3M715 258.78h-1.3M629.2 351.6v-1.3M629.2 219v1.3M583 265.41h1.3M715 265.41h-1.3M635.8 351.6v-1.3M635.8 219v1.3M583 272.04h1.3M715 272.04h-1.3M642.4 351.6v-1.3M642.4 219v1.3M583 278.67h1.3M715 278.67h-1.3M649 351.6v-2.2M649 219v2.2M583 285.3h2.2M715 285.3h-2.2M655.6 351.6v-1.3M655.6 219v1.3M583 291.93h1.3M715 291.93h-1.3M662.2 351.6v-1.3M662.2 219v1.3M583 298.56h1.3M715 298.56h-1.3M668.8 351.6v-1.3M668.8 219v1.3M583 305.19h1.3M715 305.19h-1.3M675.4 351.6v-1.3M675.4 219v1.3M583 311.82h1.3M715 311.82h-1.3M682 351.6v-2.2M682 219v2.2M583 318.45h2.2M715 318.45h-2.2M688.6 351.6v-1.3M688.6 219v1.3M583 325.08h1.3M715 325.08h-1.3M695.2 351.6v-1.3M695.2 219v1.3M583 331.71h1.3M715 331.71h-1.3M701.8 351.6v-1.3M701.8 219v1.3M583 338.34h1.3M715 338.34h-1.3M708.4 351.6v-1.3M708.4 219v1.3M583 344.97h1.3M715 344.97h-1.3M715 351.6v-2.2M715 219v2.2M583 351.6h2.2M715 351.6h-2.2" stroke="#333" stroke-width="0.7" fill="none"/>
<g fill="#000"><text x="566.86" y="224.22" font-size="8.4" textLength="13.54" lengthAdjust="spacingAndGlyphs">0.60</text><text x="566.86" y="255.17" font-size="8.4" textLength="13.54" lengthAdjust="spacingAndGlyphs">0.55</text><text x="566.86" y="288.32" font-size="8.4" textLength="13.54" lengthAdjust="spacingAndGlyphs">0.50</text><text x="566.86" y="321.47" font-size="8.4" textLength="13.54" lengthAdjust="spacingAndGlyphs">0.45</text><text x="566.86" y="352.52" font-size="8.4" textLength="13.54" lengthAdjust="spacingAndGlyphs">0.40</text><text x="574.2" y="362.52" font-size="8.4" textLength="17.61" lengthAdjust="spacingAndGlyphs">−0.10</text><text x="607.2" y="362.52" font-size="8.4" textLength="17.61" lengthAdjust="spacingAndGlyphs">−0.05</text><text x="642.23" y="362.52" font-size="8.4" textLength="13.54" lengthAdjust="spacingAndGlyphs">0.00</text><text x="675.23" y="362.52" font-size="8.4" textLength="13.54" lengthAdjust="spacingAndGlyphs">0.05</text><text x="708.23" y="362.52" font-size="8.4" textLength="13.54" lengthAdjust="spacingAndGlyphs">0.10</text><text x="723.6" y="224.22" font-size="8.4" textLength="9.67" lengthAdjust="spacingAndGlyphs">2.4</text><text x="723.6" y="240.97" font-size="8.4" textLength="9.67" lengthAdjust="spacingAndGlyphs">2.2</text><text x="723.6" y="259.91" font-size="8.4" textLength="9.67" lengthAdjust="spacingAndGlyphs">2.0</text><text x="723.6" y="278.85" font-size="8.4" textLength="9.67" lengthAdjust="spacingAndGlyphs">1.8</text><text x="723.6" y="297.8" font-size="8.4" textLength="9.67" lengthAdjust="spacingAndGlyphs">1.6</text><text x="723.6" y="316.74" font-size="8.4" textLength="9.67" lengthAdjust="spacingAndGlyphs">1.4</text><text x="723.6" y="335.68" font-size="8.4" textLength="9.67" lengthAdjust="spacingAndGlyphs">1.2</text><text x="723.6" y="352.32" font-size="8.4" textLength="9.67" lengthAdjust="spacingAndGlyphs">1.0</text></g>
<text x="649" y="370.6" font-size="7" text-anchor="middle" fill="#000">x/L<tspan font-size="4" dy="1.2">o</tspan></text>
<text transform="translate(560.8,285.3) rotate(-90)" font-size="7" text-anchor="middle" fill="#000">y/L<tspan font-size="4" dy="1.2">o</tspan></text>
<text x="650" y="215" font-size="9" text-anchor="middle" fill="#000">Mach Number</text>
<rect x="717" y="219" width="4.7" height="132.6" fill="url(#jet)"/>
<path d="M721.7 219h-1.2M721.7 237.94h-1.2M721.7 256.89h-1.2M721.7 275.83h-1.2M721.7 294.77h-1.2M721.7 313.71h-1.2M721.7 332.66h-1.2M721.7 351.6h-1.2" stroke="#222" stroke-width="0.6"/>
<g class="cap" font-family="'Liberation Serif', serif" font-size="14.7" fill="#111"><text class="cap" x="608.18" y="392.6">(h)</text><text class="cap" x="631.52" y="392.6" font-style="italic">t</text><text class="cap" x="639.6" y="392.6">=</text><text class="cap" x="651.2" y="392.6">28.4</text><text class="cap" x="677.12" y="392.6" font-style="italic">t</text><text class="cap" x="680.72" y="395.2" font-style="italic" font-size="10.3">A</text></g>
</g>
<g id="pi"><svg x="27.6" y="425.2" width="127.1" height="133.3" viewBox="27.6 425.2 127.1 133.3" preserveAspectRatio="none" overflow="hidden"><rect x="26.6" y="424.2" width="129.1" height="135.3" fill="#fbfbff"/><path d="M80 545C82.33 540.17 84.67 536.67 86 530C87.33 523.33 87 509.17 88 505C89 500.83 90.83 500.83 92 505C93.17 509.17 92.83 523.33 95 530C97.17 536.67 100.5 541.17 105 545C109.5 548.83 118.83 550.67 122 553C125.17 555.33 123.33 557 124 559L72 559C74.67 554.33 77.67 549.83 80 545Z" fill="#dcdcff" filter="url(#b2)" opacity="0.6"/><path d="M90.4 424C90.37 427.67 90.37 431.5 90.3 435C90.23 438.5 90.12 442.33 90 445C89.88 447.67 89.73 449 89.6 451" stroke="#ff2020" stroke-width="1.1" fill="none"/><path d="M89.6 451C88.8 452 87.92 452.77 87.2 454C86.48 455.23 85.8 456.57 85.3 458.4C84.8 460.23 84.28 462.73 84.2 465C84.12 467.27 84.47 470 84.8 472C85.13 474 85.87 475.17 86.2 477C86.53 478.83 86.83 479.17 86.8 483C86.77 486.83 86.37 494.6 86 500C85.63 505.4 85.17 509.43 84.6 515.4C84.03 521.37 84.13 531.2 82.6 535.8C81.07 540.4 77.97 540.78 75.4 543C72.83 545.22 69.58 546.9 67.2 549.1C64.82 551.3 62.47 554.55 61.1 556.2C59.73 557.85 59.7 558.07 59 559" stroke="#ff2020" stroke-width="0.8" fill="none" opacity="0.8"/><path d="M90.6 451C91.4 452 92.28 452.77 93 454C93.72 455.23 94.4 456.57 94.9 458.4C95.4 460.23 95.92 462.73 96 465C96.08 467.27 95.8 470 95.4 472C95 474 94.1 475.17 93.6 477C93.1 478.83 92.83 479.17 92.4 483C91.97 486.83 91.28 494.6 91 500C90.72 505.4 90.4 510.78 90.7 515.4C91 520.02 91.58 524.27 92.8 527.7C94.02 531.13 96.13 533.95 98 536C99.87 538.05 102 538.67 104 540" stroke="#ff2020" stroke-width="0.8" fill="none" opacity="0.8"/><path d="M88.5 450C86.67 452.67 84.17 455 83 458C81.83 461 81.5 464.33 81.5 468C81.5 471.67 82.5 476.33 83 480C83.5 483.67 84 486.67 84.5 490" stroke="#ff9090" stroke-width="0.6" fill="none" opacity="0.6"/><path d="M92 450C93.83 452.67 96.33 455 97.5 458C98.67 461 99 464.33 99 468C99 471.67 98 476.33 97.5 480C97 483.67 96.5 486.67 96 490" stroke="#ff9090" stroke-width="0.6" fill="none" opacity="0.6"/><ellipse cx="89.5" cy="468.6" rx="4.5" ry="5.5" fill="#ffb0b0" filter="url(#b1_5)"/><ellipse cx="89.5" cy="468.6" rx="1.3" ry="1.3" fill="#ff0000" filter="url(#b0_4)"/><ellipse cx="90.4" cy="454.7" rx="0.9" ry="1.1" fill="#7070ff" filter="url(#b0_3)"/><path d="M88.5 490C88.47 496.67 88.57 503.33 88.4 510C88.23 516.67 88.23 524.17 87.5 530C86.77 535.83 83.92 541.67 84 545C84.08 548.33 85.33 548.67 88 550C90.67 551.33 95 552 100 553C105 554 112 555 118 556" stroke="#9090ff" stroke-width="1.6" fill="none" opacity="0.6" filter="url(#b0_5)"/><path d="M100.9 540.9C103.97 541.6 107.38 541.8 110.1 543C112.82 544.2 115.33 546.4 117.2 548.1C119.07 549.8 120.27 551.38 121.3 553.2C122.33 555.02 122.7 557.07 123.4 559" stroke="#ff0000" stroke-width="1.5" fill="none"/><path d="M101 543C102.67 542.5 104.33 541.33 106 541.5C107.67 541.67 109.83 543.08 111 544C112.17 544.92 113.5 546.5 113 547C112.5 547.5 109.67 547.33 108 547C106.33 546.67 104.67 545.67 103 545" stroke="#ff9090" stroke-width="0.8" fill="none" opacity="0.8"/><path d="M74.4 558.5C75.27 557.83 75.98 556.83 77 556.5C78.02 556.17 79.53 556.17 80.5 556.5C81.47 556.83 82.03 557.83 82.8 558.5" stroke="#c03040" stroke-width="1.0" fill="none"/><path d="M65 553C67.33 551.33 69.5 549.17 72 548C74.5 546.83 77.33 546.67 80 546" stroke="#ff9090" stroke-width="0.6" fill="none" opacity="0.7"/><path d="M29.58 425.2C29.28 427.64 29.02 429.9 28.69 432.52C28.36 435.15 27.98 438.63 27.6 440.93C27.22 443.24 26.81 444.56 26.41 446.38M39.66 425.2C39.26 429.29 38.97 433.45 38.47 437.47C37.98 441.5 37.37 445.55 36.69 449.35C36.02 453.14 35.28 456.67 34.42 460.23C33.56 463.79 32.36 467.75 31.55 470.72C30.75 473.69 30.24 475.59 29.58 478.04C28.92 480.5 28.13 483.65 27.6 485.47C27.07 487.28 26.81 487.78 26.41 488.93M49.54 425.2C49.15 429.29 48.87 433.45 48.36 437.47C47.84 441.5 47.15 445.55 46.48 449.35C45.8 453.14 45.08 456.67 44.3 460.23C43.53 463.79 42.67 467.26 41.83 470.72C40.99 474.19 40.12 477.45 39.26 481.01C38.41 484.58 37.73 488.32 36.69 492.1C35.65 495.87 34.17 500.58 33.04 503.68C31.9 506.78 30.78 508.66 29.87 510.7C28.97 512.75 28.18 514.63 27.6 515.95C27.02 517.27 26.81 517.73 26.41 518.62M59.33 425.2C58.63 431.8 58.17 438.11 57.25 444.99C56.33 451.87 54.93 460.46 53.79 466.47C52.65 472.47 51.39 476.69 50.43 481.01C49.48 485.34 49.15 488.45 48.06 492.39C46.97 496.34 45.08 501.28 43.91 504.67C42.74 508.05 42.06 510.01 41.04 512.68C40.02 515.35 39.23 517.81 37.78 520.7C36.33 523.58 34.04 527.01 32.34 530C30.65 532.98 28.59 536.88 27.6 538.61C26.61 540.34 26.81 539.8 26.41 540.39M70.3 425.2C69.7 430.84 69.26 436.38 68.52 442.12C67.78 447.86 66.72 454.53 65.85 459.64C64.98 464.75 63.97 468.91 63.28 472.8C62.59 476.69 62.27 479.73 61.7 482.99C61.12 486.26 60.82 488.32 59.82 492.39C58.81 496.47 56.74 504.06 55.67 507.44C54.6 510.82 54.5 510.16 53.4 512.68C52.29 515.2 50.66 519.11 49.05 522.58C47.43 526.04 45.44 530.02 43.71 533.46C41.98 536.91 40.56 540.29 38.67 543.26C36.78 546.23 34.19 549.03 32.34 551.28C30.5 553.52 28.59 555.56 27.6 556.72C26.61 557.87 26.81 557.71 26.41 558.2M80.28 425.2C79.85 430.84 79.78 436.83 78.99 442.12C78.2 447.42 76.41 453.02 75.53 456.97C74.66 460.91 74.12 462.41 73.76 465.77C73.39 469.14 73.46 473.95 73.36 477.15C73.26 480.35 73.29 481.64 73.16 484.97C73.03 488.3 73.48 492.53 72.57 497.14C71.66 501.76 69.42 507.9 67.73 512.68C66.03 517.46 64.74 521.47 62.39 525.84C60.03 530.21 56.29 535 53.59 538.91C50.89 542.81 48.65 546.03 46.18 549.3C43.71 552.56 40.17 556.69 38.77 558.5C37.37 560.31 38.11 559.62 37.78 560.18M50.92 558.5C53 555.86 54.81 553.35 57.15 550.58C59.49 547.81 62.83 544.1 64.96 541.87C67.08 539.65 68.32 538.72 69.9 537.22C71.48 535.72 73.13 534.32 74.45 532.87C75.76 531.42 76.87 529.98 77.81 528.51C78.75 527.05 79.36 525.84 80.08 524.06C80.81 522.28 81.53 520.38 82.16 517.83C82.78 515.27 83.36 511.56 83.84 508.72C84.31 505.89 84.54 503.77 85.02 500.81C85.5 497.84 86.22 493.8 86.7 490.91C87.18 488.02 87.81 485.05 87.89 483.49C87.97 481.92 87.69 482.42 87.2 481.51C86.7 480.6 85.57 479.45 84.92 478.04C84.28 476.64 83.62 474.91 83.34 473.1C83.06 471.28 83.05 468.89 83.24 467.16C83.44 465.43 83.92 463.98 84.53 462.71C85.14 461.44 86.08 460.2 86.9 459.54C87.72 458.88 88.6 458.76 89.47 458.75C90.34 458.73 91.28 458.95 92.14 459.44C92.99 459.94 93.97 460.59 94.61 461.72C95.25 462.84 95.76 464.6 95.99 466.17C96.22 467.74 96.26 469.47 95.99 471.12C95.73 472.77 95.09 474.5 94.41 476.07C93.74 477.63 92.57 479.36 91.94 480.52C91.31 481.67 90.82 481.26 90.66 482.99C90.49 484.72 90.74 487.94 90.95 490.91C91.17 493.88 91.61 498 91.94 500.81C92.27 503.61 92.6 505.46 92.93 507.73C93.26 510.01 93.42 512.33 93.92 514.46C94.41 516.59 95 518.7 95.89 520.5C96.78 522.3 97.67 523.57 99.25 525.25C100.84 526.93 103.36 528.91 105.38 530.59C107.41 532.28 109.4 533.76 111.41 535.34C113.42 536.93 115.55 538.41 117.44 540.09C119.33 541.78 121.06 543.41 122.78 545.44C124.49 547.47 126.32 550.09 127.72 552.27C129.12 554.44 130.44 557.18 131.18 558.5C131.92 559.82 131.84 559.62 132.17 560.18M100.93 425.2C101.1 430.68 101.05 436.63 101.43 441.63C101.81 446.62 102.61 450.67 103.21 455.19C103.8 459.7 104.64 464.77 104.99 468.74C105.33 472.72 105.23 475.67 105.28 479.03C105.33 482.4 105.1 485.95 105.28 488.93C105.46 491.92 105.51 493.35 106.37 496.95C107.23 500.54 108.71 506.3 110.42 510.5C112.14 514.71 114.1 518.42 116.65 522.18C119.2 525.94 122.88 529.46 125.74 533.07C128.61 536.68 131.62 540.9 133.85 543.85C136.07 546.81 137.44 548.34 139.08 550.78C140.73 553.22 142.74 556.93 143.73 558.5C144.72 560.07 144.59 559.62 145.01 560.18M111.31 425.2C111.74 432.19 112 439.68 112.6 446.18C113.19 452.68 114.11 458.17 114.87 464.19C115.63 470.21 116.63 478.18 117.14 482.3C117.65 486.42 117.56 486.49 117.93 488.93C118.31 491.37 118.26 493.35 119.42 496.95C120.57 500.54 122.76 505.98 124.85 510.5C126.94 515.02 129.27 519.56 131.97 524.06C134.67 528.56 138.34 533.61 141.06 537.52C143.78 541.43 146 544.32 148.28 547.52C150.55 550.72 153.43 554.94 154.7 556.72C155.97 558.5 155.49 557.71 155.89 558.2M121.69 425.2C122.28 432.19 122.73 439.68 123.47 446.18C124.21 452.68 125.17 458.17 126.14 464.19C127.11 470.21 128.54 477.85 129.3 482.3C130.06 486.75 130.24 488.47 130.68 490.91C131.13 493.35 130.85 493.68 131.97 496.95C133.09 500.21 135.15 505.98 137.4 510.5C139.66 515.02 142.96 519.71 145.51 524.06C148.06 528.42 151.19 533.99 152.72 536.63C154.26 539.27 154.17 539.1 154.7 539.9C155.23 540.69 155.49 540.89 155.89 541.38M131.57 425.2C132.33 432.19 132.87 439.68 133.85 446.18C134.82 452.68 136.28 458.17 137.4 464.19C138.52 470.21 139.79 477.85 140.57 482.3C141.34 486.75 141.37 488.47 142.05 490.91C142.72 493.35 143.43 494.13 144.62 496.95C145.8 499.77 147.49 504.14 149.17 507.83C150.85 511.53 153.58 516.82 154.7 519.11C155.82 521.41 155.49 520.76 155.89 521.59M141.95 425.2C142.84 432.19 143.56 439.68 144.62 446.18C145.67 452.68 147.07 458.17 148.28 464.19C149.48 470.21 150.86 477.85 151.83 482.3C152.81 486.75 153.63 489.15 154.11 490.91C154.58 492.67 154.4 492.23 154.7 492.89C155 493.55 155.49 494.21 155.89 494.87M151.83 425.2C152.3 429.19 152.74 433.97 153.22 437.17C153.7 440.37 154.26 442.7 154.7 444.4C155.14 446.1 155.49 446.38 155.89 447.37" fill="none" stroke="#6c6c6c" stroke-width="1.05"/></svg>
<rect x="27.6" y="425.2" width="127.1" height="133.3" fill="none" stroke="#8a8a8a" stroke-width="1"/>
<path d="M27.6 558.5v-2.2M27.6 425.2v2.2M27.6 425.2h2.2M154.7 425.2h-2.2M33.95 558.5v-1.3M33.95 425.2v1.3M27.6 431.87h1.3M154.7 431.87h-1.3M40.31 558.5v-1.3M40.31 425.2v1.3M27.6 438.53h1.3M154.7 438.53h-1.3M46.66 558.5v-1.3M46.66 425.2v1.3M27.6 445.19h1.3M154.7 445.19h-1.3M53.02 558.5v-1.3M53.02 425.2v1.3M27.6 451.86h1.3M154.7 451.86h-1.3M59.38 558.5v-2.2M59.38 425.2v2.2M27.6 458.52h2.2M154.7 458.52h-2.2M65.73 558.5v-1.3M65.73 425.2v1.3M27.6 465.19h1.3M154.7 465.19h-1.3M72.09 558.5v-1.3M72.09 425.2v1.3M27.6 471.86h1.3M154.7 471.86h-1.3M78.44 558.5v-1.3M78.44 425.2v1.3M27.6 478.52h1.3M154.7 478.52h-1.3M84.79 558.5v-1.3M84.79 425.2v1.3M27.6 485.19h1.3M154.7 485.19h-1.3M91.15 558.5v-2.2M91.15 425.2v2.2M27.6 491.85h2.2M154.7 491.85h-2.2M97.5 558.5v-1.3M97.5 425.2v1.3M27.6 498.51h1.3M154.7 498.51h-1.3M103.86 558.5v-1.3M103.86 425.2v1.3M27.6 505.18h1.3M154.7 505.18h-1.3M110.22 558.5v-1.3M110.22 425.2v1.3M27.6 511.85h1.3M154.7 511.85h-1.3M116.57 558.5v-1.3M116.57 425.2v1.3M27.6 518.51h1.3M154.7 518.51h-1.3M122.93 558.5v-2.2M122.93 425.2v2.2M27.6 525.17h2.2M154.7 525.17h-2.2M129.28 558.5v-1.3M129.28 425.2v1.3M27.6 531.84h1.3M154.7 531.84h-1.3M135.63 558.5v-1.3M135.63 425.2v1.3M27.6 538.5h1.3M154.7 538.5h-1.3M141.99 558.5v-1.3M141.99 425.2v1.3M27.6 545.17h1.3M154.7 545.17h-1.3M148.34 558.5v-1.3M148.34 425.2v1.3M27.6 551.84h1.3M154.7 551.84h-1.3M154.7 558.5v-2.2M154.7 425.2v2.2M27.6 558.5h2.2M154.7 558.5h-2.2" stroke="#333" stroke-width="0.7" fill="none"/>
<g fill="#000"><text x="11.46" y="430.42" font-size="8.4" textLength="13.54" lengthAdjust="spacingAndGlyphs">0.60</text><text x="11.46" y="461.55" font-size="8.4" textLength="13.54" lengthAdjust="spacingAndGlyphs">0.55</text><text x="11.46" y="494.87" font-size="8.4" textLength="13.54" lengthAdjust="spacingAndGlyphs">0.50</text><text x="11.46" y="528.2" font-size="8.4" textLength="13.54" lengthAdjust="spacingAndGlyphs">0.45</text><text x="11.46" y="559.42" font-size="8.4" textLength="13.54" lengthAdjust="spacingAndGlyphs">0.40</text><text x="18.8" y="569.42" font-size="8.4" textLength="17.61" lengthAdjust="spacingAndGlyphs">−0.10</text><text x="50.57" y="569.42" font-size="8.4" textLength="17.61" lengthAdjust="spacingAndGlyphs">−0.05</text><text x="84.38" y="569.42" font-size="8.4" textLength="13.54" lengthAdjust="spacingAndGlyphs">0.00</text><text x="116.15" y="569.42" font-size="8.4" textLength="13.54" lengthAdjust="spacingAndGlyphs">0.05</text><text x="147.93" y="569.42" font-size="8.4" textLength="13.54" lengthAdjust="spacingAndGlyphs">0.10</text><text x="162.8" y="430.42" font-size="8.4" textLength="11.61" lengthAdjust="spacingAndGlyphs">600</text><text x="162.8" y="450.44" font-size="8.4" textLength="11.61" lengthAdjust="spacingAndGlyphs">400</text><text x="162.8" y="472.66" font-size="8.4" textLength="11.61" lengthAdjust="spacingAndGlyphs">200</text><text x="162.8" y="494.87" font-size="8.4" textLength="3.87" lengthAdjust="spacingAndGlyphs">0</text><text x="162.8" y="517.09" font-size="8.4" textLength="15.67" lengthAdjust="spacingAndGlyphs">−200</text><text x="162.8" y="539.31" font-size="8.4" textLength="15.67" lengthAdjust="spacingAndGlyphs">−400</text><text x="162.8" y="559.22" font-size="8.4" textLength="15.67" lengthAdjust="spacingAndGlyphs">−600</text></g>
<text x="91.15" y="577.5" font-size="7" text-anchor="middle" fill="#000">x/L<tspan font-size="4" dy="1.2">o</tspan></text>
<text transform="translate(5.4,491.85) rotate(-90)" font-size="7" text-anchor="middle" fill="#000">y/L<tspan font-size="4" dy="1.2">o</tspan></text>
<text x="92.15" y="421.2" font-size="9" text-anchor="middle" fill="#000">Jz</text>
<rect x="156.1" y="425.2" width="4.8" height="133.3" fill="url(#rwb)"/>
<path d="M160.9 425.2h-1.2M160.9 447.42h-1.2M160.9 469.63h-1.2M160.9 491.85h-1.2M160.9 514.07h-1.2M160.9 536.28h-1.2M160.9 558.5h-1.2" stroke="#222" stroke-width="0.6"/>
<g class="cap" font-family="'Liberation Serif', serif" font-size="14.7" fill="#111"><text class="cap" x="51.96" y="599.5">(i)</text><text class="cap" x="72.04" y="599.5" font-style="italic">t</text><text class="cap" x="80.12" y="599.5">=</text><text class="cap" x="91.71" y="599.5">27.8</text><text class="cap" x="117.64" y="599.5" font-style="italic">t</text><text class="cap" x="121.24" y="602.1" font-style="italic" font-size="10.3">A</text></g>
</g>
<g id="pj"><svg x="212.5" y="424.6" width="129.2" height="133.9" viewBox="212.5 424.6 129.2 133.9" preserveAspectRatio="none" overflow="hidden"><rect x="211.5" y="423.6" width="131.2" height="135.9" fill="#fbfbff"/><path d="M272.4 424.5C271.6 427 270.48 429.7 270 432C269.52 434.3 269.45 436.3 269.5 438.3C269.55 440.3 269.98 442.42 270.3 444C270.62 445.58 270.73 446.68 271.4 447.8C272.07 448.92 273.33 449.73 274.3 450.7" stroke="#ff2020" stroke-width="0.8" fill="none" opacity="0.75"/><path d="M279 424.5C279.6 427 280.47 429.7 280.8 432C281.13 434.3 281.13 436.3 281 438.3C280.87 440.3 280.48 442.42 280 444C279.52 445.58 278.9 446.68 278.1 447.8C277.3 448.92 276.17 449.73 275.2 450.7" stroke="#ff2020" stroke-width="0.8" fill="none" opacity="0.75"/><path d="M268 426C267.33 430 266 434.17 266 438C266 441.83 267 446 268 449C269 452 270.67 453.67 272 456" stroke="#ff9090" stroke-width="0.5" fill="none" opacity="0.6"/><path d="M283 426C283.67 430 285 434.17 285 438C285 441.83 284 446 283 449C282 452 280.33 453.67 279 456" stroke="#ff9090" stroke-width="0.5" fill="none" opacity="0.6"/><ellipse cx="275.2" cy="437.6" rx="1.4" ry="1.4" fill="#ff0000" filter="url(#b0_3)"/><path d="M274.8 450.7C274.8 454.13 274.8 457.78 274.8 461C274.8 464.22 274.8 467.28 274.8 470C274.8 472.72 274.8 474.87 274.8 477.3" stroke="#ff2020" stroke-width="1.0" fill="none" opacity="0.9"/><ellipse cx="274.8" cy="461.1" rx="0.9" ry="1.2" fill="#ff0000" filter="url(#b0_3)"/><path d="M274.5 477.5C274.1 478.67 273.97 479.42 273.3 481C272.63 482.58 271.28 485 270.5 487C269.72 489 269.1 490.83 268.6 493C268.1 495.17 267.6 497.17 267.5 500C267.4 502.83 267.42 507.17 268 510C268.58 512.83 270 514.67 271 517" stroke="#ff2020" stroke-width="0.7" fill="none" opacity="0.7"/><path d="M275.2 477.5C275.53 478.67 275.65 479.42 276.2 481C276.75 482.58 277.87 485 278.5 487C279.13 489 279.42 490.83 280 493C280.58 495.17 281.58 497.17 282 500C282.42 502.83 282.83 507.17 282.5 510C282.17 512.83 280.83 514.67 280 517" stroke="#ff2020" stroke-width="0.7" fill="none" opacity="0.7"/><ellipse cx="275.4" cy="503.6" rx="6" ry="7" fill="#ffc0c0" filter="url(#b2)"/><ellipse cx="275.4" cy="503.6" rx="1.2" ry="1.2" fill="#ff2020" filter="url(#b0_5)"/><path d="M244.4 509C248.37 510.3 251.58 511.72 256.3 512.9C261.02 514.08 267.23 515.03 272.7 516.1" stroke="#5050ff" stroke-width="1.0" fill="none" opacity="0.8"/><path d="M281.4 517.2C283.93 515.93 286.28 514.58 289 513.4C291.72 512.22 294.8 511.2 297.7 510.1" stroke="#5050ff" stroke-width="1.0" fill="none" opacity="0.8"/><path d="M277 520.5C277 524.83 277.37 529.15 277 533.5C276.63 537.85 275.52 543.52 274.8 546.6C274.08 549.68 273.4 550.2 272.7 552" stroke="#4040ff" stroke-width="1.2" fill="none" opacity="0.8"/><path d="M261.8 551C266.13 551.5 270.82 553.23 274.8 552.5C278.78 551.77 282.07 547.03 285.7 546.6C289.33 546.17 292.6 548.45 296.6 549.9C300.6 551.35 305.33 553.5 309.7 555.3" stroke="#8080ff" stroke-width="2.0" fill="none" opacity="0.7" filter="url(#b0_5)"/><ellipse cx="293.3" cy="537.9" rx="6" ry="4.2" transform="rotate(30 293.3 537.9)" fill="none" stroke="#ff5050" stroke-width="0.8" opacity="0.8"/><ellipse cx="293.8" cy="537.5" rx="3.2" ry="2.2" transform="rotate(30 293.8 537.5)" fill="none" stroke="#ff8080" stroke-width="0.7" opacity="0.8"/><path d="M298 541C299 541.77 299.67 541.97 301 543.3C302.33 544.63 304.2 546.82 306 549C307.8 551.18 310.63 554.73 311.8 556.4C312.97 558.07 312.6 558.13 313 559" stroke="#ff0000" stroke-width="1.4" fill="none"/><path d="M252 556C255.33 553.67 258.67 550.67 262 549C265.33 547.33 268.67 547 272 546" stroke="#ff9090" stroke-width="0.7" fill="none" opacity="0.7"/><path d="M262 558C264 556.33 265.67 554.5 268 553C270.33 551.5 273.33 550.33 276 549" stroke="#ff9090" stroke-width="0.6" fill="none" opacity="0.6"/><path d="M214.82 424.6C214.31 428.36 213.74 433.46 213.31 435.87C212.87 438.28 212.62 438.11 212.2 439.06C211.78 440 211.26 440.72 210.79 441.55M225.1 424.6C224.36 431.28 223.99 438.36 222.88 444.64C221.77 450.92 219.92 456.4 218.45 462.29C216.97 468.17 215.05 475.96 214.01 479.93C212.97 483.91 212.74 484.54 212.2 486.12C211.66 487.69 211.26 488.31 210.79 489.41M234.87 424.6C234.13 431.28 233.7 438.36 232.66 444.64C231.61 450.92 229.95 456.4 228.62 462.29C227.3 468.17 225.87 474.95 224.69 479.93C223.52 484.92 222.46 488.73 221.57 492.2C220.68 495.67 220.46 497.43 219.35 500.77C218.24 504.11 216.11 509.43 214.92 512.24C213.73 515.05 212.89 516.28 212.2 517.62C211.51 518.97 211.26 519.42 210.79 520.31M245.15 424.6C244.41 431.28 243.83 438.36 242.94 444.64C242.05 450.92 240.92 456.85 239.81 462.29C238.7 467.72 237.39 472.26 236.28 477.24C235.18 482.23 233.97 488.28 233.16 492.2C232.35 496.12 232.56 496.68 231.45 500.77C230.34 504.86 228.37 512.01 226.51 516.72C224.64 521.44 222.49 525.25 220.26 529.09C218.03 532.93 214.45 537.73 213.1 539.76C211.76 541.78 212.58 540.67 212.2 541.25C211.81 541.83 211.26 542.58 210.79 543.25M254.93 424.6C254.49 431.28 254.14 438.36 253.62 444.64C253.1 450.92 252.63 456.85 251.8 462.29C250.98 467.72 249.86 472.26 248.68 477.24C247.5 482.23 245.61 489.02 244.75 492.2C243.89 495.37 244.03 493.39 243.54 496.29C243.05 499.18 243.02 505.11 241.83 509.55C240.63 513.98 238.79 518.32 236.38 522.91C233.98 527.49 230.41 532.63 227.42 537.06C224.43 541.5 220.83 546.12 218.45 549.53C216.06 552.93 214.21 555.81 213.1 557.5C212 559.2 212.23 558.97 211.79 559.7M265.21 424.6C264.77 428.36 264.2 431.8 263.9 435.87C263.6 439.94 263.39 445.07 263.39 449.03C263.39 452.98 263.97 455.92 263.9 459.6C263.83 463.27 263.66 467.24 262.99 471.06C262.32 474.88 261.01 479 259.87 482.53C258.72 486.05 256.94 489.22 256.14 492.2C255.33 495.17 255.18 496.44 255.03 500.37C254.88 504.31 255.65 511.77 255.23 515.83C254.81 519.88 254.16 521.59 252.51 524.7C250.86 527.81 248.34 531.07 245.35 534.47C242.36 537.88 238.01 541.14 234.57 545.14C231.13 549.14 226.47 555.99 224.69 558.5C222.91 561.01 224.16 559.63 223.89 560.19M238.2 558.5C241.19 554.91 244.18 550.56 247.17 547.73C250.16 544.91 252.85 543.61 256.14 541.55C259.43 539.49 264.23 537.3 266.92 535.37C269.61 533.44 271.07 531.76 272.26 529.99C273.46 528.21 273.74 526.68 274.08 524.7C274.41 522.72 274.28 519.6 274.28 518.12C274.28 516.64 275 517.11 274.08 515.83C273.15 514.55 269.93 512.52 268.74 510.44C267.54 508.37 266.92 505.57 266.92 503.36C266.92 501.15 267.24 498.81 268.74 497.18C270.23 495.55 273.81 493.43 275.89 493.59C277.97 493.76 279.82 496.22 281.23 498.18C282.64 500.14 284.05 503.13 284.36 505.36C284.66 507.59 283.77 509.68 283.05 511.54C282.32 513.4 280.48 515.46 280.02 516.53C279.57 517.59 279.22 517.11 280.32 517.92C281.43 518.74 284.41 520.23 286.67 521.41C288.94 522.59 291.68 523.5 293.93 525C296.18 526.5 298.23 528.29 300.18 530.38C302.13 532.48 303.81 535.02 305.62 537.56C307.43 540.1 309.1 542.81 311.06 545.64C313.03 548.46 315.9 552.37 317.41 554.51C318.92 556.66 319.51 557.55 320.13 558.5C320.75 559.45 320.8 559.63 321.14 560.19M284.86 424.6C285.46 428.42 286.3 432.68 286.67 436.07C287.04 439.46 287.23 441.22 287.08 444.94C286.93 448.66 285.83 453.91 285.77 458.4C285.7 462.89 285.92 468.12 286.67 471.86C287.43 475.6 289.03 477.41 290.3 480.83C291.58 484.26 293.28 489.81 294.33 492.4C295.39 494.99 295.68 494.23 296.65 496.39C297.63 498.55 299.29 502.68 300.18 505.36C301.07 508.03 301.19 510.44 301.99 512.44C302.8 514.43 303.96 515.53 305.02 517.32C306.07 519.12 306.58 520.13 308.34 523.21C310.11 526.28 313.18 531.58 315.6 535.77C318.02 539.96 320.74 544.54 322.85 548.33C324.97 552.12 327.24 556.52 328.3 558.5C329.35 560.48 328.9 559.63 329.2 560.19M296.15 424.6C296.45 429.92 296.68 434.92 297.05 440.55C297.42 446.19 297.54 452.43 298.36 458.4C299.19 464.36 300.78 471.51 301.99 476.35C303.2 481.18 304.41 484.07 305.62 487.41C306.83 490.75 308.04 493.39 309.25 496.39C310.46 499.38 311.82 502.98 312.88 505.36C313.94 507.73 314.72 508.82 315.6 510.64C316.47 512.47 317.21 514.23 318.12 516.33C319.02 518.42 319.34 520.11 321.04 523.21C322.74 526.3 325.88 530.98 328.3 534.87C330.71 538.76 333.32 543.01 335.55 546.54C337.79 550.06 340.49 554.06 341.7 556.01C342.91 557.95 342.44 557.47 342.81 558.2M306.12 424.6C306.56 429.92 306.83 434.92 307.43 440.55C308.04 446.19 308.69 452.43 309.75 458.4C310.81 464.36 312.36 471.51 313.78 476.35C315.21 481.18 316.81 484.07 318.32 487.41C319.83 490.75 321.34 493.39 322.85 496.39C324.37 499.38 326.16 502.7 327.39 505.36C328.62 508.02 329.15 509.36 330.21 512.34C331.27 515.31 332.24 519.9 333.74 523.21C335.23 526.51 337.85 530 339.18 532.18C340.51 534.36 341.1 535.25 341.7 536.27C342.3 537.28 342.44 537.6 342.81 538.26M316.5 424.6C317.11 429.92 317.5 434.92 318.32 440.55C319.14 446.19 320.23 452.43 321.44 458.4C322.65 464.36 324.13 471.51 325.58 476.35C327.02 481.18 328.6 484.07 330.11 487.41C331.62 490.75 333.13 492.95 334.65 496.39C336.16 499.83 338 505.31 339.18 508.05C340.36 510.79 341.1 511.62 341.7 512.84C342.3 514.05 342.44 514.5 342.81 515.33M326.48 424.6C327.39 429.92 328.23 434.92 329.2 440.55C330.18 446.19 331.12 452.43 332.33 458.4C333.54 464.36 335.25 471.51 336.46 476.35C337.67 481.18 338.71 484.82 339.58 487.41C340.46 490 341.16 490.74 341.7 491.9C342.24 493.06 342.44 493.56 342.81 494.39M336.86 424.6C337.47 428.42 337.99 431.93 338.68 436.07C339.37 440.2 340.49 446.68 340.99 449.43C341.5 452.17 341.4 451.5 341.7 452.52C342 453.53 342.44 454.51 342.81 455.51" fill="none" stroke="#6c6c6c" stroke-width="1.05"/><circle cx="275.49" cy="438.06" r="2.8" fill="none" stroke="#6c6c6c" stroke-width="0.9"/></svg>
<rect x="212.5" y="424.6" width="129.2" height="133.9" fill="none" stroke="#8a8a8a" stroke-width="1"/>
<path d="M212.5 558.5v-2.2M212.5 424.6v2.2M212.5 424.6h2.2M341.7 424.6h-2.2M218.96 558.5v-1.3M218.96 424.6v1.3M212.5 431.3h1.3M341.7 431.3h-1.3M225.42 558.5v-1.3M225.42 424.6v1.3M212.5 437.99h1.3M341.7 437.99h-1.3M231.88 558.5v-1.3M231.88 424.6v1.3M212.5 444.69h1.3M341.7 444.69h-1.3M238.34 558.5v-1.3M238.34 424.6v1.3M212.5 451.38h1.3M341.7 451.38h-1.3M244.8 558.5v-2.2M244.8 424.6v2.2M212.5 458.08h2.2M341.7 458.08h-2.2M251.26 558.5v-1.3M251.26 424.6v1.3M212.5 464.77h1.3M341.7 464.77h-1.3M257.72 558.5v-1.3M257.72 424.6v1.3M212.5 471.47h1.3M341.7 471.47h-1.3M264.18 558.5v-1.3M264.18 424.6v1.3M212.5 478.16h1.3M341.7 478.16h-1.3M270.64 558.5v-1.3M270.64 424.6v1.3M212.5 484.86h1.3M341.7 484.86h-1.3M277.1 558.5v-2.2M277.1 424.6v2.2M212.5 491.55h2.2M341.7 491.55h-2.2M283.56 558.5v-1.3M283.56 424.6v1.3M212.5 498.25h1.3M341.7 498.25h-1.3M290.02 558.5v-1.3M290.02 424.6v1.3M212.5 504.94h1.3M341.7 504.94h-1.3M296.48 558.5v-1.3M296.48 424.6v1.3M212.5 511.63h1.3M341.7 511.63h-1.3M302.94 558.5v-1.3M302.94 424.6v1.3M212.5 518.33h1.3M341.7 518.33h-1.3M309.4 558.5v-2.2M309.4 424.6v2.2M212.5 525.02h2.2M341.7 525.02h-2.2M315.86 558.5v-1.3M315.86 424.6v1.3M212.5 531.72h1.3M341.7 531.72h-1.3M322.32 558.5v-1.3M322.32 424.6v1.3M212.5 538.41h1.3M341.7 538.41h-1.3M328.78 558.5v-1.3M328.78 424.6v1.3M212.5 545.11h1.3M341.7 545.11h-1.3M335.24 558.5v-1.3M335.24 424.6v1.3M212.5 551.8h1.3M341.7 551.8h-1.3M341.7 558.5v-2.2M341.7 424.6v2.2M212.5 558.5h2.2M341.7 558.5h-2.2" stroke="#333" stroke-width="0.7" fill="none"/>
<g fill="#000"><text x="196.36" y="429.82" font-size="8.4" textLength="13.54" lengthAdjust="spacingAndGlyphs">0.60</text><text x="196.36" y="461.1" font-size="8.4" textLength="13.54" lengthAdjust="spacingAndGlyphs">0.55</text><text x="196.36" y="494.57" font-size="8.4" textLength="13.54" lengthAdjust="spacingAndGlyphs">0.50</text><text x="196.36" y="528.05" font-size="8.4" textLength="13.54" lengthAdjust="spacingAndGlyphs">0.45</text><text x="196.36" y="559.42" font-size="8.4" textLength="13.54" lengthAdjust="spacingAndGlyphs">0.40</text><text x="203.7" y="569.42" font-size="8.4" textLength="17.61" lengthAdjust="spacingAndGlyphs">−0.10</text><text x="236" y="569.42" font-size="8.4" textLength="17.61" lengthAdjust="spacingAndGlyphs">−0.05</text><text x="270.33" y="569.42" font-size="8.4" textLength="13.54" lengthAdjust="spacingAndGlyphs">0.00</text><text x="302.63" y="569.42" font-size="8.4" textLength="13.54" lengthAdjust="spacingAndGlyphs">0.05</text><text x="334.93" y="569.42" font-size="8.4" textLength="13.54" lengthAdjust="spacingAndGlyphs">0.10</text><text x="349.6" y="429.82" font-size="8.4" textLength="11.61" lengthAdjust="spacingAndGlyphs">600</text><text x="349.6" y="449.94" font-size="8.4" textLength="11.61" lengthAdjust="spacingAndGlyphs">400</text><text x="349.6" y="472.26" font-size="8.4" textLength="11.61" lengthAdjust="spacingAndGlyphs">200</text><text x="349.6" y="494.57" font-size="8.4" textLength="3.87" lengthAdjust="spacingAndGlyphs">0</text><text x="349.6" y="516.89" font-size="8.4" textLength="15.67" lengthAdjust="spacingAndGlyphs">−200</text><text x="349.6" y="539.21" font-size="8.4" textLength="15.67" lengthAdjust="spacingAndGlyphs">−400</text><text x="349.6" y="559.22" font-size="8.4" textLength="15.67" lengthAdjust="spacingAndGlyphs">−600</text></g>
<text x="277.1" y="577.5" font-size="7" text-anchor="middle" fill="#000">x/L<tspan font-size="4" dy="1.2">o</tspan></text>
<text transform="translate(190.3,491.55) rotate(-90)" font-size="7" text-anchor="middle" fill="#000">y/L<tspan font-size="4" dy="1.2">o</tspan></text>
<text x="278.1" y="420.6" font-size="9" text-anchor="middle" fill="#000">Jz</text>
<rect x="343.1" y="424.6" width="4.6" height="133.9" fill="url(#rwb)"/>
<path d="M347.7 424.6h-1.2M347.7 446.92h-1.2M347.7 469.23h-1.2M347.7 491.55h-1.2M347.7 513.87h-1.2M347.7 536.18h-1.2M347.7 558.5h-1.2" stroke="#222" stroke-width="0.6"/>
<g class="cap" font-family="'Liberation Serif', serif" font-size="14.7" fill="#111"><text class="cap" x="243.43" y="599.5">(j)</text><text class="cap" x="263.5" y="599.5" font-style="italic">t</text><text class="cap" x="271.58" y="599.5">=</text><text class="cap" x="283.17" y="599.5">28</text><text class="cap" x="298.07" y="599.5" font-style="italic">t</text><text class="cap" x="301.67" y="602.1" font-style="italic" font-size="10.3">A</text></g>
</g>
<g id="pk"><svg x="397.4" y="424.8" width="128.2" height="133.7" viewBox="397.4 424.8 128.2 133.7" preserveAspectRatio="none" overflow="hidden"><rect x="396.4" y="423.8" width="130.2" height="135.7" fill="#fbfbff"/><path d="M457.1 424.5C456.9 428 456.75 431.18 456.5 435C456.25 438.82 456.18 443.23 455.6 447.4C455.02 451.57 453.62 455.8 453 460C452.38 464.2 451.73 469.27 451.9 472.6C452.07 475.93 452.65 477.77 454 480C455.35 482.23 458 484 460 486" stroke="#ff2020" stroke-width="0.8" fill="none" opacity="0.75"/><path d="M463 424.5C463.27 428 463.55 431.18 463.8 435C464.05 438.82 463.97 443.23 464.5 447.4C465.03 451.57 466.38 455.8 467 460C467.62 464.2 468.37 469.27 468.2 472.6C468.03 475.93 467.12 477.77 466 480C464.88 482.23 463 484 461.5 486" stroke="#ff2020" stroke-width="0.8" fill="none" opacity="0.75"/><path d="M459 424.5C459.17 429.67 459.33 435.42 459.5 440C459.67 444.58 459.83 448 460 452" stroke="#ff2020" stroke-width="0.7" fill="none" opacity="0.5"/><ellipse cx="460" cy="473.8" rx="4" ry="4" fill="#ffd0d0" filter="url(#b1)"/><ellipse cx="460" cy="473.8" rx="1.8" ry="1.8" fill="#ff0000" filter="url(#b0_3)"/><path d="M460.8 486C461.03 489 461.3 491.83 461.5 495C461.7 498.17 461.75 501.8 462 505C462.25 508.2 462.67 511.13 463 514.2" stroke="#ff2020" stroke-width="0.9" fill="none" opacity="0.8"/><path d="M463 514.2C461.33 516.8 460.17 519.37 458 522C455.83 524.63 452.63 527.6 450 530C447.37 532.4 445.2 534.07 442.2 536.4C439.2 538.73 435.4 541.47 432 544" stroke="#ff2020" stroke-width="0.7" fill="none" opacity="0.6"/><path d="M463 514.2C464.33 515.13 465.77 516.27 467 517C468.23 517.73 469.27 518.07 470.4 518.6" stroke="#ff2020" stroke-width="0.7" fill="none" opacity="0.6"/><path d="M440 487C443.33 486.17 446.67 485 450 484.5C453.33 484 456.67 484 460 484C463.33 484 466.67 484 470 484.5C473.33 485 476.67 486.17 480 487" stroke="#a0a0ff" stroke-width="1.2" fill="none" opacity="0.5"/><path d="M445.2 542.3C447.13 542.7 449.02 543.5 451 543.5C452.98 543.5 455.1 542.97 457.1 542.3C459.1 541.63 461.27 540.48 463 539.5C464.73 538.52 466 537.43 467.5 536.4" stroke="#1010e0" stroke-width="1.5" fill="none" opacity="0.9"/><path d="M446 540.5C448 540.67 450 541.08 452 541C454 540.92 456 540.58 458 540C460 539.42 462 538.33 464 537.5" stroke="#e01030" stroke-width="0.9" fill="none" opacity="0.9"/><ellipse cx="458.6" cy="536.4" rx="3.5" ry="2.8" fill="#ff6060" filter="url(#b1)"/><ellipse cx="479.3" cy="536.4" rx="4" ry="3.5" fill="#ff7070" filter="url(#b1_2)"/><ellipse cx="479.5" cy="536.5" rx="5.5" ry="4.5" fill="none" stroke="#ff4040" stroke-width="0.7" opacity="0.7"/><path d="M471.9 540.9C473.93 541.6 475.98 542.32 478 543C480.02 543.68 482.3 544.37 484 545C485.7 545.63 486.8 546.2 488.2 546.8" stroke="#3030ff" stroke-width="1.3" fill="none" opacity="0.8"/><path d="M445 545C450 545.33 455 545.67 460 546C465 546.33 470 546.67 475 547C480 547.33 485 547.67 490 548" stroke="#9090ff" stroke-width="1.8" fill="none" opacity="0.6" filter="url(#b0_5)"/><path d="M443 537C443.67 535.67 444 533.67 445 533C446 532.33 448.5 532.17 449 533C449.5 533.83 448.33 536.33 448 538" stroke="#ff4040" stroke-width="0.8" fill="none" opacity="0.7"/><ellipse cx="485.8" cy="545" rx="1" ry="1.3" fill="#d02030" filter="url(#b0_3)"/><path d="M402.28 424.8C401.59 428.51 400.91 432.22 400.19 435.93C399.48 439.64 398.58 444.58 398 447.07C397.42 449.55 397.13 449.59 396.7 450.84M412.25 424.8C411.39 429.94 410.68 434.77 409.66 440.21C408.65 445.64 407.47 451.67 406.17 457.4C404.88 463.14 403.25 469.3 401.89 474.6C400.52 479.9 398.86 486.22 398 489.21C397.13 492.21 397.13 491.47 396.7 492.59M422.62 424.8C421.76 429.94 421.04 434.77 420.03 440.21C419.02 445.64 417.7 451.67 416.54 457.4C415.38 463.14 414.28 468.87 413.05 474.6C411.82 480.33 410.26 487.71 409.16 491.8C408.07 495.89 407.67 496.31 406.47 499.16C405.28 502 403.31 506.1 401.99 508.9C400.66 511.7 399.38 514.36 398.5 515.95C397.62 517.55 397.3 517.61 396.7 518.44M432.89 424.8C432.32 429.94 431.91 434.77 431.19 440.21C430.48 445.64 429.53 451.67 428.6 457.4C427.67 463.14 426.76 468.87 425.61 474.6C424.47 480.33 422.7 487.71 421.72 491.8C420.74 495.89 421.09 495.43 419.73 499.16C418.37 502.88 415.91 509.46 413.55 514.17C411.19 518.87 408.08 523.41 405.57 527.39C403.07 531.36 399.98 535.87 398.5 538.02C397.02 540.18 397.3 539.55 396.7 540.31M444.25 424.8C443.69 430.07 443.29 435.04 442.56 440.61C441.83 446.17 440.83 453.08 439.87 458.2C438.9 463.32 437.51 466.93 436.78 471.32C436.05 475.71 435.76 481.16 435.48 484.54C435.2 487.92 435.33 489.61 435.08 491.6C434.83 493.59 434.92 493.74 433.99 496.47C433.06 499.2 431.43 503.88 429.5 508C427.57 512.13 424.93 516.95 422.42 521.22C419.91 525.5 417.11 529.67 414.45 533.65C411.79 537.62 409.13 541.25 406.47 545.08C403.81 548.91 400.12 554.26 398.5 556.61C396.87 558.96 397.3 558.33 396.7 559.2M454.92 424.8C454.32 430.07 453.94 435.6 453.13 440.61C452.31 445.61 451.03 450.13 450.04 454.82C449.04 459.51 447.63 464.51 447.14 468.74C446.66 472.96 446.83 476.69 447.14 480.17C447.46 483.65 448.77 486.88 449.04 489.61C449.3 492.35 449.19 493.95 448.74 496.57C448.29 499.19 447.63 502.39 446.35 505.32C445.07 508.25 443.12 511.51 441.06 514.17C439 516.82 436.35 518.72 433.99 521.22C431.63 523.72 428.65 526.82 426.91 529.18C425.16 531.53 424.27 533.48 423.52 535.34C422.77 537.19 423.2 538.69 422.42 540.31C421.64 541.93 420.46 543.24 418.83 545.08C417.2 546.92 414.26 549.11 412.65 551.34C411.04 553.58 409.91 557.03 409.16 558.5C408.42 559.97 408.5 559.63 408.17 560.19M421.52 558.5C423.58 556.11 425.63 553.71 427.71 551.34C429.78 548.97 432.64 546.06 433.99 544.29C435.33 542.51 435.18 542.03 435.78 540.71C436.38 539.38 436.84 537.48 437.57 536.33C438.31 535.19 439.12 534.25 440.17 533.85C441.21 533.45 442.91 533.47 443.86 533.95C444.8 534.43 445.57 535.5 445.85 536.73C446.13 537.96 445.35 540.46 445.55 541.3C445.75 542.15 446.51 542.16 447.05 541.8C447.58 541.44 448.06 540.09 448.74 539.12C449.42 538.14 450.47 537.01 451.13 535.94C451.8 534.86 451.78 533.6 452.73 532.65C453.67 531.71 455.04 530.95 456.81 530.27C458.59 529.59 461.22 529.13 463.39 528.58C465.57 528.03 467.98 527.67 469.87 526.99C471.77 526.31 473.33 525.5 474.76 524.5C476.19 523.51 477.23 521.22 478.45 521.02C479.66 520.83 480.71 522.33 482.04 523.31C483.37 524.29 485.09 525.55 486.42 526.89C487.75 528.23 489.11 530.02 490.01 531.36C490.91 532.7 491.21 533.3 491.81 534.94C492.4 536.58 492.7 538.97 493.6 541.2C494.5 543.44 495.84 545.99 497.19 548.36C498.53 550.73 500.63 553.73 501.67 555.42C502.72 557.11 503.02 557.7 503.47 558.5C503.92 559.3 504.07 559.63 504.37 560.19M464.99 424.8C465.89 430.17 466.63 436 467.68 440.9C468.73 445.81 470.07 449.77 471.27 454.22C472.47 458.68 474.04 463.17 474.86 467.64C475.67 472.12 475.79 476.9 476.15 481.06C476.52 485.22 476.67 490.01 477.05 492.59C477.43 495.18 477.48 494.71 478.45 496.57C479.41 498.43 481.06 501.36 482.83 503.73C484.61 506.1 487.17 508.57 489.11 510.79C491.06 513.01 493 514.96 494.5 517.05C495.99 519.14 497.19 521.67 498.09 523.31C498.98 524.95 499.28 525.4 499.88 526.89C500.48 528.38 500.78 530.17 501.67 532.26C502.57 534.34 504.07 537.03 505.26 539.41C506.46 541.8 507.51 544.19 508.85 546.57C510.2 548.96 512.14 551.74 513.34 553.73C514.53 555.72 515.45 557.42 516.03 558.5C516.61 559.58 516.56 559.63 516.83 560.19M476.65 424.8C477.55 430.17 478.31 435.25 479.34 440.9C480.37 446.55 481.5 452.75 482.83 458.7C484.16 464.64 485.97 471.27 487.32 476.59C488.67 481.91 489.86 487.28 490.91 490.61C491.95 493.94 492.4 494.09 493.6 496.57C494.8 499.06 496.44 502.55 498.09 505.52C499.73 508.48 501.67 511.4 503.47 514.36C505.26 517.33 507.06 520.33 508.85 523.31C510.65 526.29 512.74 529.57 514.24 532.26C515.73 534.94 516.33 536.73 517.82 539.41C519.32 542.1 521.91 546.22 523.21 548.36C524.5 550.5 525 551.26 525.6 552.24C526.2 553.21 526.4 553.56 526.8 554.23M487.32 424.8C488.22 430.17 488.88 435.25 490.01 440.9C491.14 446.55 492.6 452.75 494.1 458.7C495.59 464.64 497.52 471.27 498.98 476.59C500.45 481.91 501.67 487.28 502.87 490.61C504.07 493.94 504.72 494.09 506.16 496.57C507.61 499.06 509.6 502.25 511.54 505.52C513.49 508.78 515.88 512.74 517.82 516.15C519.77 519.57 521.91 523.63 523.21 525.99C524.5 528.36 525 529.31 525.6 530.37C526.2 531.43 526.4 531.69 526.8 532.36M498.58 424.8C499.48 430.17 500.16 435.25 501.28 440.9C502.39 446.55 503.78 452.75 505.26 458.7C506.74 464.64 508.64 471.27 510.15 476.59C511.66 481.91 513.06 487.28 514.34 490.61C515.61 493.94 516.35 493.79 517.82 496.57C519.3 499.35 521.91 504.82 523.21 507.31C524.5 509.79 525 510.45 525.6 511.48C526.2 512.51 526.4 512.81 526.8 513.47M509.25 424.8C510.31 430.17 511.24 435.25 512.44 440.9C513.64 446.55 514.93 452.75 516.43 458.7C517.92 464.64 519.88 471.77 521.41 476.59C522.94 481.41 524.7 485.29 525.6 487.62C526.5 489.96 526.4 489.61 526.8 490.61M519.62 424.8C520.52 430.17 521.31 436.3 522.31 440.9C523.31 445.51 524.85 450.12 525.6 452.43C526.35 454.75 526.4 454.03 526.8 454.82" fill="none" stroke="#6c6c6c" stroke-width="1.05"/><circle cx="461.4" cy="473.91" r="2.7" fill="none" stroke="#6c6c6c" stroke-width="0.9"/></svg>
<rect x="397.4" y="424.8" width="128.2" height="133.7" fill="none" stroke="#8a8a8a" stroke-width="1"/>
<path d="M397.4 558.5v-2.2M397.4 424.8v2.2M397.4 424.8h2.2M525.6 424.8h-2.2M403.81 558.5v-1.3M403.81 424.8v1.3M397.4 431.49h1.3M525.6 431.49h-1.3M410.22 558.5v-1.3M410.22 424.8v1.3M397.4 438.17h1.3M525.6 438.17h-1.3M416.63 558.5v-1.3M416.63 424.8v1.3M397.4 444.86h1.3M525.6 444.86h-1.3M423.04 558.5v-1.3M423.04 424.8v1.3M397.4 451.54h1.3M525.6 451.54h-1.3M429.45 558.5v-2.2M429.45 424.8v2.2M397.4 458.23h2.2M525.6 458.23h-2.2M435.86 558.5v-1.3M435.86 424.8v1.3M397.4 464.91h1.3M525.6 464.91h-1.3M442.27 558.5v-1.3M442.27 424.8v1.3M397.4 471.6h1.3M525.6 471.6h-1.3M448.68 558.5v-1.3M448.68 424.8v1.3M397.4 478.28h1.3M525.6 478.28h-1.3M455.09 558.5v-1.3M455.09 424.8v1.3M397.4 484.97h1.3M525.6 484.97h-1.3M461.5 558.5v-2.2M461.5 424.8v2.2M397.4 491.65h2.2M525.6 491.65h-2.2M467.91 558.5v-1.3M467.91 424.8v1.3M397.4 498.34h1.3M525.6 498.34h-1.3M474.32 558.5v-1.3M474.32 424.8v1.3M397.4 505.02h1.3M525.6 505.02h-1.3M480.73 558.5v-1.3M480.73 424.8v1.3M397.4 511.71h1.3M525.6 511.71h-1.3M487.14 558.5v-1.3M487.14 424.8v1.3M397.4 518.39h1.3M525.6 518.39h-1.3M493.55 558.5v-2.2M493.55 424.8v2.2M397.4 525.08h2.2M525.6 525.08h-2.2M499.96 558.5v-1.3M499.96 424.8v1.3M397.4 531.76h1.3M525.6 531.76h-1.3M506.37 558.5v-1.3M506.37 424.8v1.3M397.4 538.44h1.3M525.6 538.44h-1.3M512.78 558.5v-1.3M512.78 424.8v1.3M397.4 545.13h1.3M525.6 545.13h-1.3M519.19 558.5v-1.3M519.19 424.8v1.3M397.4 551.82h1.3M525.6 551.82h-1.3M525.6 558.5v-2.2M525.6 424.8v2.2M397.4 558.5h2.2M525.6 558.5h-2.2" stroke="#333" stroke-width="0.7" fill="none"/>
<g fill="#000"><text x="381.26" y="430.02" font-size="8.4" textLength="13.54" lengthAdjust="spacingAndGlyphs">0.60</text><text x="381.26" y="461.25" font-size="8.4" textLength="13.54" lengthAdjust="spacingAndGlyphs">0.55</text><text x="381.26" y="494.67" font-size="8.4" textLength="13.54" lengthAdjust="spacingAndGlyphs">0.50</text><text x="381.26" y="528.1" font-size="8.4" textLength="13.54" lengthAdjust="spacingAndGlyphs">0.45</text><text x="381.26" y="559.42" font-size="8.4" textLength="13.54" lengthAdjust="spacingAndGlyphs">0.40</text><text x="388.6" y="569.42" font-size="8.4" textLength="17.61" lengthAdjust="spacingAndGlyphs">−0.10</text><text x="420.65" y="569.42" font-size="8.4" textLength="17.61" lengthAdjust="spacingAndGlyphs">−0.05</text><text x="454.73" y="569.42" font-size="8.4" textLength="13.54" lengthAdjust="spacingAndGlyphs">0.00</text><text x="486.78" y="569.42" font-size="8.4" textLength="13.54" lengthAdjust="spacingAndGlyphs">0.05</text><text x="518.83" y="569.42" font-size="8.4" textLength="13.54" lengthAdjust="spacingAndGlyphs">0.10</text><text x="533.8" y="430.02" font-size="8.4" textLength="11.61" lengthAdjust="spacingAndGlyphs">600</text><text x="533.8" y="450.11" font-size="8.4" textLength="11.61" lengthAdjust="spacingAndGlyphs">400</text><text x="533.8" y="472.39" font-size="8.4" textLength="11.61" lengthAdjust="spacingAndGlyphs">200</text><text x="533.8" y="494.67" font-size="8.4" textLength="3.87" lengthAdjust="spacingAndGlyphs">0</text><text x="533.8" y="516.96" font-size="8.4" textLength="15.67" lengthAdjust="spacingAndGlyphs">−200</text><text x="533.8" y="539.24" font-size="8.4" textLength="15.67" lengthAdjust="spacingAndGlyphs">−400</text><text x="533.8" y="559.22" font-size="8.4" textLength="15.67" lengthAdjust="spacingAndGlyphs">−600</text></g>
<text x="461.5" y="577.5" font-size="7" text-anchor="middle" fill="#000">x/L<tspan font-size="4" dy="1.2">o</tspan></text>
<text transform="translate(375.2,491.65) rotate(-90)" font-size="7" text-anchor="middle" fill="#000">y/L<tspan font-size="4" dy="1.2">o</tspan></text>
<text x="462.5" y="420.8" font-size="9" text-anchor="middle" fill="#000">Jz</text>
<rect x="527.2" y="424.8" width="4.7" height="133.7" fill="url(#rwb)"/>
<path d="M531.9 424.8h-1.2M531.9 447.08h-1.2M531.9 469.37h-1.2M531.9 491.65h-1.2M531.9 513.93h-1.2M531.9 536.22h-1.2M531.9 558.5h-1.2" stroke="#222" stroke-width="0.6"/>
<g class="cap" font-family="'Liberation Serif', serif" font-size="14.7" fill="#111"><text class="cap" x="420.68" y="599.5">(k)</text><text class="cap" x="444.02" y="599.5" font-style="italic">t</text><text class="cap" x="452.1" y="599.5">=</text><text class="cap" x="463.7" y="599.5">28.2</text><text class="cap" x="489.62" y="599.5" font-style="italic">t</text><text class="cap" x="493.22" y="602.1" font-style="italic" font-size="10.3">A</text></g>
</g>
<g id="pl"><svg x="581.4" y="425.2" width="128.7" height="133.3" viewBox="581.4 425.2 128.7 133.3" preserveAspectRatio="none" overflow="hidden"><rect x="580.4" y="424.2" width="130.7" height="135.3" fill="#fbfbff"/><path d="M644.5 424.5C644 434.6 643.75 444.8 643 454.8C642.25 464.8 640.98 475.85 640 484.5C639.02 493.15 638.1 501.62 637.1 506.7C636.1 511.78 635.03 512.23 634 515" stroke="#ff2020" stroke-width="0.9" fill="none" opacity="0.8"/><path d="M647.5 424.5C648 434.6 648.02 444.8 649 454.8C649.98 464.8 651.68 476.33 653.4 484.5C655.12 492.67 657.87 499.22 659.3 503.8C660.73 508.38 661.1 509.27 662 512" stroke="#ff2020" stroke-width="0.9" fill="none" opacity="0.8"/><path d="M646 440C646 450 645.92 460.83 646 470C646.08 479.17 646.33 486.67 646.5 495" stroke="#b0b0ff" stroke-width="1.5" fill="none" opacity="0.5"/><circle cx="649.7" cy="516.7" r="2.2" fill="#ff4040" filter="url(#b0_5)"/><path d="M600 511.2C603.67 511.8 607.3 512.27 611 513C614.7 513.73 618.87 514.6 622.2 515.6C625.53 516.6 628.27 517.75 631 519C633.73 520.25 636.07 521.73 638.6 523.1" stroke="#4040ff" stroke-width="1.1" fill="none" opacity="0.7"/><path d="M662.3 518.6C665.2 517.57 668.03 516.48 671 515.5C673.97 514.52 676.93 513.62 680.1 512.7C683.27 511.78 686.7 510.9 690 510" stroke="#4040ff" stroke-width="1.1" fill="none" opacity="0.7"/><path d="M647.5 524.5C648.67 523.83 649.52 523.23 651 522.5C652.48 521.77 654.6 520.9 656.4 520.1" stroke="#c01030" stroke-width="1.3" fill="none"/><path d="M636 525C637.33 526 638.67 526.67 640 528C641.33 529.33 642.67 532.67 644 533C645.33 533.33 646.67 531 648 530C649.33 529 650.67 528 652 527" stroke="#3030e0" stroke-width="1.2" fill="none" opacity="0.8"/><ellipse cx="634.1" cy="542.3" rx="4.5" ry="3.8" fill="#ff8080" filter="url(#b1_2)"/><ellipse cx="634.1" cy="542.3" rx="1.5" ry="1.5" fill="#ff2020" filter="url(#b0_5)"/><path d="M628.2 547.5C630.13 548 632.03 549 634 549C635.97 549 638 548 640 547.5" stroke="#b01030" stroke-width="1.3" fill="none"/><ellipse cx="665.3" cy="546" rx="5" ry="4.5" fill="none" stroke="#ff7070" stroke-width="0.8" opacity="0.8"/><path d="M660 552C662.33 552.67 664.67 553.5 667 554C669.33 554.5 671.67 554.67 674 555" stroke="#c01030" stroke-width="1.1" fill="none"/><path d="M612 548C614.67 545.67 617.33 542.83 620 541C622.67 539.17 624.67 537.5 628 537C631.33 536.5 636.33 537.33 640 538C643.67 538.67 646.67 541 650 541C653.33 541 656.33 539.5 660 538C663.67 536.5 668 534 672 532" stroke="#ff6060" stroke-width="0.7" fill="none" opacity="0.6"/><path d="M615 553C618.33 552.33 620.83 551.17 625 551C629.17 550.83 635 552.33 640 552C645 551.67 649.67 549.67 655 549C660.33 548.33 666.33 548.33 672 548" stroke="#6060ff" stroke-width="1.0" fill="none" opacity="0.6"/><path d="M606 556C608 552.67 610 548.67 612 546C614 543.33 616 542 618 540" stroke="#ff3030" stroke-width="0.8" fill="none" opacity="0.7"/><path d="M588.38 425.2C587.35 430.57 586.24 436.73 585.29 441.31C584.34 445.89 583.35 450.32 582.7 452.67C582.05 455.03 581.87 454.48 581.4 455.44C580.93 456.39 580.4 457.41 579.9 458.4M599.46 425.2C598.56 430.57 597.94 435.71 596.76 441.31C595.58 446.91 593.99 452.98 592.37 458.8C590.76 464.61 588.7 470.95 587.09 476.19C585.47 481.43 583.64 487.58 582.7 490.22C581.75 492.85 581.87 491.37 581.4 492C580.93 492.62 580.4 493.32 579.9 493.97M610.03 425.2C609.14 430.57 608.37 435.71 607.34 441.31C606.31 446.91 605.31 452.98 603.85 458.8C602.38 464.61 600.32 470.65 598.56 476.19C596.8 481.72 594.74 488.11 593.27 492C591.81 495.88 591.24 496.51 589.78 499.51C588.32 502.51 585.89 507.53 584.49 509.98C583.1 512.44 582.16 513.19 581.4 514.23C580.64 515.27 580.4 515.55 579.9 516.21M621.01 425.2C620.28 430.57 619.61 435.71 618.81 441.31C618.01 446.91 617.38 452.98 616.22 458.8C615.05 464.61 613.59 470.65 611.83 476.19C610.07 481.72 607.09 488.41 605.64 492C604.2 495.59 604.31 495.01 603.15 497.73C601.99 500.45 600.59 504.5 598.66 508.3C596.73 512.11 593.94 516.9 591.58 520.56C589.22 524.21 586.19 527.92 584.49 530.24C582.8 532.56 582.16 533.45 581.4 534.49C580.64 535.53 580.4 535.81 579.9 536.46M632.08 425.2C631.48 430.57 630.88 435.71 630.29 441.31C629.69 446.91 629.22 453.71 628.49 458.8C627.76 463.89 627.06 467.77 625.9 471.84C624.73 475.91 622.84 479.84 621.51 483.2C620.18 486.56 618.76 489.73 617.91 492C617.07 494.27 617.55 494.57 616.42 496.84C615.29 499.11 612.39 502.98 611.13 505.63C609.87 508.29 610.17 509.97 608.84 512.75C607.51 515.53 605.58 518.68 603.15 522.33C600.72 525.99 597.23 530.73 594.27 534.69C591.31 538.64 587.54 543.36 585.39 546.05C583.25 548.73 582.31 549.67 581.4 550.79C580.49 551.91 580.4 552.11 579.9 552.77M643.95 425.2C643.82 430.57 643.77 435.71 643.56 441.31C643.34 446.91 643.11 453.71 642.66 458.8C642.21 463.89 641.74 467.77 640.86 471.84C639.98 475.91 638.55 479.84 637.37 483.2C636.19 486.56 634.68 489.71 633.78 492C632.88 494.29 633.2 494.58 631.98 496.94C630.77 499.29 627.94 503.91 626.49 506.13C625.05 508.35 623.93 508.86 623.3 510.28C622.67 511.7 623.37 512.96 622.7 514.63C622.04 516.29 620.51 518.38 619.31 520.26C618.11 522.14 617.03 524.38 615.52 525.89C614.01 527.41 612 528.2 610.23 529.35M610.23 529.35C607.57 532.28 605.06 534.92 602.25 538.14C599.44 541.37 595.9 545.32 593.37 548.72C590.84 552.11 588.25 556.59 587.09 558.5C585.92 560.41 586.62 559.62 586.39 560.18M599.56 558.5C601.92 556.72 604.86 554.65 606.64 553.16C608.42 551.68 609.05 551.22 610.23 549.61C611.41 547.99 612.39 545.39 613.72 543.48C615.05 541.57 616.73 539.31 618.21 538.14C619.69 536.98 621.12 536.61 622.6 536.46C624.08 536.32 625.61 537.55 627.09 537.26C628.57 536.96 630 535.26 631.48 534.69C632.96 534.11 634.34 533.37 635.97 533.8C637.6 534.22 639.8 536.45 641.26 537.26C642.72 538.06 643.27 539 644.75 538.64C646.23 538.28 648.64 536.42 650.14 535.08C651.64 533.75 652.38 531.89 653.73 530.63C655.08 529.38 656.57 528.16 658.22 527.57C659.87 526.98 661.83 526.71 663.61 527.08C665.39 527.44 667.12 528.41 668.9 529.75C670.68 531.08 672.34 533.01 674.28 535.08C676.23 537.16 678.62 539.97 680.57 542.2C682.51 544.42 684.01 545.7 685.96 548.42C687.9 551.14 691.04 556.54 692.24 558.5C693.44 560.46 692.84 559.62 693.14 560.18M646.55 425.2C647.15 430.67 647.45 435.92 648.34 441.6C649.24 447.28 650.59 453.38 651.94 459.29C653.28 465.2 654.93 472.28 656.43 477.08C657.92 481.87 659.42 485.33 660.91 488.05C662.41 490.76 663.92 491.45 665.4 493.38C666.88 495.31 668.76 497.53 669.79 499.61C670.82 501.68 671.14 503.76 671.59 505.83C672.04 507.91 672.04 510.15 672.49 512.06C672.94 513.97 673.24 515.38 674.28 517.29C675.33 519.2 677.13 521.3 678.77 523.52C680.42 525.74 682.36 528.26 684.16 530.63C685.96 533.01 687.75 535.23 689.55 537.75C691.34 540.27 693.14 543.09 694.94 545.75C696.73 548.42 698.94 551.63 700.32 553.76C701.7 555.88 702.58 557.43 703.22 558.5C703.85 559.57 703.81 559.62 704.11 560.18M658.22 425.2C659.12 430.67 659.72 435.92 660.91 441.6C662.11 447.28 663.77 453.38 665.4 459.29C667.03 465.2 668.98 472.28 670.69 477.08C672.4 481.87 674.33 484.74 675.68 488.05C677.03 491.36 677.66 493.97 678.77 496.94C679.89 499.9 681.32 503.33 682.36 505.83C683.41 508.34 683.86 509.75 685.06 511.96C686.26 514.17 687.9 516.55 689.55 519.07C691.19 521.59 693.14 524.41 694.94 527.08C696.73 529.75 698.53 532.41 700.32 535.08C702.12 537.75 704.08 540.71 705.71 543.09C707.34 545.46 709.2 547.94 710.1 549.31C711 550.68 710.77 550.63 711.1 551.29M670.29 425.2C671.02 430.67 671.52 435.92 672.49 441.6C673.45 447.28 674.43 453.38 676.08 459.29C677.73 465.2 680.42 472.28 682.36 477.08C684.31 481.87 686.26 484.74 687.75 488.05C689.25 491.36 690.15 493.97 691.34 496.94C692.54 499.9 693.44 502.74 694.94 505.83C696.43 508.93 698.53 512.57 700.32 515.52C702.12 518.46 704.08 521.18 705.71 523.52C707.34 525.86 709.2 528.21 710.1 529.55C711 530.88 710.77 530.87 711.1 531.52M681.47 425.2C682.36 430.67 683.11 435.92 684.16 441.6C685.21 447.28 686.11 453.38 687.75 459.29C689.4 465.2 692.18 472.28 694.04 477.08C695.9 481.87 697.58 485.03 698.93 488.05C700.27 491.06 700.84 492.49 702.12 495.16C703.4 497.83 705.28 501.45 706.61 504.05C707.94 506.66 709.35 509.32 710.1 510.77C710.85 512.22 710.77 512.09 711.1 512.75M692.64 425.2C693.7 430.67 694.55 435.92 695.83 441.6C697.11 447.28 698.53 453.38 700.32 459.29C702.12 465.2 704.98 472.78 706.61 477.08C708.24 481.38 709.35 483.42 710.1 485.08C710.85 486.74 710.77 486.4 711.1 487.06M703.42 425.2C704.48 430.67 705.49 437.3 706.61 441.6C707.72 445.9 709.35 449.01 710.1 450.99C710.85 452.97 710.77 452.64 711.1 453.46" fill="none" stroke="#6c6c6c" stroke-width="1.05"/><circle cx="649.64" cy="516.11" r="3.5" fill="none" stroke="#6c6c6c" stroke-width="0.9"/></svg>
<rect x="581.4" y="425.2" width="128.7" height="133.3" fill="none" stroke="#8a8a8a" stroke-width="1"/>
<path d="M581.4 558.5v-2.2M581.4 425.2v2.2M581.4 425.2h2.2M710.1 425.2h-2.2M587.84 558.5v-1.3M587.84 425.2v1.3M581.4 431.87h1.3M710.1 431.87h-1.3M594.27 558.5v-1.3M594.27 425.2v1.3M581.4 438.53h1.3M710.1 438.53h-1.3M600.7 558.5v-1.3M600.7 425.2v1.3M581.4 445.19h1.3M710.1 445.19h-1.3M607.14 558.5v-1.3M607.14 425.2v1.3M581.4 451.86h1.3M710.1 451.86h-1.3M613.58 558.5v-2.2M613.58 425.2v2.2M581.4 458.52h2.2M710.1 458.52h-2.2M620.01 558.5v-1.3M620.01 425.2v1.3M581.4 465.19h1.3M710.1 465.19h-1.3M626.44 558.5v-1.3M626.44 425.2v1.3M581.4 471.86h1.3M710.1 471.86h-1.3M632.88 558.5v-1.3M632.88 425.2v1.3M581.4 478.52h1.3M710.1 478.52h-1.3M639.32 558.5v-1.3M639.32 425.2v1.3M581.4 485.19h1.3M710.1 485.19h-1.3M645.75 558.5v-2.2M645.75 425.2v2.2M581.4 491.85h2.2M710.1 491.85h-2.2M652.18 558.5v-1.3M652.18 425.2v1.3M581.4 498.51h1.3M710.1 498.51h-1.3M658.62 558.5v-1.3M658.62 425.2v1.3M581.4 505.18h1.3M710.1 505.18h-1.3M665.06 558.5v-1.3M665.06 425.2v1.3M581.4 511.85h1.3M710.1 511.85h-1.3M671.49 558.5v-1.3M671.49 425.2v1.3M581.4 518.51h1.3M710.1 518.51h-1.3M677.92 558.5v-2.2M677.92 425.2v2.2M581.4 525.17h2.2M710.1 525.17h-2.2M684.36 558.5v-1.3M684.36 425.2v1.3M581.4 531.84h1.3M710.1 531.84h-1.3M690.79 558.5v-1.3M690.79 425.2v1.3M581.4 538.5h1.3M710.1 538.5h-1.3M697.23 558.5v-1.3M697.23 425.2v1.3M581.4 545.17h1.3M710.1 545.17h-1.3M703.67 558.5v-1.3M703.67 425.2v1.3M581.4 551.84h1.3M710.1 551.84h-1.3M710.1 558.5v-2.2M710.1 425.2v2.2M581.4 558.5h2.2M710.1 558.5h-2.2" stroke="#333" stroke-width="0.7" fill="none"/>
<g fill="#000"><text x="565.26" y="430.42" font-size="8.4" textLength="13.54" lengthAdjust="spacingAndGlyphs">0.60</text><text x="565.26" y="461.55" font-size="8.4" textLength="13.54" lengthAdjust="spacingAndGlyphs">0.55</text><text x="565.26" y="494.87" font-size="8.4" textLength="13.54" lengthAdjust="spacingAndGlyphs">0.50</text><text x="565.26" y="528.2" font-size="8.4" textLength="13.54" lengthAdjust="spacingAndGlyphs">0.45</text><text x="565.26" y="559.42" font-size="8.4" textLength="13.54" lengthAdjust="spacingAndGlyphs">0.40</text><text x="572.6" y="569.42" font-size="8.4" textLength="17.61" lengthAdjust="spacingAndGlyphs">−0.10</text><text x="604.77" y="569.42" font-size="8.4" textLength="17.61" lengthAdjust="spacingAndGlyphs">−0.05</text><text x="638.98" y="569.42" font-size="8.4" textLength="13.54" lengthAdjust="spacingAndGlyphs">0.00</text><text x="671.15" y="569.42" font-size="8.4" textLength="13.54" lengthAdjust="spacingAndGlyphs">0.05</text><text x="703.33" y="569.42" font-size="8.4" textLength="13.54" lengthAdjust="spacingAndGlyphs">0.10</text><text x="718.1" y="430.42" font-size="8.4" textLength="11.61" lengthAdjust="spacingAndGlyphs">600</text><text x="718.1" y="450.44" font-size="8.4" textLength="11.61" lengthAdjust="spacingAndGlyphs">400</text><text x="718.1" y="472.66" font-size="8.4" textLength="11.61" lengthAdjust="spacingAndGlyphs">200</text><text x="718.1" y="494.87" font-size="8.4" textLength="3.87" lengthAdjust="spacingAndGlyphs">0</text><text x="718.1" y="517.09" font-size="8.4" textLength="15.67" lengthAdjust="spacingAndGlyphs">−200</text><text x="718.1" y="539.31" font-size="8.4" textLength="15.67" lengthAdjust="spacingAndGlyphs">−400</text><text x="718.1" y="559.22" font-size="8.4" textLength="15.67" lengthAdjust="spacingAndGlyphs">−600</text></g>
<text x="645.75" y="577.5" font-size="7" text-anchor="middle" fill="#000">x/L<tspan font-size="4" dy="1.2">o</tspan></text>
<text transform="translate(559.2,491.85) rotate(-90)" font-size="7" text-anchor="middle" fill="#000">y/L<tspan font-size="4" dy="1.2">o</tspan></text>
<text x="646.75" y="421.2" font-size="9" text-anchor="middle" fill="#000">Jz</text>
<rect x="711.9" y="425.2" width="4.3" height="133.3" fill="url(#rwb)"/>
<path d="M716.2 425.2h-1.2M716.2 447.42h-1.2M716.2 469.63h-1.2M716.2 491.85h-1.2M716.2 514.07h-1.2M716.2 536.28h-1.2M716.2 558.5h-1.2" stroke="#222" stroke-width="0.6"/>
<g class="cap" font-family="'Liberation Serif', serif" font-size="14.7" fill="#111"><text class="cap" x="606.56" y="599.5">(l)</text><text class="cap" x="626.64" y="599.5" font-style="italic">t</text><text class="cap" x="634.72" y="599.5">=</text><text class="cap" x="646.31" y="599.5">28.4</text><text class="cap" x="672.24" y="599.5" font-style="italic">t</text><text class="cap" x="675.84" y="602.1" font-style="italic" font-size="10.3">A</text></g>
</g>
<g id="pm"><svg x="27.9" y="631.9" width="129.7" height="132.6" viewBox="27.9 631.9 129.7 132.6" preserveAspectRatio="none" overflow="hidden"><rect x="26.9" y="630.9" width="131.7" height="134.6" fill="#0000fb"/><path d="M88.9 630C87.65 632.5 88.72 640.67 88.4 645C88.08 649.33 87.7 652.67 87 656C86.3 659.33 84.95 661.75 84.2 665C83.45 668.25 82.53 672.33 82.5 675.5C82.47 678.67 83.48 681.42 84 684C84.52 686.58 85.27 688.33 85.6 691C85.93 693.67 86.05 696.5 86 700C85.95 703.5 85.63 708.67 85.3 712C84.97 715.33 84.43 717.3 84 720C83.57 722.7 83.38 725.6 82.7 728.2C82.02 730.8 81.15 733.33 79.9 735.6C78.65 737.87 77.02 739.63 75.2 741.8C73.38 743.97 71.05 746.22 69 748.6C66.95 750.98 65.05 753.5 62.9 756.1C60.75 758.7 57.5 762.38 56.1 764.2C54.7 766.02 55.03 766.07 54.5 767L132 767C131.6 765.97 131.45 765.15 130.8 763.9C130.15 762.65 129.12 761.03 128.1 759.5C127.08 757.97 125.95 756.3 124.7 754.7C123.45 753.1 122.07 751.48 120.6 749.9C119.13 748.32 117.6 746.78 115.9 745.2C114.2 743.62 112.22 741.88 110.4 740.4C108.58 738.92 106.7 737.67 105 736.3C103.3 734.93 101.43 733.75 100.2 732.2C98.97 730.65 98.27 729.03 97.6 727C96.93 724.97 96.6 722.5 96.2 720C95.8 717.5 95.43 715.33 95.2 712C94.97 708.67 94.75 703.5 94.8 700C94.85 696.5 94.98 693.67 95.5 691C96.02 688.33 97.1 686.58 97.9 684C98.7 681.42 100.07 678.67 100.3 675.5C100.53 672.33 99.87 668.08 99.3 665C98.73 661.92 97.53 660.33 96.9 657C96.27 653.67 95.67 649.5 95.5 645C95.33 640.5 97 632.5 95.9 630C94.8 627.5 90.15 627.5 88.9 630Z" fill="#0c3cff" filter="url(#b4)" opacity="0.55"/><path d="M88.9 630C87.65 632.5 88.72 640.67 88.4 645C88.08 649.33 87.7 652.67 87 656C86.3 659.33 84.95 661.75 84.2 665C83.45 668.25 82.53 672.33 82.5 675.5C82.47 678.67 83.48 681.42 84 684C84.52 686.58 85.27 688.33 85.6 691C85.93 693.67 86.05 696.5 86 700C85.95 703.5 85.63 708.67 85.3 712C84.97 715.33 84.43 717.3 84 720C83.57 722.7 83.38 725.6 82.7 728.2C82.02 730.8 81.15 733.33 79.9 735.6C78.65 737.87 77.02 739.63 75.2 741.8C73.38 743.97 71.05 746.22 69 748.6C66.95 750.98 65.05 753.5 62.9 756.1C60.75 758.7 57.5 762.38 56.1 764.2C54.7 766.02 55.03 766.07 54.5 767L132 767C131.6 765.97 131.45 765.15 130.8 763.9C130.15 762.65 129.12 761.03 128.1 759.5C127.08 757.97 125.95 756.3 124.7 754.7C123.45 753.1 122.07 751.48 120.6 749.9C119.13 748.32 117.6 746.78 115.9 745.2C114.2 743.62 112.22 741.88 110.4 740.4C108.58 738.92 106.7 737.67 105 736.3C103.3 734.93 101.43 733.75 100.2 732.2C98.97 730.65 98.27 729.03 97.6 727C96.93 724.97 96.6 722.5 96.2 720C95.8 717.5 95.43 715.33 95.2 712C94.97 708.67 94.75 703.5 94.8 700C94.85 696.5 94.98 693.67 95.5 691C96.02 688.33 97.1 686.58 97.9 684C98.7 681.42 100.07 678.67 100.3 675.5C100.53 672.33 99.87 668.08 99.3 665C98.73 661.92 97.53 660.33 96.9 657C96.27 653.67 95.67 649.5 95.5 645C95.33 640.5 97 632.5 95.9 630C94.8 627.5 90.15 627.5 88.9 630Z" fill="#00eaff" filter="url(#b0_5)"/><g clip-path="url(#cm)"><path d="M89.6 690C89.1 693.33 89.37 704.17 89.4 710C89.43 715.83 89.45 721.67 89.8 725C90.15 728.33 91.03 730 91.5 730C91.97 730 92.43 728.33 92.6 725C92.77 721.67 92.53 715.83 92.5 710C92.47 704.17 92.88 693.33 92.4 690C91.92 686.67 90.1 686.67 89.6 690Z" fill="#40f8ff" filter="url(#b1_2)"/><path d="M58.8 767C58.8 766.07 58 765.68 58.8 764.2C59.6 762.72 61.33 760.7 63.6 758.1C65.87 755.5 69.78 750.98 72.4 748.6C75.02 746.22 77.53 745.4 79.3 743.8C81.07 742.2 81.98 740.37 83 739C84.02 737.63 84.57 735.1 85.4 735.6C86.23 736.1 87.1 739.62 88 742C88.9 744.38 89.97 749.73 90.8 749.9C91.63 750.07 92.32 745.15 93 743C93.68 740.85 93.9 737.75 94.9 737C95.9 736.25 97.55 738.05 99 738.5C100.45 738.95 101.7 738.93 103.6 739.7C105.5 740.47 108.13 741.62 110.4 743.1C112.67 744.58 115.15 746.78 117.2 748.6C119.25 750.42 121 752.18 122.7 754C124.4 755.82 126.27 757.92 127.4 759.5C128.53 761.08 129.07 762.25 129.5 763.5C129.93 764.75 129.83 765.83 130 767L58.8 767Z" fill="#8cff78" filter="url(#b1_0)"/><ellipse cx="107" cy="749.5" rx="9" ry="7" fill="#f0ff10" filter="url(#b3)"/><ellipse cx="107" cy="749.5" rx="5" ry="4" fill="#f8ff00" filter="url(#b2)"/><ellipse cx="77" cy="764.5" rx="11" ry="4" fill="#e8ff18" filter="url(#b2_5)"/><ellipse cx="98" cy="762" rx="12" ry="4" fill="#b8ff48" filter="url(#b2_5)"/><path d="M90.3 628C89.65 630.83 90.18 640.33 89.9 645C89.62 649.67 89.2 652.67 88.6 656C88 659.33 86.9 661.75 86.3 665C85.7 668.25 85 672.33 85 675.5C85 678.67 85.75 681.75 86.3 684C86.85 686.25 87.18 688.17 88.3 689C89.42 689.83 91.68 689.83 93 689C94.32 688.17 95.4 686.25 96.2 684C97 681.75 97.7 678.67 97.8 675.5C97.9 672.33 97.35 668.25 96.8 665C96.25 661.75 95.07 659.33 94.5 656C93.93 652.67 93.52 649.67 93.4 645C93.28 640.33 94.32 630.83 93.8 628C93.28 625.17 90.95 625.17 90.3 628Z" fill="#b0ff58" filter="url(#b1)"/><path d="M90.6 628C90.1 630 90.37 636.33 90.4 640C90.43 643.67 90.37 648.33 90.8 650C91.23 651.67 92.6 651.67 93 650C93.4 648.33 93.13 643.67 93.2 640C93.27 636.33 93.83 630 93.4 628C92.97 626 91.1 626 90.6 628Z" fill="#e0ff20" filter="url(#b1)"/><ellipse cx="91.4" cy="675.5" rx="6.2" ry="8" fill="#e8ff18" filter="url(#b1_2)"/><ellipse cx="91.2" cy="675.3" rx="4" ry="5.4" fill="#ffae00" filter="url(#b1)"/></g></svg>
<rect x="27.9" y="631.9" width="129.7" height="132.6" fill="none" stroke="#8a8a8a" stroke-width="1"/>
<path d="M27.9 764.5v-2.2M27.9 631.9v2.2M27.9 631.9h2.2M157.6 631.9h-2.2M34.38 764.5v-1.3M34.38 631.9v1.3M27.9 638.53h1.3M157.6 638.53h-1.3M40.87 764.5v-1.3M40.87 631.9v1.3M27.9 645.16h1.3M157.6 645.16h-1.3M47.35 764.5v-1.3M47.35 631.9v1.3M27.9 651.79h1.3M157.6 651.79h-1.3M53.84 764.5v-1.3M53.84 631.9v1.3M27.9 658.42h1.3M157.6 658.42h-1.3M60.32 764.5v-2.2M60.32 631.9v2.2M27.9 665.05h2.2M157.6 665.05h-2.2M66.81 764.5v-1.3M66.81 631.9v1.3M27.9 671.68h1.3M157.6 671.68h-1.3M73.29 764.5v-1.3M73.29 631.9v1.3M27.9 678.31h1.3M157.6 678.31h-1.3M79.78 764.5v-1.3M79.78 631.9v1.3M27.9 684.94h1.3M157.6 684.94h-1.3M86.26 764.5v-1.3M86.26 631.9v1.3M27.9 691.57h1.3M157.6 691.57h-1.3M92.75 764.5v-2.2M92.75 631.9v2.2M27.9 698.2h2.2M157.6 698.2h-2.2M99.23 764.5v-1.3M99.23 631.9v1.3M27.9 704.83h1.3M157.6 704.83h-1.3M105.72 764.5v-1.3M105.72 631.9v1.3M27.9 711.46h1.3M157.6 711.46h-1.3M112.2 764.5v-1.3M112.2 631.9v1.3M27.9 718.09h1.3M157.6 718.09h-1.3M118.69 764.5v-1.3M118.69 631.9v1.3M27.9 724.72h1.3M157.6 724.72h-1.3M125.17 764.5v-2.2M125.17 631.9v2.2M27.9 731.35h2.2M157.6 731.35h-2.2M131.66 764.5v-1.3M131.66 631.9v1.3M27.9 737.98h1.3M157.6 737.98h-1.3M138.14 764.5v-1.3M138.14 631.9v1.3M27.9 744.61h1.3M157.6 744.61h-1.3M144.63 764.5v-1.3M144.63 631.9v1.3M27.9 751.24h1.3M157.6 751.24h-1.3M151.11 764.5v-1.3M151.11 631.9v1.3M27.9 757.87h1.3M157.6 757.87h-1.3M157.6 764.5v-2.2M157.6 631.9v2.2M27.9 764.5h2.2M157.6 764.5h-2.2" stroke="#333" stroke-width="0.7" fill="none"/>
<g fill="#000"><text x="11.76" y="637.12" font-size="8.4" textLength="13.54" lengthAdjust="spacingAndGlyphs">0.60</text><text x="11.76" y="668.07" font-size="8.4" textLength="13.54" lengthAdjust="spacingAndGlyphs">0.55</text><text x="11.76" y="701.22" font-size="8.4" textLength="13.54" lengthAdjust="spacingAndGlyphs">0.50</text><text x="11.76" y="734.37" font-size="8.4" textLength="13.54" lengthAdjust="spacingAndGlyphs">0.45</text><text x="11.76" y="765.42" font-size="8.4" textLength="13.54" lengthAdjust="spacingAndGlyphs">0.40</text><text x="19.1" y="775.42" font-size="8.4" textLength="17.61" lengthAdjust="spacingAndGlyphs">−0.10</text><text x="51.52" y="775.42" font-size="8.4" textLength="17.61" lengthAdjust="spacingAndGlyphs">−0.05</text><text x="85.98" y="775.42" font-size="8.4" textLength="13.54" lengthAdjust="spacingAndGlyphs">0.00</text><text x="118.4" y="775.42" font-size="8.4" textLength="13.54" lengthAdjust="spacingAndGlyphs">0.05</text><text x="150.83" y="775.42" font-size="8.4" textLength="13.54" lengthAdjust="spacingAndGlyphs">0.10</text><text x="165.8" y="649.66" font-size="8.4" textLength="13.54" lengthAdjust="spacingAndGlyphs">0.04</text><text x="165.8" y="679.12" font-size="8.4" textLength="13.54" lengthAdjust="spacingAndGlyphs">0.03</text><text x="165.8" y="708.59" font-size="8.4" textLength="13.54" lengthAdjust="spacingAndGlyphs">0.02</text><text x="165.8" y="738.06" font-size="8.4" textLength="13.54" lengthAdjust="spacingAndGlyphs">0.01</text></g>
<text x="92.75" y="783.5" font-size="7" text-anchor="middle" fill="#000">x/L<tspan font-size="4" dy="1.2">o</tspan></text>
<text transform="translate(5.7,698.2) rotate(-90)" font-size="7" text-anchor="middle" fill="#000">y/L<tspan font-size="4" dy="1.2">o</tspan></text>
<text x="93.25" y="627.9" font-size="9" text-anchor="middle" fill="#000">T/T<tspan font-size="5" dy="1.5">c</tspan></text>
<rect x="159.2" y="631.9" width="4.7" height="132.6" fill="url(#jet)"/>
<path d="M163.9 646.63h-1.2M163.9 676.1h-1.2M163.9 705.57h-1.2M163.9 735.03h-1.2" stroke="#222" stroke-width="0.6"/>
<g class="cap" font-family="'Liberation Serif', serif" font-size="14.7" fill="#111"><text class="cap" x="49.89" y="805.5">(m)</text><text class="cap" x="77.31" y="805.5" font-style="italic">t</text><text class="cap" x="85.4" y="805.5">=</text><text class="cap" x="96.99" y="805.5">27.8</text><text class="cap" x="122.91" y="805.5" font-style="italic">t</text><text class="cap" x="126.51" y="808.1" font-style="italic" font-size="10.3">A</text></g>
</g>
<g id="pn"><svg x="212" y="631.3" width="129.2" height="133.2" viewBox="212 631.3 129.2 133.2" preserveAspectRatio="none" overflow="hidden"><rect x="211" y="630.3" width="131.2" height="135.2" fill="#0000fb"/><path d="M268.6 630C266.18 631.83 267.72 637.67 267.7 641C267.68 644.33 267.92 647.83 268.5 650C269.08 652.17 270.6 652.33 271.2 654C271.8 655.67 271.93 657.33 272.1 660C272.27 662.67 272.32 666.67 272.2 670C272.08 673.33 271.85 677 271.4 680C270.95 683 270.32 685.67 269.5 688C268.68 690.33 267.38 692 266.5 694C265.62 696 264.73 697.4 264.2 700C263.67 702.6 263.2 706.73 263.3 709.6C263.4 712.47 263.95 715.2 264.8 717.2C265.65 719.2 267.65 720.33 268.4 721.6C269.15 722.87 269.33 723.23 269.3 724.8C269.27 726.37 268.67 728.97 268.2 731C267.73 733.03 267.65 734.77 266.5 737C265.35 739.23 263.63 741.9 261.3 744.4C258.97 746.9 254.97 749.57 252.5 752C250.03 754.43 248.33 756.92 246.5 759C244.67 761.08 242.58 763.17 241.5 764.5C240.42 765.83 240.5 766.17 240 767L320 766C319.13 764.6 318.65 763.95 317.4 761.8C316.15 759.65 314.23 756 312.5 753.1C310.77 750.2 308.82 746.93 307 744.4C305.18 741.87 303.6 740.07 301.6 737.9C299.6 735.73 297.02 733.47 295 731.4C292.98 729.33 290.8 727.57 289.5 725.5C288.2 723.43 287.63 721.25 287.2 719C286.77 716.75 287.07 714.12 286.9 712C286.73 709.88 286.77 708.47 286.2 706.3C285.63 704.13 284.37 701.72 283.5 699C282.63 696.28 281.6 693.17 281 690C280.4 686.83 280.13 683.33 279.9 680C279.67 676.67 279.7 673.33 279.6 670C279.5 666.67 279.22 662.67 279.3 660C279.38 657.33 279.55 656 280.1 654C280.65 652 282.07 650.17 282.6 648C283.13 645.83 283.37 644 283.3 641C283.23 638 284.65 631.83 282.2 630C279.75 628.17 271.02 628.17 268.6 630Z" fill="#0c3cff" filter="url(#b4)" opacity="0.55"/><path d="M268.6 630C266.18 631.83 267.72 637.67 267.7 641C267.68 644.33 267.92 647.83 268.5 650C269.08 652.17 270.6 652.33 271.2 654C271.8 655.67 271.93 657.33 272.1 660C272.27 662.67 272.32 666.67 272.2 670C272.08 673.33 271.85 677 271.4 680C270.95 683 270.32 685.67 269.5 688C268.68 690.33 267.38 692 266.5 694C265.62 696 264.73 697.4 264.2 700C263.67 702.6 263.2 706.73 263.3 709.6C263.4 712.47 263.95 715.2 264.8 717.2C265.65 719.2 267.65 720.33 268.4 721.6C269.15 722.87 269.33 723.23 269.3 724.8C269.27 726.37 268.67 728.97 268.2 731C267.73 733.03 267.65 734.77 266.5 737C265.35 739.23 263.63 741.9 261.3 744.4C258.97 746.9 254.97 749.57 252.5 752C250.03 754.43 248.33 756.92 246.5 759C244.67 761.08 242.58 763.17 241.5 764.5C240.42 765.83 240.5 766.17 240 767L320 766C319.13 764.6 318.65 763.95 317.4 761.8C316.15 759.65 314.23 756 312.5 753.1C310.77 750.2 308.82 746.93 307 744.4C305.18 741.87 303.6 740.07 301.6 737.9C299.6 735.73 297.02 733.47 295 731.4C292.98 729.33 290.8 727.57 289.5 725.5C288.2 723.43 287.63 721.25 287.2 719C286.77 716.75 287.07 714.12 286.9 712C286.73 709.88 286.77 708.47 286.2 706.3C285.63 704.13 284.37 701.72 283.5 699C282.63 696.28 281.6 693.17 281 690C280.4 686.83 280.13 683.33 279.9 680C279.67 676.67 279.7 673.33 279.6 670C279.5 666.67 279.22 662.67 279.3 660C279.38 657.33 279.55 656 280.1 654C280.65 652 282.07 650.17 282.6 648C283.13 645.83 283.37 644 283.3 641C283.23 638 284.65 631.83 282.2 630C279.75 628.17 271.02 628.17 268.6 630Z" fill="#00eaff" filter="url(#b0_5)"/><g clip-path="url(#cn)"><path d="M248 766C250.17 763 252.33 759.92 254.5 757C256.67 754.08 259 751 261 748.5C263 746 264.92 744 266.5 742C268.08 740 269.25 737.92 270.5 736.5C271.75 735.08 272.42 734 274 733.5C275.58 733 277.83 733.75 280 733.5C282.17 733.25 284.75 731.75 287 732C289.25 732.25 291.42 733.5 293.5 735C295.58 736.5 297.58 738.83 299.5 741C301.42 743.17 303.17 745.42 305 748C306.83 750.58 308.83 753.5 310.5 756.5C312.17 759.5 313.5 762.83 315 766L248 766Z" fill="#90ff70" filter="url(#b1_3)"/><path d="M252 766C254 763.67 254.17 760.5 258 759C261.83 757.5 268.83 757.17 275 757C281.17 756.83 289.17 757.5 295 758C300.83 758.5 306.83 758.67 310 760C313.17 761.33 312.67 764 314 766L252 766Z" fill="#c8ff38" filter="url(#b2)"/><ellipse cx="292.5" cy="745" rx="8.5" ry="6.5" fill="#c0ff40" filter="url(#b1_5)" transform="rotate(25 292.5 745)"/><ellipse cx="292.5" cy="745" rx="6.8" ry="4.8" fill="#f4ff08" filter="url(#b1_0)" transform="rotate(25 292.5 745)"/><path d="M276.6 726 C275 735 273.5 745 273.6 752 C274 757 277 758 281 755" stroke="#60ffb8" stroke-width="1.3" fill="none" opacity="0.8" filter="url(#b0_7)"/><path d="M268.5 699C267.37 700.42 266.7 702.17 266.2 704C265.7 705.83 265.45 708 265.5 710C265.55 712 265.75 714.33 266.5 716C267.25 717.67 268.42 719.17 270 720C271.58 720.83 274 721.17 276 721C278 720.83 280.53 720.17 282 719C283.47 717.83 284.33 716 284.8 714C285.27 712 285.1 709.17 284.8 707C284.5 704.83 283.97 702.83 283 701C282.03 699.17 280.67 696.92 279 696C277.33 695.08 274.75 695 273 695.5C271.25 696 269.63 697.58 268.5 699Z" fill="#80ff90" filter="url(#b1_2)"/><ellipse cx="276" cy="710" rx="4.8" ry="5.8" fill="#e8ff20" filter="url(#b1_5)"/><path d="M273.6 652C272.92 654.17 273.9 660.33 273.9 665C273.9 669.67 274 675.5 273.6 680C273.2 684.5 270.6 690 271.5 692C272.4 694 277.93 694 279 692C280.07 690 278.12 684.5 277.9 680C277.68 675.5 277.68 669.67 277.7 665C277.72 660.33 278.68 654.17 278 652C277.32 649.83 274.28 649.83 273.6 652Z" fill="#a0ff60" filter="url(#b1)"/><path d="M270.2 630C268.32 631.83 269.4 637.83 269.5 641C269.6 644.17 270.22 646.92 270.8 649C271.38 651.08 271.72 652.75 273 653.5C274.28 654.25 277.17 654.25 278.5 653.5C279.83 652.75 280.52 651.08 281 649C281.48 646.92 281.43 644.17 281.4 641C281.37 637.83 282.67 631.83 280.8 630C278.93 628.17 272.08 628.17 270.2 630Z" fill="#c8ff38" filter="url(#b1)"/><ellipse cx="275" cy="643.5" rx="5.2" ry="8.5" fill="#f4ff08" filter="url(#b1)"/><ellipse cx="274.8" cy="644.3" rx="3.8" ry="6" fill="#ffae00" filter="url(#b1)"/></g></svg>
<rect x="212" y="631.3" width="129.2" height="133.2" fill="none" stroke="#8a8a8a" stroke-width="1"/>
<path d="M212 764.5v-2.2M212 631.3v2.2M212 631.3h2.2M341.2 631.3h-2.2M218.46 764.5v-1.3M218.46 631.3v1.3M212 637.96h1.3M341.2 637.96h-1.3M224.92 764.5v-1.3M224.92 631.3v1.3M212 644.62h1.3M341.2 644.62h-1.3M231.38 764.5v-1.3M231.38 631.3v1.3M212 651.28h1.3M341.2 651.28h-1.3M237.84 764.5v-1.3M237.84 631.3v1.3M212 657.94h1.3M341.2 657.94h-1.3M244.3 764.5v-2.2M244.3 631.3v2.2M212 664.6h2.2M341.2 664.6h-2.2M250.76 764.5v-1.3M250.76 631.3v1.3M212 671.26h1.3M341.2 671.26h-1.3M257.22 764.5v-1.3M257.22 631.3v1.3M212 677.92h1.3M341.2 677.92h-1.3M263.68 764.5v-1.3M263.68 631.3v1.3M212 684.58h1.3M341.2 684.58h-1.3M270.14 764.5v-1.3M270.14 631.3v1.3M212 691.24h1.3M341.2 691.24h-1.3M276.6 764.5v-2.2M276.6 631.3v2.2M212 697.9h2.2M341.2 697.9h-2.2M283.06 764.5v-1.3M283.06 631.3v1.3M212 704.56h1.3M341.2 704.56h-1.3M289.52 764.5v-1.3M289.52 631.3v1.3M212 711.22h1.3M341.2 711.22h-1.3M295.98 764.5v-1.3M295.98 631.3v1.3M212 717.88h1.3M341.2 717.88h-1.3M302.44 764.5v-1.3M302.44 631.3v1.3M212 724.54h1.3M341.2 724.54h-1.3M308.9 764.5v-2.2M308.9 631.3v2.2M212 731.2h2.2M341.2 731.2h-2.2M315.36 764.5v-1.3M315.36 631.3v1.3M212 737.86h1.3M341.2 737.86h-1.3M321.82 764.5v-1.3M321.82 631.3v1.3M212 744.52h1.3M341.2 744.52h-1.3M328.28 764.5v-1.3M328.28 631.3v1.3M212 751.18h1.3M341.2 751.18h-1.3M334.74 764.5v-1.3M334.74 631.3v1.3M212 757.84h1.3M341.2 757.84h-1.3M341.2 764.5v-2.2M341.2 631.3v2.2M212 764.5h2.2M341.2 764.5h-2.2" stroke="#333" stroke-width="0.7" fill="none"/>
<g fill="#000"><text x="195.86" y="636.52" font-size="8.4" textLength="13.54" lengthAdjust="spacingAndGlyphs">0.60</text><text x="195.86" y="667.62" font-size="8.4" textLength="13.54" lengthAdjust="spacingAndGlyphs">0.55</text><text x="195.86" y="700.92" font-size="8.4" textLength="13.54" lengthAdjust="spacingAndGlyphs">0.50</text><text x="195.86" y="734.22" font-size="8.4" textLength="13.54" lengthAdjust="spacingAndGlyphs">0.45</text><text x="195.86" y="765.42" font-size="8.4" textLength="13.54" lengthAdjust="spacingAndGlyphs">0.40</text><text x="203.2" y="775.42" font-size="8.4" textLength="17.61" lengthAdjust="spacingAndGlyphs">−0.10</text><text x="235.5" y="775.42" font-size="8.4" textLength="17.61" lengthAdjust="spacingAndGlyphs">−0.05</text><text x="269.83" y="775.42" font-size="8.4" textLength="13.54" lengthAdjust="spacingAndGlyphs">0.00</text><text x="302.13" y="775.42" font-size="8.4" textLength="13.54" lengthAdjust="spacingAndGlyphs">0.05</text><text x="334.43" y="775.42" font-size="8.4" textLength="13.54" lengthAdjust="spacingAndGlyphs">0.10</text><text x="349.6" y="649.12" font-size="8.4" textLength="13.54" lengthAdjust="spacingAndGlyphs">0.04</text><text x="349.6" y="678.72" font-size="8.4" textLength="13.54" lengthAdjust="spacingAndGlyphs">0.03</text><text x="349.6" y="708.32" font-size="8.4" textLength="13.54" lengthAdjust="spacingAndGlyphs">0.02</text><text x="349.6" y="737.92" font-size="8.4" textLength="13.54" lengthAdjust="spacingAndGlyphs">0.01</text></g>
<text x="276.6" y="783.5" font-size="7" text-anchor="middle" fill="#000">x/L<tspan font-size="4" dy="1.2">o</tspan></text>
<text transform="translate(189.8,697.9) rotate(-90)" font-size="7" text-anchor="middle" fill="#000">y/L<tspan font-size="4" dy="1.2">o</tspan></text>
<text x="277.1" y="627.3" font-size="9" text-anchor="middle" fill="#000">T/T<tspan font-size="5" dy="1.5">c</tspan></text>
<rect x="343.1" y="631.3" width="4.6" height="133.2" fill="url(#jet)"/>
<path d="M347.7 646.1h-1.2M347.7 675.7h-1.2M347.7 705.3h-1.2M347.7 734.9h-1.2" stroke="#222" stroke-width="0.6"/>
<g class="cap" font-family="'Liberation Serif', serif" font-size="14.7" fill="#111"><text class="cap" x="241.29" y="805.5">(n)</text><text class="cap" x="264.63" y="805.5" font-style="italic">t</text><text class="cap" x="272.72" y="805.5">=</text><text class="cap" x="284.31" y="805.5">28</text><text class="cap" x="299.21" y="805.5" font-style="italic">t</text><text class="cap" x="302.81" y="808.1" font-style="italic" font-size="10.3">A</text></g>
</g>
<g id="po"><svg x="397.2" y="631.7" width="130.4" height="132.8" viewBox="397.2 631.7 130.4 132.8" preserveAspectRatio="none" overflow="hidden"><rect x="396.2" y="630.7" width="132.4" height="134.8" fill="#0000fb"/><ellipse cx="428" cy="741" rx="6" ry="4" fill="#1040ff" filter="url(#b4)"/><path d="M456.7 630C455.15 631.67 456.45 636.83 456.3 640C456.15 643.17 456.1 646.17 455.8 649C455.5 651.83 454.95 654.67 454.5 657C454.05 659.33 453.65 660.5 453.1 663C452.55 665.5 451.63 669.33 451.2 672C450.77 674.67 450.45 676.67 450.5 679C450.55 681.33 450.92 684.17 451.5 686C452.08 687.83 453.13 688.5 454 690C454.87 691.5 456.23 692.83 456.7 695C457.17 697.17 456.92 700.5 456.8 703C456.68 705.5 456.22 708 456 710C455.78 712 456.4 712.13 455.5 715C454.6 717.87 452.85 723.73 450.6 727.2C448.35 730.67 444.65 733.55 442 735.8C439.35 738.05 436.53 738.87 434.7 740.7C432.87 742.53 432.43 744.35 431 746.8C429.57 749.25 427.73 752.53 426.1 755.4C424.47 758.27 422.22 762.07 421.2 764C420.18 765.93 420.4 766 420 767L506.5 767C506.23 765.6 507.05 765.35 505.7 762.8C504.35 760.25 500.43 754.97 498.4 751.7C496.37 748.43 494.53 745.85 493.5 743.2C492.47 740.55 493.02 738.25 492.2 735.8C491.38 733.35 490.43 730.75 488.6 728.5C486.77 726.25 483.65 724.55 481.2 722.3C478.75 720.05 475.68 717.38 473.9 715C472.12 712.62 471.18 710.5 470.5 708C469.82 705.5 469.78 702.67 469.8 700C469.82 697.33 470.27 694.33 470.6 692C470.93 689.67 471.45 688.17 471.8 686C472.15 683.83 472.75 681.67 472.7 679C472.65 676.33 472.08 672.67 471.5 670C470.92 667.33 469.87 665.5 469.2 663C468.53 660.5 467.95 657.83 467.5 655C467.05 652.17 466.75 648.83 466.5 646C466.25 643.17 466.15 640.67 466 638C465.85 635.33 467.15 631.33 465.6 630C464.05 628.67 458.25 628.33 456.7 630Z" fill="#0c3cff" filter="url(#b4)" opacity="0.55"/><path d="M456.7 630C455.15 631.67 456.45 636.83 456.3 640C456.15 643.17 456.1 646.17 455.8 649C455.5 651.83 454.95 654.67 454.5 657C454.05 659.33 453.65 660.5 453.1 663C452.55 665.5 451.63 669.33 451.2 672C450.77 674.67 450.45 676.67 450.5 679C450.55 681.33 450.92 684.17 451.5 686C452.08 687.83 453.13 688.5 454 690C454.87 691.5 456.23 692.83 456.7 695C457.17 697.17 456.92 700.5 456.8 703C456.68 705.5 456.22 708 456 710C455.78 712 456.4 712.13 455.5 715C454.6 717.87 452.85 723.73 450.6 727.2C448.35 730.67 444.65 733.55 442 735.8C439.35 738.05 436.53 738.87 434.7 740.7C432.87 742.53 432.43 744.35 431 746.8C429.57 749.25 427.73 752.53 426.1 755.4C424.47 758.27 422.22 762.07 421.2 764C420.18 765.93 420.4 766 420 767L506.5 767C506.23 765.6 507.05 765.35 505.7 762.8C504.35 760.25 500.43 754.97 498.4 751.7C496.37 748.43 494.53 745.85 493.5 743.2C492.47 740.55 493.02 738.25 492.2 735.8C491.38 733.35 490.43 730.75 488.6 728.5C486.77 726.25 483.65 724.55 481.2 722.3C478.75 720.05 475.68 717.38 473.9 715C472.12 712.62 471.18 710.5 470.5 708C469.82 705.5 469.78 702.67 469.8 700C469.82 697.33 470.27 694.33 470.6 692C470.93 689.67 471.45 688.17 471.8 686C472.15 683.83 472.75 681.67 472.7 679C472.65 676.33 472.08 672.67 471.5 670C470.92 667.33 469.87 665.5 469.2 663C468.53 660.5 467.95 657.83 467.5 655C467.05 652.17 466.75 648.83 466.5 646C466.25 643.17 466.15 640.67 466 638C465.85 635.33 467.15 631.33 465.6 630C464.05 628.67 458.25 628.33 456.7 630Z" fill="#00eaff" filter="url(#b0_5)"/><g clip-path="url(#co)"><path d="M459 692C457.58 694.17 459.17 701.33 459 705C458.83 708.67 456.67 712.5 458 714C459.33 715.5 465.5 715.5 467 714C468.5 712.5 466.92 708.67 467 705C467.08 701.33 468.83 694.17 467.5 692C466.17 689.83 460.42 689.83 459 692Z" fill="#50ffd8" filter="url(#b1_2)"/><path d="M458.4 628C457.4 630.83 458.32 640.17 458 645C457.68 649.83 457.17 653.17 456.5 657C455.83 660.83 454.58 664.33 454 668C453.42 671.67 452.83 675.83 453 679C453.17 682.17 454.08 684.83 455 687C455.92 689.17 456.5 691.17 458.5 692C460.5 692.83 465.08 693 467 692C468.92 691 469.37 688.17 470 686C470.63 683.83 470.88 682 470.8 679C470.72 676 470.22 671.67 469.5 668C468.78 664.33 467.33 660.83 466.5 657C465.67 653.17 464.92 649.83 464.5 645C464.08 640.17 465.02 630.83 464 628C462.98 625.17 459.4 625.17 458.4 628Z" fill="#c8ff38" filter="url(#b1)"/><ellipse cx="461.5" cy="680.5" rx="4.5" ry="4.5" fill="#f4ff08" filter="url(#b1)"/><ellipse cx="461.5" cy="680.5" rx="2.3" ry="2.3" fill="#ffb000" filter="url(#b0_7)"/><path d="M423 767C424.67 763.67 426.5 760.17 428 757C429.5 753.83 430.68 750.92 432 748C433.32 745.08 433.82 741.73 435.9 739.5C437.98 737.27 441.85 735.83 444.5 734.6C447.15 733.37 448.73 732.92 451.8 732.1C454.87 731.28 459.42 730.52 462.9 729.7C466.38 728.88 469.65 727.72 472.7 727.2C475.75 726.68 478.97 725.98 481.2 726.6C483.43 727.22 484.87 728.75 486.1 730.9C487.33 733.05 487.58 736.03 488.6 739.5C489.62 742.97 490.57 748.03 492.2 751.7C493.83 755.37 496.77 758.95 498.4 761.5C500.03 764.05 500.8 765.17 502 767L423 767Z" fill="#a8ff58" filter="url(#b1_2)"/><path d="M437 752C436.5 749.75 438.5 746.25 440 744C441.5 741.75 443.5 739.92 446 738.5C448.5 737.08 451.83 736.25 455 735.5C458.17 734.75 461.67 734.75 465 734C468.33 733.25 472 731.5 475 731C478 730.5 481 730 483 731C485 732 486 734.5 487 737C488 739.5 488.67 743.17 489 746C489.33 748.83 490.17 752.08 489 754C487.83 755.92 485.17 756.83 482 757.5C478.83 758.17 474.5 757.83 470 758C465.5 758.17 459.5 758.58 455 758.5C450.5 758.42 446 758.58 443 757.5C440 756.42 437.5 754.25 437 752Z" fill="#f0f800" filter="url(#b1_5)"/><ellipse cx="459.2" cy="745" rx="8.5" ry="7" fill="#ffa400" filter="url(#b1_5)"/><ellipse cx="460.5" cy="744" rx="2.6" ry="2.6" fill="#ffc400" filter="url(#b1)"/><ellipse cx="451.5" cy="750.5" rx="6" ry="3.2" fill="#ffb400" filter="url(#b1_5)"/><ellipse cx="459" cy="752.5" rx="7" ry="3" fill="#ffa000" filter="url(#b2)"/><ellipse cx="480.2" cy="744.4" rx="7.2" ry="8.5" fill="#f4f000" filter="url(#b1_2)"/><ellipse cx="480.8" cy="745" rx="4.6" ry="6" fill="#ffa800" filter="url(#b1_5)"/><ellipse cx="481.2" cy="745.5" rx="2" ry="3" fill="#ffc000" filter="url(#b1)"/><ellipse cx="444.5" cy="742.5" rx="2.5" ry="2.5" fill="#d8ff30" filter="url(#b1)"/><path d="M424 767C426 764.83 426.5 761.67 430 760.5C433.5 759.33 439.17 760 445 760C450.83 760 458.33 760.5 465 760.5C471.67 760.5 479.33 760 485 760C490.67 760 496 759.33 499 760.5C502 761.67 501.67 764.83 503 767L424 767Z" fill="#c0ff48" filter="url(#b1_2)"/></g></svg>
<rect x="397.2" y="631.7" width="130.4" height="132.8" fill="none" stroke="#8a8a8a" stroke-width="1"/>
<path d="M397.2 764.5v-2.2M397.2 631.7v2.2M397.2 631.7h2.2M527.6 631.7h-2.2M403.72 764.5v-1.3M403.72 631.7v1.3M397.2 638.34h1.3M527.6 638.34h-1.3M410.24 764.5v-1.3M410.24 631.7v1.3M397.2 644.98h1.3M527.6 644.98h-1.3M416.76 764.5v-1.3M416.76 631.7v1.3M397.2 651.62h1.3M527.6 651.62h-1.3M423.28 764.5v-1.3M423.28 631.7v1.3M397.2 658.26h1.3M527.6 658.26h-1.3M429.8 764.5v-2.2M429.8 631.7v2.2M397.2 664.9h2.2M527.6 664.9h-2.2M436.32 764.5v-1.3M436.32 631.7v1.3M397.2 671.54h1.3M527.6 671.54h-1.3M442.84 764.5v-1.3M442.84 631.7v1.3M397.2 678.18h1.3M527.6 678.18h-1.3M449.36 764.5v-1.3M449.36 631.7v1.3M397.2 684.82h1.3M527.6 684.82h-1.3M455.88 764.5v-1.3M455.88 631.7v1.3M397.2 691.46h1.3M527.6 691.46h-1.3M462.4 764.5v-2.2M462.4 631.7v2.2M397.2 698.1h2.2M527.6 698.1h-2.2M468.92 764.5v-1.3M468.92 631.7v1.3M397.2 704.74h1.3M527.6 704.74h-1.3M475.44 764.5v-1.3M475.44 631.7v1.3M397.2 711.38h1.3M527.6 711.38h-1.3M481.96 764.5v-1.3M481.96 631.7v1.3M397.2 718.02h1.3M527.6 718.02h-1.3M488.48 764.5v-1.3M488.48 631.7v1.3M397.2 724.66h1.3M527.6 724.66h-1.3M495 764.5v-2.2M495 631.7v2.2M397.2 731.3h2.2M527.6 731.3h-2.2M501.52 764.5v-1.3M501.52 631.7v1.3M397.2 737.94h1.3M527.6 737.94h-1.3M508.04 764.5v-1.3M508.04 631.7v1.3M397.2 744.58h1.3M527.6 744.58h-1.3M514.56 764.5v-1.3M514.56 631.7v1.3M397.2 751.22h1.3M527.6 751.22h-1.3M521.08 764.5v-1.3M521.08 631.7v1.3M397.2 757.86h1.3M527.6 757.86h-1.3M527.6 764.5v-2.2M527.6 631.7v2.2M397.2 764.5h2.2M527.6 764.5h-2.2" stroke="#333" stroke-width="0.7" fill="none"/>
<g fill="#000"><text x="381.06" y="636.92" font-size="8.4" textLength="13.54" lengthAdjust="spacingAndGlyphs">0.60</text><text x="381.06" y="667.92" font-size="8.4" textLength="13.54" lengthAdjust="spacingAndGlyphs">0.55</text><text x="381.06" y="701.12" font-size="8.4" textLength="13.54" lengthAdjust="spacingAndGlyphs">0.50</text><text x="381.06" y="734.32" font-size="8.4" textLength="13.54" lengthAdjust="spacingAndGlyphs">0.45</text><text x="381.06" y="765.42" font-size="8.4" textLength="13.54" lengthAdjust="spacingAndGlyphs">0.40</text><text x="388.4" y="775.42" font-size="8.4" textLength="17.61" lengthAdjust="spacingAndGlyphs">−0.10</text><text x="421" y="775.42" font-size="8.4" textLength="17.61" lengthAdjust="spacingAndGlyphs">−0.05</text><text x="455.63" y="775.42" font-size="8.4" textLength="13.54" lengthAdjust="spacingAndGlyphs">0.00</text><text x="488.23" y="775.42" font-size="8.4" textLength="13.54" lengthAdjust="spacingAndGlyphs">0.05</text><text x="520.83" y="775.42" font-size="8.4" textLength="13.54" lengthAdjust="spacingAndGlyphs">0.10</text><text x="535.8" y="649.48" font-size="8.4" textLength="13.54" lengthAdjust="spacingAndGlyphs">0.04</text><text x="535.8" y="678.99" font-size="8.4" textLength="13.54" lengthAdjust="spacingAndGlyphs">0.03</text><text x="535.8" y="708.5" font-size="8.4" textLength="13.54" lengthAdjust="spacingAndGlyphs">0.02</text><text x="535.8" y="738.01" font-size="8.4" textLength="13.54" lengthAdjust="spacingAndGlyphs">0.01</text></g>
<text x="462.4" y="783.5" font-size="7" text-anchor="middle" fill="#000">x/L<tspan font-size="4" dy="1.2">o</tspan></text>
<text transform="translate(375,698.1) rotate(-90)" font-size="7" text-anchor="middle" fill="#000">y/L<tspan font-size="4" dy="1.2">o</tspan></text>
<text x="462.9" y="627.7" font-size="9" text-anchor="middle" fill="#000">T/T<tspan font-size="5" dy="1.5">c</tspan></text>
<rect x="529.4" y="631.7" width="4.5" height="132.8" fill="url(#jet)"/>
<path d="M533.9 646.46h-1.2M533.9 675.97h-1.2M533.9 705.48h-1.2M533.9 734.99h-1.2" stroke="#222" stroke-width="0.6"/>
<g class="cap" font-family="'Liberation Serif', serif" font-size="14.7" fill="#111"><text class="cap" x="421.58" y="805.5">(o)</text><text class="cap" x="444.92" y="805.5" font-style="italic">t</text><text class="cap" x="453" y="805.5">=</text><text class="cap" x="464.6" y="805.5">28.2</text><text class="cap" x="490.52" y="805.5" font-style="italic">t</text><text class="cap" x="494.12" y="808.1" font-style="italic" font-size="10.3">A</text></g>
</g>
<g id="pp"><svg x="582" y="631.1" width="130.3" height="133.8" viewBox="582 631.1 130.3 133.8" preserveAspectRatio="none" overflow="hidden"><rect x="581" y="630.1" width="132.3" height="135.8" fill="#0000fb"/><ellipse cx="623" cy="717" rx="7" ry="5" fill="#1040ff" filter="url(#b4)"/><ellipse cx="671" cy="716" rx="4" ry="5" fill="#1040ff" filter="url(#b4)"/><path d="M643.5 630C642.32 633.17 643.65 642.9 643.5 649C643.35 655.1 643.05 660.68 642.6 666.6C642.15 672.52 641.4 680.03 640.8 684.5C640.2 688.97 639.73 690.43 639 693.4C638.27 696.37 637.43 699.33 636.4 702.3C635.37 705.27 633.7 708.25 632.8 711.2C631.9 714.15 631.6 717.92 631 720C630.4 722.08 631.28 720.7 629.2 723.7C627.12 726.7 622.8 732.65 618.5 738C614.2 743.35 606.98 751.13 603.4 755.8C599.82 760.47 598.23 764.13 597 766C595.77 767.87 596.33 766.67 596 767L698 767C697.67 766.67 698.22 767.87 697 766C695.78 764.13 693.68 760.47 690.7 755.8C687.72 751.13 682.67 743.35 679.1 738C675.53 732.65 671.08 726.7 669.3 723.7C667.52 720.7 668.7 721.78 668.4 720C668.1 718.22 667.93 714.47 667.5 713C667.07 711.53 666.98 712.98 665.8 711.2C664.62 709.42 661.75 705.27 660.4 702.3C659.05 699.33 658.43 696.37 657.7 693.4C656.97 690.43 656.73 688.97 656 684.5C655.27 680.03 654.05 672.52 653.3 666.6C652.55 660.68 651.95 655.1 651.5 649C651.05 642.9 651.93 633.17 650.6 630C649.27 626.83 644.68 626.83 643.5 630Z" fill="#0c3cff" filter="url(#b4)" opacity="0.55"/><path d="M643.5 630C642.32 633.17 643.65 642.9 643.5 649C643.35 655.1 643.05 660.68 642.6 666.6C642.15 672.52 641.4 680.03 640.8 684.5C640.2 688.97 639.73 690.43 639 693.4C638.27 696.37 637.43 699.33 636.4 702.3C635.37 705.27 633.7 708.25 632.8 711.2C631.9 714.15 631.6 717.92 631 720C630.4 722.08 631.28 720.7 629.2 723.7C627.12 726.7 622.8 732.65 618.5 738C614.2 743.35 606.98 751.13 603.4 755.8C599.82 760.47 598.23 764.13 597 766C595.77 767.87 596.33 766.67 596 767L698 767C697.67 766.67 698.22 767.87 697 766C695.78 764.13 693.68 760.47 690.7 755.8C687.72 751.13 682.67 743.35 679.1 738C675.53 732.65 671.08 726.7 669.3 723.7C667.52 720.7 668.7 721.78 668.4 720C668.1 718.22 667.93 714.47 667.5 713C667.07 711.53 666.98 712.98 665.8 711.2C664.62 709.42 661.75 705.27 660.4 702.3C659.05 699.33 658.43 696.37 657.7 693.4C656.97 690.43 656.73 688.97 656 684.5C655.27 680.03 654.05 672.52 653.3 666.6C652.55 660.68 651.95 655.1 651.5 649C651.05 642.9 651.93 633.17 650.6 630C649.27 626.83 644.68 626.83 643.5 630Z" fill="#00eaff" filter="url(#b0_5)"/><g clip-path="url(#cp)"><path d="M645 628C644.28 631.5 645.12 642.67 645 649C644.88 655.33 644.67 660.17 644.3 666C643.93 671.83 643.43 679.17 642.8 684C642.17 688.83 641.38 691.5 640.5 695C639.62 698.5 638.5 701.83 637.5 705C636.5 708.17 635.42 711 634.5 714C633.58 717 634.17 719 632 723C629.83 727 625.67 732.67 621.5 738C617.33 743.33 610.5 750.17 607 755C603.5 759.83 602.67 763 600.5 767L694 767C691.83 763 690.42 759.83 687.5 755C684.58 750.17 679.92 743.17 676.5 738C673.08 732.83 669.08 728 667 724C664.92 720 665.17 717.17 664 714C662.83 710.83 661.33 708.17 660 705C658.67 701.83 657 698.5 656 695C655 691.5 654.75 688.83 654 684C653.25 679.17 652.22 671.83 651.5 666C650.78 660.17 650.07 655.33 649.7 649C649.33 642.67 650.08 631.5 649.3 628C648.52 624.5 645.72 624.5 645 628Z" fill="#98ff68" filter="url(#b1_3)"/><path d="M641 692C638.25 694.17 638.83 700 637.5 705C636.17 710 635.75 716.17 633 722C630.25 727.83 625.33 733.67 621 740C616.67 746.33 609.67 755.5 607 760C604.33 764.5 605.67 764.67 605 767L690 767C688 762 686.83 757 684 752C681.17 747 676.17 742 673 737C669.83 732 667.17 727.33 665 722C662.83 716.67 661.83 710 660 705C658.17 700 657.17 694.17 654 692C650.83 689.83 643.75 689.83 641 692Z" fill="#c0ff48" filter="url(#b2)"/><ellipse cx="651.5" cy="718" rx="8" ry="6" fill="#d8ff30" filter="url(#b3)"/><ellipse cx="639" cy="732.6" rx="6" ry="4" fill="#f0f800" filter="url(#b2)"/><ellipse cx="645" cy="743" rx="6" ry="4" fill="#e0ff20" filter="url(#b2)"/><ellipse cx="623" cy="748.6" rx="11" ry="5.5" fill="#ffd000" filter="url(#b2_5)" transform="rotate(-22 623 748.6)"/><ellipse cx="621" cy="750" rx="5.5" ry="3" fill="#ffb000" filter="url(#b1_5)" transform="rotate(-22 621 750)"/><ellipse cx="667.5" cy="753.1" rx="4" ry="3.5" fill="#f4f400" filter="url(#b1_5)"/><ellipse cx="640" cy="759" rx="14" ry="4" fill="#e8ff18" filter="url(#b3)"/></g></svg>
<rect x="582" y="631.1" width="130.3" height="133.8" fill="none" stroke="#8a8a8a" stroke-width="1"/>
<path d="M582 764.9v-2.2M582 631.1v2.2M582 631.1h2.2M712.3 631.1h-2.2M588.51 764.9v-1.3M588.51 631.1v1.3M582 637.79h1.3M712.3 637.79h-1.3M595.03 764.9v-1.3M595.03 631.1v1.3M582 644.48h1.3M712.3 644.48h-1.3M601.54 764.9v-1.3M601.54 631.1v1.3M582 651.17h1.3M712.3 651.17h-1.3M608.06 764.9v-1.3M608.06 631.1v1.3M582 657.86h1.3M712.3 657.86h-1.3M614.58 764.9v-2.2M614.58 631.1v2.2M582 664.55h2.2M712.3 664.55h-2.2M621.09 764.9v-1.3M621.09 631.1v1.3M582 671.24h1.3M712.3 671.24h-1.3M627.61 764.9v-1.3M627.61 631.1v1.3M582 677.93h1.3M712.3 677.93h-1.3M634.12 764.9v-1.3M634.12 631.1v1.3M582 684.62h1.3M712.3 684.62h-1.3M640.63 764.9v-1.3M640.63 631.1v1.3M582 691.31h1.3M712.3 691.31h-1.3M647.15 764.9v-2.2M647.15 631.1v2.2M582 698h2.2M712.3 698h-2.2M653.66 764.9v-1.3M653.66 631.1v1.3M582 704.69h1.3M712.3 704.69h-1.3M660.18 764.9v-1.3M660.18 631.1v1.3M582 711.38h1.3M712.3 711.38h-1.3M666.69 764.9v-1.3M666.69 631.1v1.3M582 718.07h1.3M712.3 718.07h-1.3M673.21 764.9v-1.3M673.21 631.1v1.3M582 724.76h1.3M712.3 724.76h-1.3M679.72 764.9v-2.2M679.72 631.1v2.2M582 731.45h2.2M712.3 731.45h-2.2M686.24 764.9v-1.3M686.24 631.1v1.3M582 738.14h1.3M712.3 738.14h-1.3M692.75 764.9v-1.3M692.75 631.1v1.3M582 744.83h1.3M712.3 744.83h-1.3M699.27 764.9v-1.3M699.27 631.1v1.3M582 751.52h1.3M712.3 751.52h-1.3M705.78 764.9v-1.3M705.78 631.1v1.3M582 758.21h1.3M712.3 758.21h-1.3M712.3 764.9v-2.2M712.3 631.1v2.2M582 764.9h2.2M712.3 764.9h-2.2" stroke="#333" stroke-width="0.7" fill="none"/>
<g fill="#000"><text x="565.86" y="636.32" font-size="8.4" textLength="13.54" lengthAdjust="spacingAndGlyphs">0.60</text><text x="565.86" y="667.57" font-size="8.4" textLength="13.54" lengthAdjust="spacingAndGlyphs">0.55</text><text x="565.86" y="701.02" font-size="8.4" textLength="13.54" lengthAdjust="spacingAndGlyphs">0.50</text><text x="565.86" y="734.47" font-size="8.4" textLength="13.54" lengthAdjust="spacingAndGlyphs">0.45</text><text x="565.86" y="765.82" font-size="8.4" textLength="13.54" lengthAdjust="spacingAndGlyphs">0.40</text><text x="573.2" y="775.82" font-size="8.4" textLength="17.61" lengthAdjust="spacingAndGlyphs">−0.10</text><text x="605.77" y="775.82" font-size="8.4" textLength="17.61" lengthAdjust="spacingAndGlyphs">−0.05</text><text x="640.38" y="775.82" font-size="8.4" textLength="13.54" lengthAdjust="spacingAndGlyphs">0.00</text><text x="672.95" y="775.82" font-size="8.4" textLength="13.54" lengthAdjust="spacingAndGlyphs">0.05</text><text x="705.53" y="775.82" font-size="8.4" textLength="13.54" lengthAdjust="spacingAndGlyphs">0.10</text><text x="720.6" y="648.99" font-size="8.4" textLength="13.54" lengthAdjust="spacingAndGlyphs">0.04</text><text x="720.6" y="678.72" font-size="8.4" textLength="13.54" lengthAdjust="spacingAndGlyphs">0.03</text><text x="720.6" y="708.46" font-size="8.4" textLength="13.54" lengthAdjust="spacingAndGlyphs">0.02</text><text x="720.6" y="738.19" font-size="8.4" textLength="13.54" lengthAdjust="spacingAndGlyphs">0.01</text></g>
<text x="647.15" y="783.9" font-size="7" text-anchor="middle" fill="#000">x/L<tspan font-size="4" dy="1.2">o</tspan></text>
<text transform="translate(559.8,698) rotate(-90)" font-size="7" text-anchor="middle" fill="#000">y/L<tspan font-size="4" dy="1.2">o</tspan></text>
<text x="647.65" y="627.1" font-size="9" text-anchor="middle" fill="#000">T/T<tspan font-size="5" dy="1.5">c</tspan></text>
<rect x="714" y="631.1" width="4.7" height="133.8" fill="url(#jet)"/>
<path d="M718.7 645.97h-1.2M718.7 675.7h-1.2M718.7 705.43h-1.2M718.7 735.17h-1.2" stroke="#222" stroke-width="0.6"/>
<g class="cap" font-family="'Liberation Serif', serif" font-size="14.7" fill="#111"><text class="cap" x="606.33" y="805.9">(p)</text><text class="cap" x="629.67" y="805.9" font-style="italic">t</text><text class="cap" x="637.75" y="805.9">=</text><text class="cap" x="649.35" y="805.9">28.4</text><text class="cap" x="675.27" y="805.9" font-style="italic">t</text><text class="cap" x="678.87" y="808.5" font-style="italic" font-size="10.3">A</text></g>
</g>
</svg>
</body></html>
